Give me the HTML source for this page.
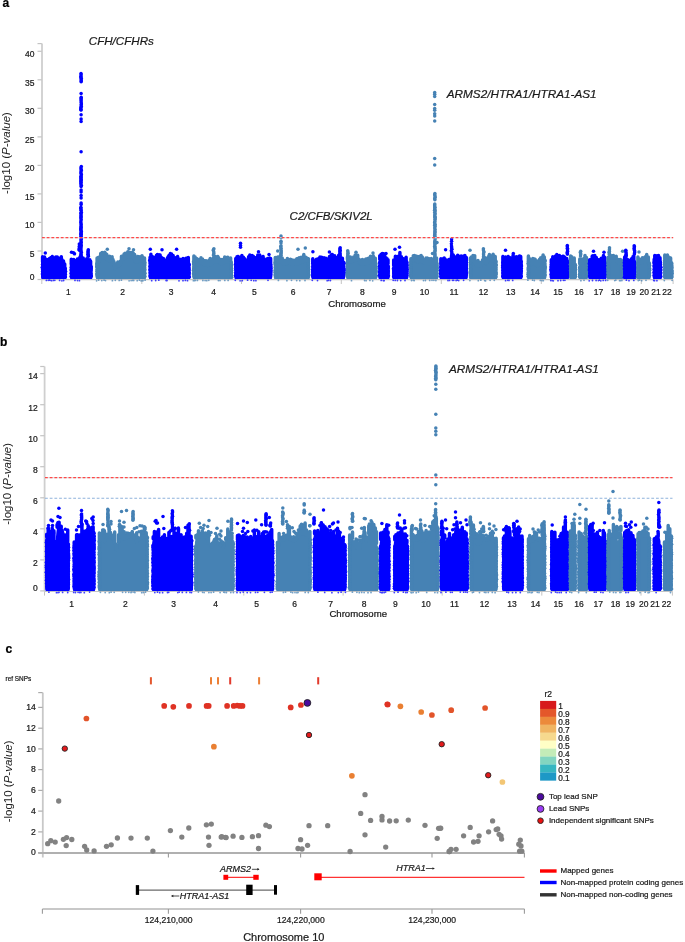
<!DOCTYPE html>
<html><head><meta charset="utf-8"><title>Figure</title>
<style>html,body{margin:0;padding:0;background:#fff;width:685px;height:942px;overflow:hidden}
svg{display:block;font-family:"Liberation Sans",sans-serif;will-change:transform}</style></head>
<body><svg width="685" height="942" viewBox="0 0 685 942" font-family="Liberation Sans, sans-serif"><text x="2.6" y="7.2" font-size="12.00" text-anchor="start" fill="#000" stroke="#000" stroke-width="0.22" font-weight="bold">a</text>
<line x1="42.0" y1="43.6" x2="42.0" y2="279.6" stroke="#cfcfcf" stroke-width="1.8"/>
<line x1="37.5" y1="43.6" x2="41.8" y2="43.6" stroke="#c4c4c4" stroke-width="1.2"/>
<line x1="37.5" y1="279.5" x2="41.8" y2="279.5" stroke="#c4c4c4" stroke-width="1.2"/>
<text x="34.4" y="279.5" font-size="8.50" text-anchor="end" fill="#1a1a1a" stroke="#1a1a1a" stroke-width="0.22">0</text>
<line x1="37.5" y1="251.0" x2="41.8" y2="251.0" stroke="#c4c4c4" stroke-width="1.2"/>
<text x="34.4" y="256.8" font-size="8.50" text-anchor="end" fill="#1a1a1a" stroke="#1a1a1a" stroke-width="0.22">5</text>
<line x1="37.5" y1="222.4" x2="41.8" y2="222.4" stroke="#c4c4c4" stroke-width="1.2"/>
<text x="34.4" y="228.2" font-size="8.50" text-anchor="end" fill="#1a1a1a" stroke="#1a1a1a" stroke-width="0.22">10</text>
<line x1="37.5" y1="193.9" x2="41.8" y2="193.9" stroke="#c4c4c4" stroke-width="1.2"/>
<text x="34.4" y="199.7" font-size="8.50" text-anchor="end" fill="#1a1a1a" stroke="#1a1a1a" stroke-width="0.22">15</text>
<line x1="37.5" y1="165.4" x2="41.8" y2="165.4" stroke="#c4c4c4" stroke-width="1.2"/>
<text x="34.4" y="171.2" font-size="8.50" text-anchor="end" fill="#1a1a1a" stroke="#1a1a1a" stroke-width="0.22">20</text>
<line x1="37.5" y1="136.9" x2="41.8" y2="136.9" stroke="#c4c4c4" stroke-width="1.2"/>
<text x="34.4" y="142.7" font-size="8.50" text-anchor="end" fill="#1a1a1a" stroke="#1a1a1a" stroke-width="0.22">25</text>
<line x1="37.5" y1="108.3" x2="41.8" y2="108.3" stroke="#c4c4c4" stroke-width="1.2"/>
<text x="34.4" y="114.1" font-size="8.50" text-anchor="end" fill="#1a1a1a" stroke="#1a1a1a" stroke-width="0.22">30</text>
<line x1="37.5" y1="79.8" x2="41.8" y2="79.8" stroke="#c4c4c4" stroke-width="1.2"/>
<text x="34.4" y="85.6" font-size="8.50" text-anchor="end" fill="#1a1a1a" stroke="#1a1a1a" stroke-width="0.22">35</text>
<line x1="37.5" y1="51.3" x2="41.8" y2="51.3" stroke="#c4c4c4" stroke-width="1.2"/>
<text x="34.4" y="57.1" font-size="8.50" text-anchor="end" fill="#1a1a1a" stroke="#1a1a1a" stroke-width="0.22">40</text>
<line x1="41.8" y1="279.7" x2="673.2" y2="279.7" stroke="#c4c4c4" stroke-width="1.2"/>
<line x1="41.8" y1="279.7" x2="41.8" y2="284" stroke="#c4c4c4" stroke-width="1"/>
<line x1="141.8" y1="279.7" x2="141.8" y2="284" stroke="#c4c4c4" stroke-width="1"/>
<line x1="241.5" y1="279.7" x2="241.5" y2="284" stroke="#c4c4c4" stroke-width="1"/>
<line x1="341.3" y1="279.7" x2="341.3" y2="284" stroke="#c4c4c4" stroke-width="1"/>
<line x1="441.3" y1="279.7" x2="441.3" y2="284" stroke="#c4c4c4" stroke-width="1"/>
<line x1="541.3" y1="279.7" x2="541.3" y2="284" stroke="#c4c4c4" stroke-width="1"/>
<line x1="641.3" y1="279.7" x2="641.3" y2="284" stroke="#c4c4c4" stroke-width="1"/>
<line x1="673.1" y1="279.7" x2="673.1" y2="284" stroke="#c4c4c4" stroke-width="1"/>
<text x="68.3" y="295.2" font-size="8.50" text-anchor="middle" fill="#1a1a1a" stroke="#1a1a1a" stroke-width="0.22">1</text>
<text x="122.6" y="295.2" font-size="8.50" text-anchor="middle" fill="#1a1a1a" stroke="#1a1a1a" stroke-width="0.22">2</text>
<text x="171.1" y="295.2" font-size="8.50" text-anchor="middle" fill="#1a1a1a" stroke="#1a1a1a" stroke-width="0.22">3</text>
<text x="213.6" y="295.2" font-size="8.50" text-anchor="middle" fill="#1a1a1a" stroke="#1a1a1a" stroke-width="0.22">4</text>
<text x="254.3" y="295.2" font-size="8.50" text-anchor="middle" fill="#1a1a1a" stroke="#1a1a1a" stroke-width="0.22">5</text>
<text x="293.0" y="295.2" font-size="8.50" text-anchor="middle" fill="#1a1a1a" stroke="#1a1a1a" stroke-width="0.22">6</text>
<text x="329.0" y="295.2" font-size="8.50" text-anchor="middle" fill="#1a1a1a" stroke="#1a1a1a" stroke-width="0.22">7</text>
<text x="362.4" y="295.2" font-size="8.50" text-anchor="middle" fill="#1a1a1a" stroke="#1a1a1a" stroke-width="0.22">8</text>
<text x="394.0" y="295.2" font-size="8.50" text-anchor="middle" fill="#1a1a1a" stroke="#1a1a1a" stroke-width="0.22">9</text>
<text x="424.5" y="295.2" font-size="8.50" text-anchor="middle" fill="#1a1a1a" stroke="#1a1a1a" stroke-width="0.22">10</text>
<text x="454.0" y="295.2" font-size="8.50" text-anchor="middle" fill="#1a1a1a" stroke="#1a1a1a" stroke-width="0.22">11</text>
<text x="483.5" y="295.2" font-size="8.50" text-anchor="middle" fill="#1a1a1a" stroke="#1a1a1a" stroke-width="0.22">12</text>
<text x="510.7" y="295.2" font-size="8.50" text-anchor="middle" fill="#1a1a1a" stroke="#1a1a1a" stroke-width="0.22">13</text>
<text x="535.0" y="295.2" font-size="8.50" text-anchor="middle" fill="#1a1a1a" stroke="#1a1a1a" stroke-width="0.22">14</text>
<text x="558.0" y="295.2" font-size="8.50" text-anchor="middle" fill="#1a1a1a" stroke="#1a1a1a" stroke-width="0.22">15</text>
<text x="578.9" y="295.2" font-size="8.50" text-anchor="middle" fill="#1a1a1a" stroke="#1a1a1a" stroke-width="0.22">16</text>
<text x="598.5" y="295.2" font-size="8.50" text-anchor="middle" fill="#1a1a1a" stroke="#1a1a1a" stroke-width="0.22">17</text>
<text x="615.6" y="295.2" font-size="8.50" text-anchor="middle" fill="#1a1a1a" stroke="#1a1a1a" stroke-width="0.22">18</text>
<text x="631.0" y="295.2" font-size="8.50" text-anchor="middle" fill="#1a1a1a" stroke="#1a1a1a" stroke-width="0.22">19</text>
<text x="644.2" y="295.2" font-size="8.50" text-anchor="middle" fill="#1a1a1a" stroke="#1a1a1a" stroke-width="0.22">20</text>
<text x="656.0" y="295.2" font-size="8.50" text-anchor="middle" fill="#1a1a1a" stroke="#1a1a1a" stroke-width="0.22">21</text>
<text x="667.0" y="295.2" font-size="8.50" text-anchor="middle" fill="#1a1a1a" stroke="#1a1a1a" stroke-width="0.22">22</text>
<text x="357.0" y="307.0" font-size="9.60" text-anchor="middle" fill="#1a1a1a" stroke="#1a1a1a" stroke-width="0.22">Chromosome</text>
<text transform="translate(9.5,153.0) rotate(-90)" font-size="11.5" text-anchor="middle" fill="#222">-log10 (<tspan font-style="italic">P-value</tspan>)</text>
<path d="M41.6 279.0 L41.6 260.4 L42.5 260.3 L43.4 260.9 L44.3 260.6 L45.2 261.9 L46.1 262.5 L47.0 262.2 L47.9 262.7 L48.8 261.5 L49.7 261.2 L50.6 260.6 L51.5 260.5 L52.4 260.7 L53.3 261.0 L54.2 260.2 L55.1 260.1 L56.0 260.4 L56.9 260.5 L57.8 260.3 L58.7 260.3 L59.6 261.1 L60.5 260.9 L61.4 262.9 L62.3 263.4 L63.2 264.3 L64.1 265.3 L65.0 266.1 L65.9 267.1 L66.2 279.0 Z" fill="#0000ff"/>
<path d="M42.6 256.8V261.7M43.8 257.4V261.7M44.5 257.1V262.2M45.8 259.2V263.4M47.0 259.5V263.6M48.4 259.9V263.4M49.5 258.5V262.4M50.9 257.4V262.0M51.6 257.7V261.9M52.3 256.5V261.8M53.7 257.8V261.6M54.6 258.0V261.5M55.8 257.1V261.3M57.3 257.1V261.1M58.0 257.8V261.3M59.6 258.5V261.7M60.6 258.2V262.5M61.3 256.7V263.4M62.1 259.7V264.3M63.5 261.0V266.1M64.7 264.1V267.1M42.8 261.1V277.2M65.0 267.8V277.2" stroke="#0000ff" stroke-width="3.50" stroke-linecap="round" fill="none"/>
<g fill="#0000ff"><circle cx="45.3" cy="253.1" r="1.75"/><circle cx="42.6" cy="262.1" r="1.75"/><circle cx="42.5" cy="264.4" r="1.75"/><circle cx="42.2" cy="267.6" r="1.75"/><circle cx="42.7" cy="269.5" r="1.75"/><circle cx="42.6" cy="271.4" r="1.75"/><circle cx="42.4" cy="273.9" r="1.75"/><circle cx="42.8" cy="275.9" r="1.75"/><circle cx="65.3" cy="268.8" r="1.75"/><circle cx="65.6" cy="271.4" r="1.75"/><circle cx="65.3" cy="274.3" r="1.75"/><circle cx="65.4" cy="277.0" r="1.75"/></g>
<g fill="#0000ff" opacity="0.75"><circle cx="46.4" cy="280.4" r="0.9"/><circle cx="48.3" cy="280.3" r="0.9"/><circle cx="49.3" cy="280.2" r="0.9"/><circle cx="50.1" cy="280.3" r="0.9"/><circle cx="51.6" cy="280.7" r="0.9"/><circle cx="53.4" cy="280.4" r="0.9"/><circle cx="54.8" cy="280.3" r="0.9"/><circle cx="59.6" cy="280.4" r="0.9"/><circle cx="61.9" cy="280.8" r="0.9"/><circle cx="63.6" cy="280.5" r="0.9"/></g>
<path d="M70.3 279.0 L70.3 262.9 L71.2 262.6 L72.1 262.1 L73.0 262.6 L73.9 262.9 L74.8 263.6 L75.7 263.5 L76.6 263.9 L77.5 262.9 L78.4 261.7 L79.3 261.4 L80.2 261.1 L81.1 260.7 L82.0 261.2 L82.9 261.8 L83.8 262.5 L84.7 262.7 L85.6 263.6 L86.5 263.0 L87.4 262.2 L88.3 261.8 L89.2 262.8 L90.1 263.5 L91.0 264.6 L91.9 265.6 L92.1 279.0 Z" fill="#0000ff"/>
<path d="M71.3 259.2V263.4M72.9 260.9V263.7M73.7 259.4V264.1M74.5 260.6V264.3M75.9 260.5V264.5M77.4 259.1V264.2M78.9 259.1V262.4M80.0 256.9V261.8M80.9 258.1V261.3M81.9 257.6V261.8M83.2 257.9V262.7M83.9 260.4V263.3M84.7 260.8V264.0M85.9 260.0V264.4M86.7 258.8V264.1M87.9 259.5V263.4M89.0 260.8V263.8M89.8 259.8V264.4M90.6 261.3V265.1M71.5 263.1V277.2M90.9 266.1V277.2" stroke="#0000ff" stroke-width="3.50" stroke-linecap="round" fill="none"/>
<g fill="#0000ff"><circle cx="81.1" cy="93.4" r="1.75"/><circle cx="81.1" cy="114.7" r="1.75"/><circle cx="81.1" cy="118.9" r="1.75"/><circle cx="81.1" cy="121.6" r="1.75"/><circle cx="81.1" cy="151.8" r="1.75"/><circle cx="81.1" cy="190.0" r="1.75"/><circle cx="81.1" cy="192.0" r="1.75"/><circle cx="81.1" cy="195.5" r="1.75"/><circle cx="81.1" cy="198.0" r="1.75"/><circle cx="81.1" cy="203.0" r="1.75"/><circle cx="81.1" cy="204.5" r="1.75"/><circle cx="71.5" cy="252.3" r="1.75"/><circle cx="73.5" cy="252.8" r="1.75"/><circle cx="74.5" cy="253.8" r="1.75"/><circle cx="71.4" cy="264.1" r="1.75"/><circle cx="71.3" cy="267.5" r="1.75"/><circle cx="71.1" cy="269.9" r="1.75"/><circle cx="71.2" cy="273.2" r="1.75"/><circle cx="71.2" cy="276.5" r="1.75"/><circle cx="91.3" cy="267.1" r="1.75"/><circle cx="91.2" cy="268.7" r="1.75"/><circle cx="90.9" cy="270.6" r="1.75"/><circle cx="91.0" cy="273.7" r="1.75"/><circle cx="91.4" cy="276.1" r="1.75"/><circle cx="81.0" cy="73.6" r="1.75"/><circle cx="81.1" cy="74.8" r="1.75"/><circle cx="80.9" cy="76.2" r="1.75"/><circle cx="80.9" cy="77.5" r="1.75"/><circle cx="81.3" cy="78.5" r="1.75"/><circle cx="81.1" cy="79.7" r="1.75"/><circle cx="81.3" cy="81.1" r="1.75"/><circle cx="81.1" cy="81.8" r="1.75"/><circle cx="81.2" cy="97.2" r="1.75"/><circle cx="81.1" cy="98.4" r="1.75"/><circle cx="81.1" cy="99.8" r="1.75"/><circle cx="81.1" cy="101.0" r="1.75"/><circle cx="81.2" cy="102.5" r="1.75"/><circle cx="81.4" cy="104.0" r="1.75"/><circle cx="81.1" cy="105.0" r="1.75"/><circle cx="81.3" cy="106.6" r="1.75"/><circle cx="80.9" cy="107.5" r="1.75"/><circle cx="80.8" cy="108.7" r="1.75"/><circle cx="80.8" cy="109.7" r="1.75"/><circle cx="81.1" cy="109.9" r="1.75"/><circle cx="81.3" cy="166.6" r="1.75"/><circle cx="80.9" cy="168.1" r="1.75"/><circle cx="81.2" cy="169.5" r="1.75"/><circle cx="81.3" cy="170.4" r="1.75"/><circle cx="80.9" cy="172.0" r="1.75"/><circle cx="81.0" cy="173.5" r="1.75"/><circle cx="81.4" cy="174.7" r="1.75"/><circle cx="80.9" cy="176.2" r="1.75"/><circle cx="81.1" cy="177.3" r="1.75"/><circle cx="80.9" cy="178.4" r="1.75"/><circle cx="81.2" cy="179.5" r="1.75"/><circle cx="81.1" cy="180.3" r="1.75"/><circle cx="80.8" cy="181.4" r="1.75"/><circle cx="81.2" cy="182.5" r="1.75"/><circle cx="80.8" cy="183.7" r="1.75"/><circle cx="81.3" cy="185.3" r="1.75"/><circle cx="81.1" cy="186.6" r="1.75"/><circle cx="80.9" cy="207.3" r="1.75"/><circle cx="80.8" cy="208.3" r="1.75"/><circle cx="81.0" cy="209.7" r="1.75"/><circle cx="81.1" cy="210.6" r="1.75"/><circle cx="81.3" cy="212.2" r="1.75"/><circle cx="80.9" cy="213.2" r="1.75"/><circle cx="81.1" cy="214.7" r="1.75"/><circle cx="80.9" cy="216.1" r="1.75"/><circle cx="81.2" cy="216.9" r="1.75"/><circle cx="80.8" cy="218.1" r="1.75"/><circle cx="81.2" cy="219.6" r="1.75"/><circle cx="80.9" cy="221.0" r="1.75"/><circle cx="80.8" cy="222.5" r="1.75"/><circle cx="81.1" cy="224.0" r="1.75"/><circle cx="81.1" cy="225.1" r="1.75"/><circle cx="81.0" cy="226.6" r="1.75"/><circle cx="81.1" cy="227.5" r="1.75"/><circle cx="80.9" cy="228.5" r="1.75"/><circle cx="80.8" cy="229.5" r="1.75"/><circle cx="81.0" cy="230.4" r="1.75"/><circle cx="81.3" cy="231.5" r="1.75"/><circle cx="81.1" cy="232.5" r="1.75"/><circle cx="81.0" cy="233.4" r="1.75"/><circle cx="81.0" cy="234.3" r="1.75"/><circle cx="81.2" cy="235.1" r="1.75"/><circle cx="80.9" cy="236.3" r="1.75"/><circle cx="81.4" cy="237.5" r="1.75"/><circle cx="81.3" cy="238.4" r="1.75"/><circle cx="81.1" cy="239.5" r="1.75"/><circle cx="81.0" cy="241.0" r="1.75"/><circle cx="81.2" cy="242.2" r="1.75"/><circle cx="81.0" cy="243.8" r="1.75"/><circle cx="81.2" cy="245.2" r="1.75"/><circle cx="81.0" cy="246.6" r="1.75"/><circle cx="80.8" cy="247.6" r="1.75"/><circle cx="80.8" cy="248.5" r="1.75"/><circle cx="81.0" cy="249.9" r="1.75"/><circle cx="80.9" cy="250.9" r="1.75"/><circle cx="81.3" cy="252.3" r="1.75"/><circle cx="81.0" cy="253.7" r="1.75"/><circle cx="81.0" cy="254.7" r="1.75"/><circle cx="80.9" cy="255.8" r="1.75"/><circle cx="81.1" cy="256.0" r="1.75"/><circle cx="79.3" cy="244.0" r="1.75"/><circle cx="79.7" cy="245.6" r="1.75"/><circle cx="79.2" cy="246.8" r="1.75"/><circle cx="79.3" cy="248.4" r="1.75"/><circle cx="79.1" cy="249.5" r="1.75"/><circle cx="79.4" cy="250.2" r="1.75"/><circle cx="88.3" cy="249.7" r="1.75"/><circle cx="88.1" cy="250.9" r="1.75"/><circle cx="88.0" cy="252.1" r="1.75"/><circle cx="88.1" cy="253.1" r="1.75"/><circle cx="88.0" cy="254.2" r="1.75"/><circle cx="88.2" cy="255.1" r="1.75"/><circle cx="88.4" cy="256.0" r="1.75"/><circle cx="88.3" cy="256.3" r="1.75"/></g>
<g fill="#0000ff" opacity="0.75"><circle cx="75.0" cy="280.4" r="0.9"/><circle cx="77.5" cy="280.6" r="0.9"/><circle cx="79.4" cy="280.7" r="0.9"/></g>
<path d="M96.1 279.0 L96.1 261.7 L97.0 260.9 L97.9 260.3 L98.8 260.0 L99.7 258.9 L100.6 257.1 L101.5 257.0 L102.4 256.6 L103.3 256.5 L104.2 256.5 L105.1 257.0 L106.0 257.2 L106.9 257.7 L107.8 259.3 L108.7 259.7 L109.6 259.8 L110.5 260.1 L111.4 260.6 L112.3 260.5 L113.2 262.2 L114.1 264.9 L115.0 267.8 L115.9 266.7 L116.8 265.8 L117.7 264.7 L118.6 265.0 L119.5 264.9 L120.4 263.0 L121.3 260.2 L122.2 258.2 L123.1 258.1 L124.0 257.9 L124.9 257.4 L125.8 256.8 L126.7 255.6 L127.6 255.4 L128.5 255.5 L129.4 256.0 L130.3 255.6 L131.2 255.9 L132.1 255.4 L133.0 255.6 L133.9 256.0 L134.8 258.8 L135.7 261.5 L136.6 261.8 L137.5 260.5 L138.4 260.2 L139.3 260.1 L140.2 259.9 L141.1 259.5 L142.0 260.1 L142.9 259.8 L143.8 260.9 L144.7 261.2 L145.6 260.6 L145.7 279.0 Z" fill="#4682b4"/>
<path d="M97.1 258.0V262.1M98.7 257.3V261.4M99.5 257.6V260.4M100.7 253.4V258.4M102.2 252.6V257.5M103.3 254.4V257.4M104.2 254.4V257.3M104.8 252.3V257.6M105.8 253.6V258.2M106.8 254.5V259.0M107.3 256.2V259.6M108.1 257.4V260.3M109.6 256.2V260.8M110.6 258.4V261.1M111.5 257.3V261.5M112.1 256.8V261.8M113.0 259.5V262.3M113.9 261.4V265.4M114.9 265.9V268.7M116.3 263.7V267.3M117.8 262.1V266.0M118.5 262.4V265.8M119.8 261.7V265.3M120.5 261.0V263.9M121.5 256.2V260.6M122.9 256.2V259.0M124.1 254.0V258.5M125.1 253.3V258.2M125.9 254.6V257.6M126.7 254.0V256.9M127.8 251.8V256.8M128.5 252.0V256.8M129.3 252.9V256.8M130.7 252.5V256.8M131.8 252.6V256.9M132.5 252.4V257.0M133.2 253.1V257.1M134.6 254.4V259.2M135.5 257.4V261.7M137.1 259.1V262.2M137.7 256.4V261.6M139.2 257.0V261.1M139.8 256.7V261.0M141.2 257.8V260.9M142.0 255.7V260.8M143.2 257.6V261.2M144.5 258.0V261.6M97.3 262.2V277.2M144.5 261.8V277.2" stroke="#4682b4" stroke-width="3.50" stroke-linecap="round" fill="none"/>
<g fill="#4682b4"><circle cx="107.3" cy="249.2" r="1.75"/><circle cx="129.0" cy="248.7" r="1.75"/><circle cx="133.5" cy="249.7" r="1.75"/><circle cx="96.9" cy="263.2" r="1.75"/><circle cx="96.8" cy="264.8" r="1.75"/><circle cx="96.7" cy="266.8" r="1.75"/><circle cx="97.1" cy="269.6" r="1.75"/><circle cx="97.1" cy="271.3" r="1.75"/><circle cx="96.8" cy="274.1" r="1.75"/><circle cx="97.2" cy="275.8" r="1.75"/><circle cx="144.9" cy="262.8" r="1.75"/><circle cx="144.7" cy="265.0" r="1.75"/><circle cx="144.5" cy="267.7" r="1.75"/><circle cx="144.8" cy="269.8" r="1.75"/><circle cx="144.9" cy="273.2" r="1.75"/><circle cx="144.8" cy="276.5" r="1.75"/></g>
<g fill="#4682b4" opacity="0.75"><circle cx="96.6" cy="280.8" r="0.9"/><circle cx="98.6" cy="280.2" r="0.9"/><circle cx="101.8" cy="280.6" r="0.9"/><circle cx="104.1" cy="280.2" r="0.9"/><circle cx="105.5" cy="280.6" r="0.9"/><circle cx="112.4" cy="280.7" r="0.9"/><circle cx="115.3" cy="280.3" r="0.9"/><circle cx="119.2" cy="280.4" r="0.9"/><circle cx="121.4" cy="280.2" r="0.9"/><circle cx="129.1" cy="280.8" r="0.9"/><circle cx="131.1" cy="280.6" r="0.9"/><circle cx="132.6" cy="280.4" r="0.9"/><circle cx="133.7" cy="280.4" r="0.9"/><circle cx="137.2" cy="280.7" r="0.9"/><circle cx="139.4" cy="280.2" r="0.9"/><circle cx="141.0" cy="280.8" r="0.9"/><circle cx="142.2" cy="280.7" r="0.9"/><circle cx="143.0" cy="280.7" r="0.9"/><circle cx="145.1" cy="280.2" r="0.9"/></g>
<path d="M149.1 279.0 L149.1 259.5 L150.0 258.9 L150.9 259.5 L151.8 259.9 L152.7 259.7 L153.6 259.9 L154.5 260.4 L155.4 259.4 L156.3 258.5 L157.2 258.3 L158.1 257.4 L159.0 257.9 L159.9 258.1 L160.8 259.4 L161.7 260.6 L162.6 261.5 L163.5 263.0 L164.4 262.8 L165.3 263.0 L166.2 262.9 L167.1 261.7 L168.0 260.5 L168.9 259.0 L169.8 258.0 L170.7 257.3 L171.6 257.7 L172.5 259.1 L173.4 259.7 L174.3 262.2 L175.2 261.6 L176.1 260.7 L177.0 259.5 L177.9 260.2 L178.8 260.7 L179.7 261.4 L180.6 262.1 L181.5 263.2 L182.4 262.8 L183.3 262.9 L184.2 263.3 L185.1 261.9 L186.0 260.8 L186.9 260.8 L187.8 261.3 L188.7 261.1 L189.6 262.5 L190.0 279.0 Z" fill="#0000ff"/>
<path d="M150.1 257.2V260.2M150.9 254.3V260.2M152.3 256.5V260.7M153.3 257.3V261.0M154.6 257.7V260.8M155.3 257.2V260.3M156.5 255.2V259.6M157.3 254.4V259.0M158.0 255.6V258.6M159.0 254.8V259.1M160.1 255.0V259.7M161.3 257.2V260.7M162.8 259.5V262.6M163.4 258.6V263.4M165.0 260.5V264.2M165.9 261.2V264.2M166.8 259.5V262.8M167.5 257.8V261.6M168.3 256.4V260.7M169.1 255.3V260.0M170.4 253.5V258.7M171.6 253.9V258.7M172.4 256.4V259.6M173.1 255.4V260.4M174.2 258.9V262.7M175.5 257.8V262.0M176.4 258.1V260.9M177.6 256.4V260.8M179.1 259.4V262.1M179.9 259.3V262.7M180.5 260.2V263.1M181.9 259.9V264.2M183.0 258.4V264.2M184.2 260.0V264.1M185.2 259.1V263.1M186.0 258.3V262.2M186.7 258.2V262.2M188.3 257.5V262.2M150.3 259.6V277.2M188.8 263.8V277.2" stroke="#0000ff" stroke-width="3.50" stroke-linecap="round" fill="none"/>
<g fill="#0000ff"><circle cx="150.3" cy="249.2" r="1.75"/><circle cx="162.0" cy="249.7" r="1.75"/><circle cx="176.6" cy="249.2" r="1.75"/><circle cx="149.7" cy="260.6" r="1.75"/><circle cx="150.2" cy="263.0" r="1.75"/><circle cx="150.0" cy="266.4" r="1.75"/><circle cx="149.9" cy="269.7" r="1.75"/><circle cx="150.2" cy="272.8" r="1.75"/><circle cx="150.1" cy="275.9" r="1.75"/><circle cx="189.3" cy="264.8" r="1.75"/><circle cx="188.9" cy="267.9" r="1.75"/><circle cx="189.1" cy="269.8" r="1.75"/><circle cx="189.1" cy="272.4" r="1.75"/><circle cx="189.0" cy="274.1" r="1.75"/><circle cx="189.4" cy="277.1" r="1.75"/></g>
<g fill="#0000ff" opacity="0.75"><circle cx="151.7" cy="280.7" r="0.9"/><circle cx="155.7" cy="280.5" r="0.9"/><circle cx="158.8" cy="280.2" r="0.9"/><circle cx="166.1" cy="280.5" r="0.9"/><circle cx="167.0" cy="280.5" r="0.9"/><circle cx="179.0" cy="280.8" r="0.9"/><circle cx="183.0" cy="280.7" r="0.9"/><circle cx="185.4" cy="280.4" r="0.9"/><circle cx="187.5" cy="280.7" r="0.9"/></g>
<path d="M192.9 279.0 L192.9 260.2 L193.8 260.6 L194.7 259.8 L195.6 260.7 L196.5 262.2 L197.4 263.2 L198.3 263.4 L199.2 262.5 L200.1 261.5 L201.0 261.2 L201.9 262.0 L202.8 263.2 L203.7 263.6 L204.6 264.2 L205.5 263.1 L206.4 263.6 L207.3 264.4 L208.2 264.5 L209.1 264.7 L210.0 264.1 L210.9 263.8 L211.8 263.3 L212.7 261.7 L213.6 261.7 L214.5 261.1 L215.4 260.6 L216.3 260.7 L217.2 260.0 L218.1 261.4 L219.0 261.5 L219.9 261.9 L220.8 262.9 L221.7 262.4 L222.6 261.8 L223.5 262.1 L224.4 261.0 L225.3 261.5 L226.2 260.9 L227.1 261.1 L228.0 261.4 L228.9 260.8 L229.8 261.0 L230.7 260.8 L231.6 260.6 L232.3 279.0 Z" fill="#4682b4"/>
<path d="M193.9 255.9V261.1M195.1 257.0V261.2M196.6 258.4V263.3M197.9 259.3V265.1M198.6 260.2V264.6M199.8 259.4V263.2M201.0 257.7V261.8M202.5 258.9V263.5M203.2 260.7V264.3M204.6 260.7V264.9M205.2 261.0V264.6M206.1 260.7V264.4M207.7 262.1V265.5M209.2 260.1V265.3M210.2 258.4V264.9M210.8 260.9V264.7M211.5 259.4V264.1M212.7 259.5V263.1M213.4 257.9V262.4M214.1 259.1V262.1M215.4 256.4V261.7M216.7 257.1V261.2M217.8 256.6V261.7M218.4 257.6V262.1M219.7 259.8V262.9M220.6 259.6V263.5M222.0 259.4V263.4M223.2 260.1V262.9M224.7 257.1V262.4M225.5 258.8V262.2M226.9 257.6V262.0M227.8 257.2V261.9M229.0 258.3V261.8M230.6 257.9V262.0M194.1 260.8V277.2M231.1 261.8V277.2" stroke="#4682b4" stroke-width="3.50" stroke-linecap="round" fill="none"/>
<g fill="#4682b4"><circle cx="193.5" cy="261.8" r="1.75"/><circle cx="193.6" cy="264.1" r="1.75"/><circle cx="193.9" cy="266.8" r="1.75"/><circle cx="193.7" cy="268.7" r="1.75"/><circle cx="193.5" cy="270.3" r="1.75"/><circle cx="194.0" cy="272.1" r="1.75"/><circle cx="193.5" cy="273.8" r="1.75"/><circle cx="194.0" cy="276.0" r="1.75"/><circle cx="231.2" cy="262.8" r="1.75"/><circle cx="231.5" cy="265.6" r="1.75"/><circle cx="231.6" cy="268.5" r="1.75"/><circle cx="231.5" cy="270.2" r="1.75"/><circle cx="231.6" cy="272.4" r="1.75"/><circle cx="231.7" cy="275.5" r="1.75"/><circle cx="231.7" cy="277.2" r="1.75"/><circle cx="213.9" cy="248.8" r="1.75"/><circle cx="213.4" cy="249.7" r="1.75"/><circle cx="213.3" cy="250.6" r="1.75"/><circle cx="213.8" cy="252.1" r="1.75"/><circle cx="213.8" cy="253.4" r="1.75"/><circle cx="213.5" cy="254.7" r="1.75"/><circle cx="213.6" cy="255.4" r="1.75"/></g>
<g fill="#4682b4" opacity="0.75"><circle cx="193.4" cy="280.7" r="0.9"/><circle cx="194.5" cy="280.5" r="0.9"/><circle cx="195.4" cy="280.4" r="0.9"/><circle cx="197.4" cy="280.4" r="0.9"/><circle cx="202.9" cy="280.5" r="0.9"/><circle cx="205.1" cy="280.6" r="0.9"/><circle cx="206.8" cy="280.7" r="0.9"/><circle cx="208.8" cy="280.3" r="0.9"/><circle cx="218.4" cy="280.6" r="0.9"/><circle cx="220.0" cy="280.6" r="0.9"/><circle cx="224.8" cy="280.4" r="0.9"/><circle cx="228.1" cy="280.4" r="0.9"/></g>
<path d="M234.8 279.0 L234.8 262.8 L235.7 261.4 L236.6 261.0 L237.5 260.8 L238.4 261.0 L239.3 261.0 L240.2 260.7 L241.1 259.5 L242.0 258.6 L242.9 259.5 L243.8 261.2 L244.7 262.1 L245.6 262.6 L246.5 262.3 L247.4 262.0 L248.3 260.7 L249.2 259.3 L250.1 258.7 L251.0 258.9 L251.9 259.2 L252.8 258.9 L253.7 259.3 L254.6 260.6 L255.5 262.6 L256.4 262.7 L257.3 260.0 L258.2 258.1 L259.1 258.1 L260.0 259.1 L260.9 260.2 L261.8 259.1 L262.7 258.4 L263.6 259.7 L264.5 263.2 L265.4 264.1 L266.3 262.6 L267.2 262.6 L268.1 261.3 L269.0 261.1 L269.9 262.3 L270.8 262.7 L271.7 263.2 L271.7 279.0 Z" fill="#0000ff"/>
<path d="M235.8 258.5V262.6M237.0 256.7V261.8M238.0 256.5V261.8M239.4 258.3V261.8M240.6 257.0V261.1M241.9 255.6V259.9M243.4 257.2V261.4M244.7 258.7V262.9M246.1 260.5V263.5M247.4 260.0V263.1M248.6 256.8V260.9M249.8 255.1V260.1M251.2 256.4V259.9M252.1 255.6V259.8M253.3 256.2V260.4M254.8 257.4V262.2M256.2 259.5V263.8M257.8 255.1V260.3M258.6 255.5V258.8M259.7 254.9V259.9M260.8 257.6V261.1M262.1 257.0V260.2M263.1 256.6V259.5M264.4 259.1V263.4M265.1 262.4V265.2M265.7 259.9V264.5M266.3 259.7V263.9M267.6 258.6V262.9M268.4 259.2V262.5M269.6 257.9V262.6M270.6 258.5V263.2M236.0 263.2V277.2M270.5 263.8V277.2" stroke="#0000ff" stroke-width="3.50" stroke-linecap="round" fill="none"/>
<g fill="#0000ff"><circle cx="240.5" cy="243.2" r="1.75"/><circle cx="240.5" cy="245.5" r="1.75"/><circle cx="240.5" cy="247.2" r="1.75"/><circle cx="269.0" cy="254.4" r="1.75"/><circle cx="258.5" cy="251.8" r="1.75"/><circle cx="235.5" cy="264.2" r="1.75"/><circle cx="235.7" cy="267.0" r="1.75"/><circle cx="235.8" cy="269.6" r="1.75"/><circle cx="235.8" cy="273.1" r="1.75"/><circle cx="235.5" cy="275.8" r="1.75"/><circle cx="270.8" cy="264.8" r="1.75"/><circle cx="270.9" cy="266.8" r="1.75"/><circle cx="271.0" cy="268.6" r="1.75"/><circle cx="271.0" cy="270.8" r="1.75"/><circle cx="270.8" cy="272.8" r="1.75"/><circle cx="270.8" cy="274.8" r="1.75"/><circle cx="270.5" cy="276.7" r="1.75"/></g>
<g fill="#0000ff" opacity="0.75"><circle cx="235.3" cy="280.3" r="0.9"/><circle cx="240.1" cy="280.8" r="0.9"/><circle cx="242.3" cy="280.7" r="0.9"/><circle cx="247.6" cy="280.2" r="0.9"/><circle cx="251.2" cy="280.3" r="0.9"/><circle cx="253.8" cy="280.7" r="0.9"/><circle cx="255.9" cy="280.7" r="0.9"/><circle cx="268.0" cy="280.3" r="0.9"/></g>
<path d="M274.3 279.0 L274.3 261.1 L275.2 261.0 L276.1 259.8 L277.0 260.8 L277.9 260.5 L278.8 260.8 L279.7 260.7 L280.6 260.7 L281.5 260.7 L282.4 261.9 L283.3 263.3 L284.2 262.5 L285.1 263.2 L286.0 263.4 L286.9 262.1 L287.8 262.0 L288.7 262.2 L289.6 262.8 L290.5 262.5 L291.4 263.5 L292.3 263.3 L293.2 263.2 L294.1 263.6 L295.0 262.8 L295.9 263.5 L296.8 263.1 L297.7 262.5 L298.6 262.7 L299.5 261.9 L300.4 261.6 L301.3 261.3 L302.2 261.1 L303.1 260.1 L304.0 260.1 L304.9 259.9 L305.8 259.9 L306.7 260.2 L307.6 260.3 L308.5 261.5 L309.4 261.7 L309.5 279.0 Z" fill="#4682b4"/>
<path d="M275.3 257.6V261.6M276.4 258.6V261.3M277.8 257.1V261.5M278.7 257.9V261.7M280.1 256.3V261.5M281.6 257.7V262.0M282.2 257.9V262.7M283.4 260.2V263.8M284.9 260.4V264.1M286.1 260.7V264.2M287.4 258.4V263.2M288.5 259.4V262.9M289.1 259.9V263.2M290.4 259.3V263.6M291.8 260.3V264.2M292.6 260.0V264.2M293.7 260.6V264.2M294.3 260.3V264.2M295.7 260.4V264.2M296.8 258.7V264.0M298.0 260.7V263.6M299.1 257.8V263.2M299.9 258.0V262.9M301.1 257.3V262.3M301.8 259.0V262.0M302.4 258.3V261.7M303.8 254.6V261.2M305.1 257.9V261.0M305.8 257.2V260.9M306.8 258.1V261.0M308.4 258.7V262.1M275.5 261.8V277.2M308.3 262.8V277.2" stroke="#4682b4" stroke-width="3.50" stroke-linecap="round" fill="none"/>
<g fill="#4682b4"><circle cx="281.0" cy="236.0" r="1.75"/><circle cx="281.0" cy="237.8" r="1.75"/><circle cx="281.0" cy="241.2" r="1.75"/><circle cx="281.0" cy="243.0" r="1.75"/><circle cx="277.7" cy="251.1" r="1.75"/><circle cx="298.0" cy="249.3" r="1.75"/><circle cx="305.3" cy="248.1" r="1.75"/><circle cx="275.0" cy="262.8" r="1.75"/><circle cx="275.3" cy="264.4" r="1.75"/><circle cx="275.4" cy="267.4" r="1.75"/><circle cx="275.2" cy="270.6" r="1.75"/><circle cx="275.2" cy="272.2" r="1.75"/><circle cx="275.2" cy="274.9" r="1.75"/><circle cx="308.4" cy="263.8" r="1.75"/><circle cx="308.6" cy="266.8" r="1.75"/><circle cx="308.7" cy="269.6" r="1.75"/><circle cx="308.6" cy="272.0" r="1.75"/><circle cx="308.9" cy="275.0" r="1.75"/><circle cx="281.0" cy="245.7" r="1.75"/><circle cx="280.7" cy="246.7" r="1.75"/><circle cx="281.1" cy="248.3" r="1.75"/><circle cx="280.9" cy="249.8" r="1.75"/><circle cx="281.3" cy="251.1" r="1.75"/><circle cx="281.1" cy="252.5" r="1.75"/><circle cx="281.0" cy="253.6" r="1.75"/><circle cx="280.9" cy="255.1" r="1.75"/><circle cx="281.0" cy="255.4" r="1.75"/></g>
<g fill="#4682b4" opacity="0.75"><circle cx="278.4" cy="280.4" r="0.9"/><circle cx="286.9" cy="280.7" r="0.9"/><circle cx="291.5" cy="280.3" r="0.9"/><circle cx="296.7" cy="280.6" r="0.9"/><circle cx="299.8" cy="280.7" r="0.9"/><circle cx="305.0" cy="280.5" r="0.9"/></g>
<path d="M311.8 279.0 L311.8 262.0 L312.7 262.6 L313.6 262.7 L314.5 263.1 L315.4 263.3 L316.3 263.7 L317.2 262.4 L318.1 261.7 L319.0 260.7 L319.9 261.0 L320.8 260.8 L321.7 261.0 L322.6 262.1 L323.5 261.7 L324.4 261.7 L325.3 262.4 L326.2 262.5 L327.1 261.9 L328.0 262.3 L328.9 261.0 L329.8 260.2 L330.7 258.6 L331.6 258.3 L332.5 259.2 L333.4 259.1 L334.3 259.2 L335.2 260.6 L336.1 261.3 L337.0 261.2 L337.9 260.2 L338.8 260.9 L339.7 260.9 L340.6 261.2 L341.5 261.6 L342.4 261.1 L343.3 261.0 L344.2 261.3 L344.7 279.0 Z" fill="#0000ff"/>
<path d="M312.8 258.7V263.6M313.9 261.2V264.2M315.5 260.6V264.6M316.5 259.3V264.2M317.4 259.6V263.4M318.9 258.3V261.8M320.0 257.1V262.0M321.6 257.3V262.4M322.5 259.7V262.6M324.0 257.8V263.0M325.3 259.6V263.2M325.9 258.3V263.2M327.5 259.7V263.2M328.7 258.7V262.5M329.5 256.5V261.5M330.3 255.9V260.6M331.6 254.5V259.8M332.3 254.5V259.8M333.2 256.9V259.8M334.7 255.8V260.7M335.3 258.8V261.7M336.6 258.1V262.2M338.0 257.2V261.3M338.7 255.2V261.4M339.9 256.8V261.7M340.8 257.7V261.9M341.6 259.0V262.2M342.4 258.3V262.3M313.0 262.2V277.2M343.5 262.2V277.2" stroke="#0000ff" stroke-width="3.50" stroke-linecap="round" fill="none"/>
<g fill="#0000ff"><circle cx="312.9" cy="251.8" r="1.75"/><circle cx="329.4" cy="252.1" r="1.75"/><circle cx="312.9" cy="263.2" r="1.75"/><circle cx="312.9" cy="266.7" r="1.75"/><circle cx="312.6" cy="270.0" r="1.75"/><circle cx="312.7" cy="271.9" r="1.75"/><circle cx="312.8" cy="274.0" r="1.75"/><circle cx="312.7" cy="275.9" r="1.75"/><circle cx="344.1" cy="263.2" r="1.75"/><circle cx="343.6" cy="266.6" r="1.75"/><circle cx="344.1" cy="268.7" r="1.75"/><circle cx="344.0" cy="270.3" r="1.75"/><circle cx="344.1" cy="272.4" r="1.75"/><circle cx="344.0" cy="273.9" r="1.75"/><circle cx="343.6" cy="276.1" r="1.75"/><circle cx="340.2" cy="247.8" r="1.75"/><circle cx="339.8" cy="249.0" r="1.75"/><circle cx="340.2" cy="250.2" r="1.75"/><circle cx="340.0" cy="251.1" r="1.75"/><circle cx="339.8" cy="252.1" r="1.75"/><circle cx="340.1" cy="253.5" r="1.75"/><circle cx="339.7" cy="254.4" r="1.75"/><circle cx="340.1" cy="255.3" r="1.75"/><circle cx="340.0" cy="256.4" r="1.75"/></g>
<g fill="#0000ff" opacity="0.75"><circle cx="312.3" cy="280.3" r="0.9"/><circle cx="317.5" cy="280.6" r="0.9"/><circle cx="327.2" cy="280.7" r="0.9"/><circle cx="328.6" cy="280.4" r="0.9"/><circle cx="330.4" cy="280.5" r="0.9"/></g>
<path d="M346.5 279.0 L346.5 259.2 L347.4 259.2 L348.3 258.4 L349.2 259.2 L350.1 260.0 L351.0 261.0 L351.9 261.1 L352.8 259.9 L353.7 259.4 L354.6 259.4 L355.5 258.3 L356.4 258.0 L357.3 259.0 L358.2 259.7 L359.1 261.2 L360.0 263.0 L360.9 262.5 L361.8 263.3 L362.7 263.3 L363.6 262.7 L364.5 262.7 L365.4 262.8 L366.3 262.5 L367.2 262.0 L368.1 261.6 L369.0 261.7 L369.9 260.8 L370.8 260.7 L371.7 260.4 L372.6 259.1 L373.5 259.9 L374.4 261.2 L375.3 261.5 L376.2 262.3 L376.8 279.0 Z" fill="#4682b4"/>
<path d="M347.5 256.7V259.6M348.5 256.8V259.9M349.5 258.0V260.8M350.4 257.0V261.7M351.5 259.3V262.0M353.0 258.1V261.3M353.6 256.9V260.8M355.2 255.1V259.8M356.4 255.1V259.5M357.1 255.6V259.8M357.7 255.2V260.1M359.1 259.2V262.1M360.5 260.8V263.8M361.1 260.3V263.9M362.4 259.5V264.0M363.9 260.6V264.2M365.0 259.7V263.9M365.9 259.1V263.6M366.6 259.6V263.4M367.7 258.5V263.1M368.9 257.9V262.8M369.6 257.8V262.4M370.5 256.2V261.8M371.9 257.2V260.9M373.2 255.7V260.5M374.3 257.9V261.8M375.3 258.3V262.8M347.7 260.8V277.2M375.6 262.8V277.2" stroke="#4682b4" stroke-width="3.50" stroke-linecap="round" fill="none"/>
<g fill="#4682b4"><circle cx="356.0" cy="252.3" r="1.75"/><circle cx="373.0" cy="252.9" r="1.75"/><circle cx="347.4" cy="261.8" r="1.75"/><circle cx="347.3" cy="264.0" r="1.75"/><circle cx="347.5" cy="265.5" r="1.75"/><circle cx="347.5" cy="268.8" r="1.75"/><circle cx="347.4" cy="271.4" r="1.75"/><circle cx="347.1" cy="273.4" r="1.75"/><circle cx="347.2" cy="275.5" r="1.75"/><circle cx="375.7" cy="263.8" r="1.75"/><circle cx="375.9" cy="267.0" r="1.75"/><circle cx="375.9" cy="268.6" r="1.75"/><circle cx="376.1" cy="271.0" r="1.75"/><circle cx="375.8" cy="272.7" r="1.75"/><circle cx="376.1" cy="276.1" r="1.75"/><circle cx="347.7" cy="250.8" r="1.75"/><circle cx="347.9" cy="251.9" r="1.75"/><circle cx="348.0" cy="253.2" r="1.75"/><circle cx="347.8" cy="254.6" r="1.75"/><circle cx="347.9" cy="256.0" r="1.75"/><circle cx="347.8" cy="256.4" r="1.75"/></g>
<g fill="#4682b4" opacity="0.75"><circle cx="351.5" cy="280.7" r="0.9"/><circle cx="364.6" cy="280.5" r="0.9"/><circle cx="366.1" cy="280.7" r="0.9"/><circle cx="369.9" cy="280.4" r="0.9"/><circle cx="372.7" cy="280.8" r="0.9"/></g>
<path d="M378.8 279.0 L378.8 260.8 L379.7 258.5 L380.6 257.8 L381.5 257.8 L382.4 256.3 L383.3 256.6 L384.2 257.5 L385.1 257.9 L386.0 259.9 L386.9 261.3 L387.8 262.5 L388.7 264.3 L389.2 279.0 Z" fill="#0000ff"/>
<path d="M379.8 255.7V259.6M381.1 254.3V258.6M382.3 253.5V257.9M383.6 253.7V258.2M384.6 254.7V258.6M386.0 257.8V260.6M387.1 258.7V262.4M388.0 259.8V263.8M380.0 261.8V277.2M388.0 265.8V277.2" stroke="#0000ff" stroke-width="3.50" stroke-linecap="round" fill="none"/>
<g fill="#0000ff"><circle cx="386.0" cy="253.4" r="1.75"/><circle cx="379.8" cy="262.8" r="1.75"/><circle cx="379.5" cy="266.2" r="1.75"/><circle cx="379.9" cy="268.7" r="1.75"/><circle cx="379.5" cy="272.0" r="1.75"/><circle cx="379.4" cy="275.2" r="1.75"/><circle cx="388.3" cy="266.8" r="1.75"/><circle cx="388.2" cy="268.6" r="1.75"/><circle cx="388.3" cy="271.1" r="1.75"/><circle cx="388.1" cy="273.0" r="1.75"/><circle cx="388.4" cy="275.7" r="1.75"/></g>
<g fill="#0000ff" opacity="0.75"><circle cx="381.2" cy="280.4" r="0.9"/><circle cx="383.3" cy="280.6" r="0.9"/><circle cx="384.1" cy="280.7" r="0.9"/></g>
<path d="M392.7 279.0 L392.7 266.0 L393.6 264.7 L394.5 263.4 L395.4 263.1 L396.3 261.9 L397.2 260.9 L398.1 259.5 L399.0 258.4 L399.9 259.5 L400.8 259.3 L401.7 260.2 L402.6 261.4 L403.5 262.3 L404.4 262.6 L405.3 261.9 L406.2 260.8 L407.1 259.0 L407.9 279.0 Z" fill="#0000ff"/>
<path d="M393.7 260.1V265.4M394.6 260.8V264.2M395.4 256.2V263.6M396.6 258.2V262.6M397.5 256.4V261.6M398.7 257.3V260.1M399.9 252.4V260.2M401.4 256.8V261.3M402.8 258.5V263.0M404.4 259.2V263.2M405.2 258.6V262.9M406.1 257.2V261.7M393.9 267.8V277.2M406.7 261.8V277.2" stroke="#0000ff" stroke-width="3.50" stroke-linecap="round" fill="none"/>
<g fill="#0000ff"><circle cx="395.0" cy="249.3" r="1.75"/><circle cx="399.5" cy="247.2" r="1.75"/><circle cx="393.4" cy="268.8" r="1.75"/><circle cx="393.8" cy="270.7" r="1.75"/><circle cx="393.8" cy="273.0" r="1.75"/><circle cx="393.7" cy="276.4" r="1.75"/><circle cx="406.8" cy="262.8" r="1.75"/><circle cx="407.0" cy="265.3" r="1.75"/><circle cx="406.8" cy="267.6" r="1.75"/><circle cx="407.2" cy="269.4" r="1.75"/><circle cx="406.9" cy="271.6" r="1.75"/><circle cx="406.9" cy="273.5" r="1.75"/><circle cx="406.8" cy="275.4" r="1.75"/></g>
<g fill="#0000ff" opacity="0.75"><circle cx="393.2" cy="280.3" r="0.9"/><circle cx="395.2" cy="280.4" r="0.9"/><circle cx="397.4" cy="280.5" r="0.9"/><circle cx="400.7" cy="280.6" r="0.9"/><circle cx="405.0" cy="280.5" r="0.9"/></g>
<path d="M409.9 279.0 L409.9 260.9 L410.8 260.5 L411.7 260.6 L412.6 260.0 L413.5 260.2 L414.4 258.8 L415.3 258.4 L416.2 259.0 L417.1 259.6 L418.0 261.0 L418.9 260.3 L419.8 260.3 L420.7 259.9 L421.6 260.1 L422.5 260.9 L423.4 261.3 L424.3 261.9 L425.2 262.6 L426.1 262.1 L427.0 262.4 L427.9 261.9 L428.8 262.4 L429.7 262.4 L430.6 262.7 L431.5 262.3 L432.4 261.6 L433.3 261.4 L434.2 261.0 L435.1 261.1 L436.0 261.9 L436.9 261.7 L437.8 262.0 L437.9 279.0 Z" fill="#4682b4"/>
<path d="M410.9 258.8V261.7M412.4 258.3V261.4M413.3 255.8V261.0M414.5 255.6V260.0M415.8 256.1V259.5M417.2 256.6V261.0M418.0 256.7V261.7M419.4 257.8V261.3M420.1 256.3V261.0M421.1 255.6V260.8M422.3 257.0V261.9M423.5 259.4V262.8M424.5 259.7V263.2M425.1 260.1V263.2M426.0 258.1V263.2M427.2 258.1V263.2M427.9 260.0V263.2M429.4 258.7V263.5M430.4 260.3V263.7M431.3 258.5V263.6M432.3 260.2V263.1M433.7 259.3V262.4M434.7 257.3V262.4M435.7 258.7V262.6M436.5 258.0V262.8M411.1 261.8V277.2M436.7 262.8V277.2" stroke="#4682b4" stroke-width="3.50" stroke-linecap="round" fill="none"/>
<g fill="#4682b4"><circle cx="434.7" cy="92.5" r="1.75"/><circle cx="434.7" cy="94.3" r="1.75"/><circle cx="434.7" cy="96.5" r="1.75"/><circle cx="434.7" cy="104.6" r="1.75"/><circle cx="434.7" cy="108.5" r="1.75"/><circle cx="434.7" cy="110.3" r="1.75"/><circle cx="434.7" cy="113.8" r="1.75"/><circle cx="434.7" cy="116.1" r="1.75"/><circle cx="434.7" cy="120.9" r="1.75"/><circle cx="434.7" cy="158.6" r="1.75"/><circle cx="434.7" cy="164.9" r="1.75"/><circle cx="437.0" cy="242.6" r="1.75"/><circle cx="432.5" cy="253.4" r="1.75"/><circle cx="410.9" cy="262.8" r="1.75"/><circle cx="410.5" cy="265.3" r="1.75"/><circle cx="410.7" cy="268.1" r="1.75"/><circle cx="411.0" cy="270.1" r="1.75"/><circle cx="410.8" cy="272.3" r="1.75"/><circle cx="410.9" cy="274.2" r="1.75"/><circle cx="410.6" cy="276.0" r="1.75"/><circle cx="436.9" cy="263.8" r="1.75"/><circle cx="437.0" cy="265.7" r="1.75"/><circle cx="437.3" cy="268.1" r="1.75"/><circle cx="436.9" cy="270.3" r="1.75"/><circle cx="436.8" cy="273.6" r="1.75"/><circle cx="436.9" cy="276.2" r="1.75"/><circle cx="434.9" cy="193.4" r="1.75"/><circle cx="434.7" cy="194.8" r="1.75"/><circle cx="435.0" cy="196.1" r="1.75"/><circle cx="435.1" cy="197.3" r="1.75"/><circle cx="434.7" cy="198.8" r="1.75"/><circle cx="434.9" cy="199.8" r="1.75"/><circle cx="434.8" cy="203.9" r="1.75"/><circle cx="434.6" cy="204.9" r="1.75"/><circle cx="434.7" cy="205.9" r="1.75"/><circle cx="434.9" cy="207.3" r="1.75"/><circle cx="434.8" cy="208.1" r="1.75"/><circle cx="434.8" cy="209.3" r="1.75"/><circle cx="434.6" cy="210.3" r="1.75"/><circle cx="435.2" cy="211.1" r="1.75"/><circle cx="434.7" cy="212.5" r="1.75"/><circle cx="435.2" cy="213.8" r="1.75"/><circle cx="434.7" cy="215.1" r="1.75"/><circle cx="434.9" cy="216.3" r="1.75"/><circle cx="434.9" cy="217.2" r="1.75"/><circle cx="435.2" cy="218.0" r="1.75"/><circle cx="435.0" cy="219.3" r="1.75"/><circle cx="435.0" cy="220.9" r="1.75"/><circle cx="434.7" cy="221.9" r="1.75"/><circle cx="434.6" cy="222.8" r="1.75"/><circle cx="435.1" cy="224.2" r="1.75"/><circle cx="434.7" cy="225.3" r="1.75"/><circle cx="435.1" cy="226.6" r="1.75"/><circle cx="434.7" cy="228.1" r="1.75"/><circle cx="435.1" cy="229.5" r="1.75"/><circle cx="434.8" cy="230.9" r="1.75"/><circle cx="435.1" cy="231.9" r="1.75"/><circle cx="434.8" cy="232.9" r="1.75"/><circle cx="434.8" cy="234.2" r="1.75"/><circle cx="434.7" cy="235.6" r="1.75"/><circle cx="434.9" cy="236.5" r="1.75"/><circle cx="435.1" cy="237.8" r="1.75"/><circle cx="435.1" cy="239.1" r="1.75"/><circle cx="434.9" cy="240.7" r="1.75"/><circle cx="434.7" cy="241.9" r="1.75"/><circle cx="434.9" cy="242.9" r="1.75"/><circle cx="435.0" cy="243.8" r="1.75"/><circle cx="434.9" cy="244.7" r="1.75"/><circle cx="434.7" cy="246.3" r="1.75"/><circle cx="434.9" cy="247.1" r="1.75"/><circle cx="435.0" cy="248.1" r="1.75"/><circle cx="435.1" cy="248.9" r="1.75"/><circle cx="435.1" cy="250.4" r="1.75"/><circle cx="434.8" cy="251.5" r="1.75"/><circle cx="434.9" cy="252.9" r="1.75"/><circle cx="434.8" cy="254.0" r="1.75"/><circle cx="435.0" cy="255.1" r="1.75"/><circle cx="434.9" cy="256.0" r="1.75"/></g>
<g fill="#4682b4" opacity="0.75"><circle cx="411.5" cy="280.5" r="0.9"/><circle cx="413.2" cy="280.3" r="0.9"/><circle cx="414.2" cy="280.5" r="0.9"/><circle cx="423.5" cy="280.6" r="0.9"/><circle cx="425.4" cy="280.5" r="0.9"/><circle cx="429.7" cy="280.4" r="0.9"/><circle cx="432.0" cy="280.3" r="0.9"/><circle cx="433.9" cy="280.3" r="0.9"/><circle cx="435.9" cy="280.5" r="0.9"/></g>
<path d="M439.9 279.0 L439.9 262.1 L440.8 261.6 L441.7 261.5 L442.6 262.3 L443.5 262.2 L444.4 262.0 L445.3 262.9 L446.2 262.6 L447.1 262.6 L448.0 263.3 L448.9 263.0 L449.8 263.2 L450.7 262.4 L451.6 261.0 L452.5 259.9 L453.4 258.0 L454.3 259.9 L455.2 261.7 L456.1 262.7 L457.0 262.2 L457.9 260.9 L458.8 260.5 L459.7 260.2 L460.6 259.1 L461.5 259.0 L462.4 259.2 L463.3 258.7 L464.2 259.8 L465.1 259.9 L466.0 259.6 L466.9 260.7 L467.3 279.0 Z" fill="#0000ff"/>
<path d="M440.9 258.7V263.0M442.5 259.0V262.9M443.2 259.4V263.0M444.2 258.0V263.3M445.0 259.0V263.5M446.0 260.8V263.7M447.5 260.3V264.1M448.9 259.4V264.2M449.9 260.9V264.2M451.3 257.6V262.6M452.7 257.7V260.6M453.3 254.9V259.6M454.7 256.7V261.7M456.0 259.6V264.2M457.0 260.1V263.2M457.7 255.3V262.5M458.5 258.0V261.8M459.8 256.4V260.7M461.3 255.9V259.8M462.7 256.7V260.0M463.4 256.2V260.2M464.9 255.4V260.6M466.3 257.6V261.2M441.1 262.8V277.2M466.1 261.2V277.2" stroke="#0000ff" stroke-width="3.50" stroke-linecap="round" fill="none"/>
<g fill="#0000ff"><circle cx="451.6" cy="239.0" r="1.75"/><circle cx="451.6" cy="241.2" r="1.75"/><circle cx="451.4" cy="243.8" r="1.75"/><circle cx="445.6" cy="249.8" r="1.75"/><circle cx="441.0" cy="263.8" r="1.75"/><circle cx="440.8" cy="266.9" r="1.75"/><circle cx="440.7" cy="270.2" r="1.75"/><circle cx="440.9" cy="271.8" r="1.75"/><circle cx="440.5" cy="273.8" r="1.75"/><circle cx="441.0" cy="276.4" r="1.75"/><circle cx="466.4" cy="262.2" r="1.75"/><circle cx="466.5" cy="264.7" r="1.75"/><circle cx="466.3" cy="267.0" r="1.75"/><circle cx="466.5" cy="268.5" r="1.75"/><circle cx="466.1" cy="270.6" r="1.75"/><circle cx="466.7" cy="273.1" r="1.75"/><circle cx="466.2" cy="274.7" r="1.75"/><circle cx="451.5" cy="246.0" r="1.75"/><circle cx="451.6" cy="247.0" r="1.75"/><circle cx="451.6" cy="248.0" r="1.75"/><circle cx="451.9" cy="249.3" r="1.75"/><circle cx="451.3" cy="250.8" r="1.75"/><circle cx="451.8" cy="252.1" r="1.75"/><circle cx="451.8" cy="253.6" r="1.75"/><circle cx="451.7" cy="254.9" r="1.75"/><circle cx="451.5" cy="256.0" r="1.75"/><circle cx="451.6" cy="256.0" r="1.75"/></g>
<g fill="#0000ff" opacity="0.75"><circle cx="448.0" cy="280.5" r="0.9"/><circle cx="449.5" cy="280.4" r="0.9"/><circle cx="452.5" cy="280.3" r="0.9"/><circle cx="453.7" cy="280.3" r="0.9"/><circle cx="456.1" cy="280.5" r="0.9"/><circle cx="457.4" cy="280.2" r="0.9"/><circle cx="458.7" cy="280.6" r="0.9"/><circle cx="463.6" cy="280.3" r="0.9"/></g>
<path d="M469.4 279.0 L469.4 261.0 L470.3 259.8 L471.2 259.7 L472.1 259.2 L473.0 259.9 L473.9 260.6 L474.8 261.8 L475.7 263.8 L476.6 264.3 L477.5 264.6 L478.4 264.8 L479.3 265.3 L480.2 264.9 L481.1 265.0 L482.0 263.0 L482.9 261.7 L483.8 260.8 L484.7 261.5 L485.6 262.0 L486.5 262.4 L487.4 261.6 L488.3 260.2 L489.2 258.7 L490.1 259.3 L491.0 259.7 L491.9 259.6 L492.8 259.5 L493.7 259.6 L494.6 260.0 L495.5 260.4 L496.4 260.3 L496.9 279.0 Z" fill="#4682b4"/>
<path d="M470.4 257.9V260.8M471.3 257.0V260.4M472.3 257.2V260.7M473.0 255.5V260.9M473.9 257.2V261.2M474.7 255.7V262.9M475.9 261.7V265.5M477.2 261.2V265.9M478.0 260.6V265.9M479.0 262.1V266.0M480.1 262.6V266.2M481.1 262.7V266.1M482.4 260.3V263.6M483.3 258.5V261.8M484.3 257.4V262.0M485.9 257.9V263.6M487.2 259.1V262.4M488.8 255.9V260.6M489.4 254.6V259.8M490.1 256.0V260.0M490.9 257.4V260.3M491.6 255.8V260.6M493.1 254.2V260.9M494.0 258.2V260.9M495.2 256.6V261.0M470.6 261.8V277.2M495.7 260.8V277.2" stroke="#4682b4" stroke-width="3.50" stroke-linecap="round" fill="none"/>
<g fill="#4682b4"><circle cx="470.0" cy="250.3" r="1.75"/><circle cx="470.4" cy="262.8" r="1.75"/><circle cx="470.5" cy="266.1" r="1.75"/><circle cx="470.5" cy="269.0" r="1.75"/><circle cx="470.3" cy="271.8" r="1.75"/><circle cx="470.5" cy="275.0" r="1.75"/><circle cx="496.0" cy="261.8" r="1.75"/><circle cx="496.3" cy="265.1" r="1.75"/><circle cx="495.9" cy="267.8" r="1.75"/><circle cx="495.9" cy="269.8" r="1.75"/><circle cx="495.9" cy="272.2" r="1.75"/><circle cx="496.2" cy="274.1" r="1.75"/><circle cx="495.9" cy="276.9" r="1.75"/><circle cx="483.4" cy="248.8" r="1.75"/><circle cx="483.4" cy="250.1" r="1.75"/><circle cx="483.8" cy="251.5" r="1.75"/><circle cx="483.8" cy="252.6" r="1.75"/><circle cx="483.5" cy="254.0" r="1.75"/><circle cx="483.6" cy="255.1" r="1.75"/><circle cx="483.6" cy="256.4" r="1.75"/></g>
<g fill="#4682b4" opacity="0.75"><circle cx="469.9" cy="280.6" r="0.9"/><circle cx="478.3" cy="280.7" r="0.9"/><circle cx="480.8" cy="280.2" r="0.9"/><circle cx="484.7" cy="280.6" r="0.9"/><circle cx="485.6" cy="280.8" r="0.9"/><circle cx="490.1" cy="280.3" r="0.9"/><circle cx="494.3" cy="280.3" r="0.9"/></g>
<path d="M501.9 279.0 L501.9 261.4 L502.8 260.3 L503.7 260.4 L504.6 259.8 L505.5 259.9 L506.4 259.5 L507.3 260.0 L508.2 259.7 L509.1 260.6 L510.0 261.3 L510.9 261.8 L511.8 262.3 L512.7 261.5 L513.6 261.5 L514.5 260.6 L515.4 260.2 L516.3 260.7 L517.2 260.5 L518.1 260.2 L519.0 259.6 L519.9 259.4 L520.8 259.7 L521.7 259.6 L522.1 279.0 Z" fill="#0000ff"/>
<path d="M502.9 256.5V261.7M503.9 257.4V261.3M504.5 257.7V261.2M505.6 257.1V261.0M507.2 257.8V260.8M508.2 256.6V261.1M509.8 257.8V262.1M510.8 258.1V263.1M511.4 259.9V263.7M512.3 259.3V263.0M513.1 255.2V262.2M514.5 257.4V261.8M515.4 257.8V261.4M516.3 256.8V261.2M517.8 257.1V261.0M519.4 256.1V260.8M520.7 256.6V260.9M503.1 261.8V277.2M520.9 260.8V277.2" stroke="#0000ff" stroke-width="3.50" stroke-linecap="round" fill="none"/>
<g fill="#0000ff"><circle cx="505.5" cy="250.3" r="1.75"/><circle cx="513.3" cy="253.4" r="1.75"/><circle cx="502.7" cy="262.8" r="1.75"/><circle cx="502.7" cy="265.5" r="1.75"/><circle cx="502.7" cy="267.6" r="1.75"/><circle cx="502.9" cy="270.2" r="1.75"/><circle cx="502.9" cy="272.9" r="1.75"/><circle cx="502.8" cy="276.2" r="1.75"/><circle cx="521.3" cy="261.8" r="1.75"/><circle cx="521.1" cy="264.2" r="1.75"/><circle cx="521.5" cy="266.0" r="1.75"/><circle cx="521.3" cy="268.5" r="1.75"/><circle cx="521.4" cy="271.1" r="1.75"/><circle cx="521.0" cy="273.1" r="1.75"/><circle cx="521.2" cy="276.2" r="1.75"/></g>
<g fill="#0000ff" opacity="0.75"><circle cx="505.6" cy="280.7" r="0.9"/><circle cx="507.8" cy="280.3" r="0.9"/><circle cx="509.0" cy="280.4" r="0.9"/><circle cx="512.7" cy="280.4" r="0.9"/></g>
<path d="M527.4 279.0 L527.4 260.1 L528.3 260.1 L529.2 260.5 L530.1 261.7 L531.0 263.5 L531.9 263.1 L532.8 261.8 L533.7 261.5 L534.6 263.0 L535.5 263.5 L536.4 264.5 L537.3 264.7 L538.2 264.4 L539.1 262.7 L540.0 261.9 L540.9 260.8 L541.8 259.6 L542.7 259.3 L543.6 259.5 L544.5 259.4 L545.4 259.1 L545.9 279.0 Z" fill="#4682b4"/>
<path d="M528.4 256.1V261.2M529.4 258.4V261.9M530.4 260.0V263.6M531.3 260.2V264.5M532.8 258.4V263.2M534.2 259.0V263.3M535.1 259.2V264.3M536.1 261.4V265.3M537.6 261.3V265.7M538.6 260.5V264.6M539.6 259.2V263.3M540.7 257.7V261.7M542.1 257.1V260.7M543.1 255.1V260.2M544.3 256.9V260.2M528.6 260.8V277.2M544.7 259.8V277.2" stroke="#4682b4" stroke-width="3.50" stroke-linecap="round" fill="none"/>
<g fill="#4682b4"><circle cx="528.4" cy="261.8" r="1.75"/><circle cx="528.1" cy="263.4" r="1.75"/><circle cx="528.5" cy="265.1" r="1.75"/><circle cx="528.2" cy="268.1" r="1.75"/><circle cx="528.2" cy="269.7" r="1.75"/><circle cx="528.3" cy="272.6" r="1.75"/><circle cx="528.1" cy="274.3" r="1.75"/><circle cx="528.2" cy="276.6" r="1.75"/><circle cx="545.2" cy="260.8" r="1.75"/><circle cx="544.8" cy="264.0" r="1.75"/><circle cx="545.0" cy="266.2" r="1.75"/><circle cx="545.3" cy="267.7" r="1.75"/><circle cx="544.9" cy="269.7" r="1.75"/><circle cx="544.9" cy="271.9" r="1.75"/><circle cx="545.1" cy="275.1" r="1.75"/></g>
<g fill="#4682b4" opacity="0.75"><circle cx="527.9" cy="280.2" r="0.9"/><circle cx="532.6" cy="280.2" r="0.9"/><circle cx="534.3" cy="280.5" r="0.9"/><circle cx="540.3" cy="280.4" r="0.9"/><circle cx="542.0" cy="280.5" r="0.9"/><circle cx="543.3" cy="280.7" r="0.9"/></g>
<path d="M550.3 279.0 L550.3 262.9 L551.2 261.9 L552.1 261.6 L553.0 260.4 L553.9 260.1 L554.8 259.2 L555.7 259.6 L556.6 259.9 L557.5 259.2 L558.4 259.9 L559.3 258.9 L560.2 259.4 L561.1 259.2 L562.0 260.2 L562.9 260.0 L563.8 260.4 L564.7 260.2 L565.6 260.4 L566.5 260.4 L567.4 260.0 L568.3 260.0 L568.6 279.0 Z" fill="#0000ff"/>
<path d="M551.3 259.8V262.9M552.8 256.7V261.6M554.2 257.8V260.7M555.5 256.1V260.7M556.8 254.4V260.7M557.4 257.6V260.7M558.2 256.8V260.5M559.4 255.5V260.4M560.3 257.2V260.3M561.7 257.9V260.7M562.3 256.5V260.8M563.1 256.3V260.9M564.5 257.0V261.2M565.2 258.1V261.2M566.7 258.5V261.2M551.5 263.8V277.2M567.4 260.8V277.2" stroke="#0000ff" stroke-width="3.50" stroke-linecap="round" fill="none"/>
<g fill="#0000ff"><circle cx="551.3" cy="264.8" r="1.75"/><circle cx="551.0" cy="266.9" r="1.75"/><circle cx="550.9" cy="269.4" r="1.75"/><circle cx="551.2" cy="271.1" r="1.75"/><circle cx="551.1" cy="274.4" r="1.75"/><circle cx="551.4" cy="276.9" r="1.75"/><circle cx="567.6" cy="261.8" r="1.75"/><circle cx="567.9" cy="265.0" r="1.75"/><circle cx="568.0" cy="267.0" r="1.75"/><circle cx="567.8" cy="268.6" r="1.75"/><circle cx="567.6" cy="272.0" r="1.75"/><circle cx="567.8" cy="275.4" r="1.75"/><circle cx="567.6" cy="277.0" r="1.75"/><circle cx="567.3" cy="245.4" r="1.75"/><circle cx="567.3" cy="246.8" r="1.75"/><circle cx="567.4" cy="248.2" r="1.75"/><circle cx="567.5" cy="249.1" r="1.75"/><circle cx="567.5" cy="250.0" r="1.75"/><circle cx="567.6" cy="251.4" r="1.75"/><circle cx="567.2" cy="252.6" r="1.75"/><circle cx="567.3" cy="253.8" r="1.75"/><circle cx="567.5" cy="254.0" r="1.75"/></g>
<g fill="#0000ff" opacity="0.75"><circle cx="550.8" cy="280.5" r="0.9"/><circle cx="552.2" cy="280.6" r="0.9"/><circle cx="553.3" cy="280.8" r="0.9"/><circle cx="558.0" cy="280.7" r="0.9"/><circle cx="560.7" cy="280.5" r="0.9"/><circle cx="563.4" cy="280.3" r="0.9"/><circle cx="564.9" cy="280.3" r="0.9"/></g>
<path d="M569.6 279.0 L569.6 260.7 L570.5 260.2 L571.4 260.5 L572.3 260.5 L573.2 261.2 L574.1 261.4 L575.0 262.5 L575.9 262.7 L576.3 279.0 Z" fill="#4682b4"/>
<path d="M570.6 256.0V261.2M571.7 256.7V261.2M572.4 257.7V261.5M573.6 259.0V262.3M574.2 258.1V262.7M570.8 260.8V277.2M575.1 264.2V277.2" stroke="#4682b4" stroke-width="3.50" stroke-linecap="round" fill="none"/>
<g fill="#4682b4"><circle cx="570.7" cy="261.8" r="1.75"/><circle cx="570.3" cy="264.5" r="1.75"/><circle cx="570.6" cy="267.6" r="1.75"/><circle cx="570.5" cy="270.7" r="1.75"/><circle cx="570.8" cy="274.1" r="1.75"/><circle cx="575.4" cy="265.2" r="1.75"/><circle cx="575.2" cy="267.6" r="1.75"/><circle cx="575.6" cy="269.6" r="1.75"/><circle cx="575.2" cy="272.4" r="1.75"/><circle cx="575.2" cy="274.6" r="1.75"/><circle cx="575.3" cy="276.5" r="1.75"/></g>
<g fill="#4682b4" opacity="0.75"></g>
<path d="M578.8 279.0 L578.8 265.5 L579.7 263.3 L580.6 261.4 L581.5 261.3 L582.4 262.1 L583.3 262.1 L584.2 260.4 L585.1 258.2 L586.0 259.2 L586.9 259.9 L587.5 279.0 Z" fill="#4682b4"/>
<path d="M579.8 259.0V263.9M581.1 259.1V262.5M582.5 260.2V263.1M583.9 258.6V261.8M585.0 255.5V259.7M586.4 257.5V260.5M580.0 266.8V277.2M586.3 261.8V277.2" stroke="#4682b4" stroke-width="3.50" stroke-linecap="round" fill="none"/>
<g fill="#4682b4"><circle cx="579.6" cy="267.8" r="1.75"/><circle cx="579.9" cy="271.1" r="1.75"/><circle cx="579.5" cy="274.6" r="1.75"/><circle cx="579.5" cy="276.6" r="1.75"/><circle cx="586.5" cy="262.8" r="1.75"/><circle cx="586.5" cy="265.2" r="1.75"/><circle cx="586.9" cy="267.7" r="1.75"/><circle cx="586.8" cy="270.5" r="1.75"/><circle cx="586.8" cy="272.8" r="1.75"/><circle cx="586.7" cy="275.9" r="1.75"/><circle cx="580.7" cy="251.3" r="1.75"/><circle cx="580.3" cy="252.4" r="1.75"/><circle cx="580.7" cy="253.7" r="1.75"/><circle cx="580.6" cy="254.8" r="1.75"/><circle cx="580.5" cy="256.0" r="1.75"/></g>
<g fill="#4682b4" opacity="0.75"><circle cx="580.9" cy="280.7" r="0.9"/><circle cx="584.0" cy="280.3" r="0.9"/></g>
<path d="M588.7 279.0 L588.7 262.2 L589.6 262.2 L590.5 261.9 L591.4 261.4 L592.3 260.1 L593.2 259.3 L594.1 259.4 L595.0 259.3 L595.9 260.4 L596.8 260.6 L597.7 262.3 L598.6 262.2 L599.5 262.8 L600.4 263.2 L601.3 261.4 L602.2 260.0 L603.1 259.7 L604.0 259.9 L604.9 260.7 L605.8 260.7 L606.2 279.0 Z" fill="#0000ff"/>
<path d="M589.7 259.7V263.7M590.8 260.1V262.8M592.2 256.3V261.2M592.8 255.7V260.5M593.9 256.8V260.0M594.8 255.5V260.5M596.3 257.6V261.5M597.8 260.1V263.1M598.5 259.8V263.5M600.1 259.8V264.2M601.3 258.2V262.5M602.6 257.9V260.8M603.5 255.6V260.5M604.8 257.4V261.2M589.9 262.8V277.2M605.0 261.8V277.2" stroke="#0000ff" stroke-width="3.50" stroke-linecap="round" fill="none"/>
<g fill="#0000ff"><circle cx="593.5" cy="251.3" r="1.75"/><circle cx="604.0" cy="252.3" r="1.75"/><circle cx="589.3" cy="263.8" r="1.75"/><circle cx="589.4" cy="266.7" r="1.75"/><circle cx="589.7" cy="268.3" r="1.75"/><circle cx="589.3" cy="270.1" r="1.75"/><circle cx="589.8" cy="273.3" r="1.75"/><circle cx="589.5" cy="276.0" r="1.75"/><circle cx="605.3" cy="262.8" r="1.75"/><circle cx="605.4" cy="265.7" r="1.75"/><circle cx="605.5" cy="267.8" r="1.75"/><circle cx="605.4" cy="269.9" r="1.75"/><circle cx="605.6" cy="272.2" r="1.75"/><circle cx="605.5" cy="275.0" r="1.75"/></g>
<g fill="#0000ff" opacity="0.75"><circle cx="589.2" cy="280.8" r="0.9"/><circle cx="592.5" cy="280.5" r="0.9"/><circle cx="596.1" cy="280.5" r="0.9"/><circle cx="598.4" cy="280.6" r="0.9"/><circle cx="599.5" cy="280.2" r="0.9"/><circle cx="600.8" cy="280.8" r="0.9"/><circle cx="603.2" cy="280.4" r="0.9"/><circle cx="605.6" cy="280.4" r="0.9"/></g>
<path d="M607.2 279.0 L607.2 259.7 L608.1 259.5 L609.0 259.3 L609.9 259.4 L610.8 260.3 L611.7 259.9 L612.6 259.9 L613.5 260.4 L614.4 259.8 L615.3 260.0 L616.2 260.4 L617.1 261.3 L618.0 261.6 L618.9 261.5 L619.8 262.2 L620.7 262.0 L621.6 262.2 L622.5 262.4 L622.7 279.0 Z" fill="#4682b4"/>
<path d="M608.2 257.3V260.7M609.1 257.4V260.3M610.0 256.9V260.5M611.4 255.8V261.0M612.6 256.8V261.2M613.4 255.4V261.0M614.8 257.2V260.8M616.2 256.2V261.2M617.5 259.5V262.3M618.8 259.5V262.8M620.3 259.6V263.0M621.3 259.9V263.1M608.4 260.8V277.2M621.5 262.8V277.2" stroke="#4682b4" stroke-width="3.50" stroke-linecap="round" fill="none"/>
<g fill="#4682b4"><circle cx="622.6" cy="251.2" r="1.75"/><circle cx="607.8" cy="261.8" r="1.75"/><circle cx="608.0" cy="264.3" r="1.75"/><circle cx="607.8" cy="267.2" r="1.75"/><circle cx="608.2" cy="268.9" r="1.75"/><circle cx="608.1" cy="270.6" r="1.75"/><circle cx="607.9" cy="273.1" r="1.75"/><circle cx="608.0" cy="275.9" r="1.75"/><circle cx="621.9" cy="263.8" r="1.75"/><circle cx="622.0" cy="265.8" r="1.75"/><circle cx="622.0" cy="268.9" r="1.75"/><circle cx="621.9" cy="270.7" r="1.75"/><circle cx="621.8" cy="273.7" r="1.75"/><circle cx="622.1" cy="277.0" r="1.75"/><circle cx="609.5" cy="247.8" r="1.75"/><circle cx="609.5" cy="249.1" r="1.75"/><circle cx="609.4" cy="250.0" r="1.75"/><circle cx="609.4" cy="251.4" r="1.75"/><circle cx="609.0" cy="252.4" r="1.75"/><circle cx="609.5" cy="253.7" r="1.75"/><circle cx="609.3" cy="254.4" r="1.75"/></g>
<g fill="#4682b4" opacity="0.75"><circle cx="607.7" cy="280.3" r="0.9"/><circle cx="614.8" cy="280.6" r="0.9"/><circle cx="615.8" cy="280.2" r="0.9"/><circle cx="619.6" cy="280.7" r="0.9"/><circle cx="620.6" cy="280.6" r="0.9"/><circle cx="621.9" cy="280.5" r="0.9"/></g>
<path d="M623.7 279.0 L623.7 261.2 L624.6 260.0 L625.5 259.9 L626.4 260.2 L627.3 261.3 L628.2 262.2 L629.1 264.4 L630.0 263.6 L630.9 262.8 L631.8 261.5 L632.7 260.2 L633.6 260.0 L634.5 259.6 L635.4 260.4 L635.8 279.0 Z" fill="#0000ff"/>
<path d="M624.7 256.9V261.2M625.9 255.6V260.3M627.5 259.4V262.6M628.4 260.5V264.0M629.1 261.1V265.2M630.5 260.3V264.4M631.2 259.1V263.3M632.0 258.8V262.2M633.1 256.6V261.4M633.8 256.1V260.7M624.9 261.8V277.2M634.6 261.8V277.2" stroke="#0000ff" stroke-width="3.50" stroke-linecap="round" fill="none"/>
<g fill="#0000ff"><circle cx="624.3" cy="262.8" r="1.75"/><circle cx="624.3" cy="265.7" r="1.75"/><circle cx="624.4" cy="269.1" r="1.75"/><circle cx="624.8" cy="272.0" r="1.75"/><circle cx="624.9" cy="273.9" r="1.75"/><circle cx="624.4" cy="277.2" r="1.75"/><circle cx="634.8" cy="262.8" r="1.75"/><circle cx="634.7" cy="265.0" r="1.75"/><circle cx="635.2" cy="267.7" r="1.75"/><circle cx="634.7" cy="269.8" r="1.75"/><circle cx="634.9" cy="271.7" r="1.75"/><circle cx="635.1" cy="275.0" r="1.75"/><circle cx="625.8" cy="250.2" r="1.75"/><circle cx="625.8" cy="251.1" r="1.75"/><circle cx="626.0" cy="252.5" r="1.75"/><circle cx="626.2" cy="254.1" r="1.75"/><circle cx="626.0" cy="255.5" r="1.75"/><circle cx="626.0" cy="255.6" r="1.75"/><circle cx="634.2" cy="245.8" r="1.75"/><circle cx="634.4" cy="246.7" r="1.75"/><circle cx="634.2" cy="247.9" r="1.75"/><circle cx="634.1" cy="248.9" r="1.75"/><circle cx="634.5" cy="250.4" r="1.75"/><circle cx="634.7" cy="252.0" r="1.75"/><circle cx="634.5" cy="253.1" r="1.75"/><circle cx="634.4" cy="254.0" r="1.75"/></g>
<g fill="#0000ff" opacity="0.75"><circle cx="626.4" cy="280.2" r="0.9"/><circle cx="629.0" cy="280.7" r="0.9"/><circle cx="633.8" cy="280.4" r="0.9"/></g>
<path d="M636.9 279.0 L636.9 262.4 L637.8 261.7 L638.7 261.5 L639.6 261.3 L640.5 261.7 L641.4 262.5 L642.3 261.5 L643.2 260.9 L644.1 261.3 L645.0 260.9 L645.9 259.9 L646.8 259.0 L647.7 260.0 L648.6 261.3 L649.5 262.1 L650.3 279.0 Z" fill="#4682b4"/>
<path d="M637.9 257.0V262.7M638.5 258.4V262.4M639.8 259.2V262.7M641.1 259.7V263.2M641.8 259.9V262.9M642.4 257.8V262.5M643.3 258.0V262.2M644.7 258.6V262.2M645.3 256.8V261.9M646.7 254.6V260.2M648.3 257.0V261.7M638.1 262.8V277.2M649.1 262.8V277.2" stroke="#4682b4" stroke-width="3.50" stroke-linecap="round" fill="none"/>
<g fill="#4682b4"><circle cx="639.0" cy="252.1" r="1.75"/><circle cx="637.7" cy="263.8" r="1.75"/><circle cx="637.9" cy="267.1" r="1.75"/><circle cx="638.1" cy="268.9" r="1.75"/><circle cx="638.0" cy="271.9" r="1.75"/><circle cx="637.6" cy="275.4" r="1.75"/><circle cx="637.6" cy="277.2" r="1.75"/><circle cx="649.4" cy="263.8" r="1.75"/><circle cx="649.6" cy="265.5" r="1.75"/><circle cx="649.7" cy="268.7" r="1.75"/><circle cx="649.6" cy="270.2" r="1.75"/><circle cx="649.6" cy="272.9" r="1.75"/><circle cx="649.5" cy="275.4" r="1.75"/></g>
<g fill="#4682b4" opacity="0.75"><circle cx="638.3" cy="280.5" r="0.9"/><circle cx="639.6" cy="280.2" r="0.9"/><circle cx="641.7" cy="280.7" r="0.9"/><circle cx="646.0" cy="280.3" r="0.9"/></g>
<path d="M653.2 279.0 L653.2 260.8 L654.1 261.2 L655.0 261.2 L655.9 260.1 L656.8 258.3 L657.7 257.5 L658.6 257.8 L659.5 259.5 L660.4 259.8 L661.3 260.9 L661.5 279.0 Z" fill="#0000ff"/>
<path d="M654.2 259.2V262.0M654.8 255.4V261.9M656.0 256.7V260.7M657.0 255.8V259.5M658.5 255.5V258.9M660.0 257.8V260.9M654.4 261.8V277.2M660.3 261.8V277.2" stroke="#0000ff" stroke-width="3.50" stroke-linecap="round" fill="none"/>
<g fill="#0000ff"><circle cx="654.0" cy="262.8" r="1.75"/><circle cx="654.1" cy="265.9" r="1.75"/><circle cx="654.3" cy="269.2" r="1.75"/><circle cx="654.1" cy="272.6" r="1.75"/><circle cx="654.2" cy="275.5" r="1.75"/><circle cx="660.5" cy="262.8" r="1.75"/><circle cx="660.4" cy="264.9" r="1.75"/><circle cx="660.9" cy="267.3" r="1.75"/><circle cx="660.9" cy="270.1" r="1.75"/><circle cx="660.8" cy="273.1" r="1.75"/><circle cx="660.8" cy="276.6" r="1.75"/></g>
<g fill="#0000ff" opacity="0.75"><circle cx="653.7" cy="280.4" r="0.9"/><circle cx="654.5" cy="280.7" r="0.9"/><circle cx="656.9" cy="280.7" r="0.9"/></g>
<path d="M663.8 279.0 L663.8 258.9 L664.7 257.7 L665.6 258.6 L666.5 258.7 L667.4 259.3 L668.3 258.9 L669.2 259.1 L670.1 260.4 L671.0 260.4 L671.9 261.7 L672.8 262.2 L672.8 279.0 Z" fill="#4682b4"/>
<path d="M664.8 255.1V259.0M665.8 256.5V259.4M667.4 255.1V260.2M668.3 256.7V260.0M669.6 257.7V260.4M670.6 257.9V261.4M665.0 259.8V277.2M671.6 262.8V277.2" stroke="#4682b4" stroke-width="3.50" stroke-linecap="round" fill="none"/>
<g fill="#4682b4"><circle cx="664.5" cy="260.8" r="1.75"/><circle cx="664.8" cy="262.7" r="1.75"/><circle cx="664.5" cy="264.3" r="1.75"/><circle cx="664.8" cy="266.2" r="1.75"/><circle cx="664.6" cy="269.6" r="1.75"/><circle cx="664.6" cy="272.3" r="1.75"/><circle cx="664.5" cy="275.0" r="1.75"/><circle cx="664.9" cy="277.1" r="1.75"/><circle cx="671.6" cy="263.8" r="1.75"/><circle cx="671.7" cy="266.0" r="1.75"/><circle cx="671.9" cy="267.7" r="1.75"/><circle cx="672.1" cy="271.1" r="1.75"/><circle cx="672.1" cy="273.2" r="1.75"/><circle cx="671.7" cy="275.0" r="1.75"/><circle cx="671.9" cy="277.1" r="1.75"/></g>
<g fill="#4682b4" opacity="0.75"><circle cx="664.3" cy="280.6" r="0.9"/><circle cx="672.1" cy="280.3" r="0.9"/></g>
<line x1="42" y1="237.7" x2="673.2" y2="237.7" stroke="#dfe3e3" stroke-width="1.1"/>
<line x1="42" y1="237.7" x2="673.2" y2="237.7" stroke="#ff4848" stroke-width="1.3" stroke-dasharray="2.8 1.9"/>
<text x="88.8" y="44.6" font-size="11.60" text-anchor="start" fill="#1a1a1a" stroke="#1a1a1a" stroke-width="0.22" font-style="italic">CFH/CFHRs</text>
<text x="446.8" y="97.8" font-size="11.72" text-anchor="start" fill="#1a1a1a" stroke="#1a1a1a" stroke-width="0.22" font-style="italic">ARMS2/HTRA1/HTRA1-AS1</text>
<text x="289.6" y="220.4" font-size="11.50" text-anchor="start" fill="#1a1a1a" stroke="#1a1a1a" stroke-width="0.22" font-style="italic">C2/CFB/SKIV2L</text>
<text x="0.0" y="345.7" font-size="12.00" text-anchor="start" fill="#000" stroke="#000" stroke-width="0.22" font-weight="bold">b</text>
<line x1="44.6" y1="366.5" x2="44.6" y2="591.3" stroke="#cfcfcf" stroke-width="1.8"/>
<line x1="40.2" y1="366.5" x2="44.5" y2="366.5" stroke="#c4c4c4" stroke-width="1.2"/>
<line x1="40.2" y1="590.9" x2="44.5" y2="590.9" stroke="#c4c4c4" stroke-width="1.2"/>
<text x="37.8" y="590.9" font-size="8.50" text-anchor="end" fill="#1a1a1a" stroke="#1a1a1a" stroke-width="0.22">0</text>
<line x1="40.2" y1="559.9" x2="44.5" y2="559.9" stroke="#c4c4c4" stroke-width="1.2"/>
<text x="37.8" y="565.7" font-size="8.50" text-anchor="end" fill="#1a1a1a" stroke="#1a1a1a" stroke-width="0.22">2</text>
<line x1="40.2" y1="528.8" x2="44.5" y2="528.8" stroke="#c4c4c4" stroke-width="1.2"/>
<text x="37.8" y="534.6" font-size="8.50" text-anchor="end" fill="#1a1a1a" stroke="#1a1a1a" stroke-width="0.22">4</text>
<line x1="40.2" y1="497.8" x2="44.5" y2="497.8" stroke="#c4c4c4" stroke-width="1.2"/>
<text x="37.8" y="503.6" font-size="8.50" text-anchor="end" fill="#1a1a1a" stroke="#1a1a1a" stroke-width="0.22">6</text>
<line x1="40.2" y1="466.7" x2="44.5" y2="466.7" stroke="#c4c4c4" stroke-width="1.2"/>
<text x="37.8" y="472.5" font-size="8.50" text-anchor="end" fill="#1a1a1a" stroke="#1a1a1a" stroke-width="0.22">8</text>
<line x1="40.2" y1="435.7" x2="44.5" y2="435.7" stroke="#c4c4c4" stroke-width="1.2"/>
<text x="37.8" y="441.5" font-size="8.50" text-anchor="end" fill="#1a1a1a" stroke="#1a1a1a" stroke-width="0.22">10</text>
<line x1="40.2" y1="404.7" x2="44.5" y2="404.7" stroke="#c4c4c4" stroke-width="1.2"/>
<text x="37.8" y="410.5" font-size="8.50" text-anchor="end" fill="#1a1a1a" stroke="#1a1a1a" stroke-width="0.22">12</text>
<line x1="40.2" y1="373.6" x2="44.5" y2="373.6" stroke="#c4c4c4" stroke-width="1.2"/>
<text x="37.8" y="379.4" font-size="8.50" text-anchor="end" fill="#1a1a1a" stroke="#1a1a1a" stroke-width="0.22">14</text>
<line x1="44.5" y1="591.5" x2="672.5" y2="591.5" stroke="#c4c4c4" stroke-width="1.2"/>
<line x1="44.5" y1="591.5" x2="44.5" y2="595.6" stroke="#c4c4c4" stroke-width="1"/>
<line x1="144.4" y1="591.5" x2="144.4" y2="595.6" stroke="#c4c4c4" stroke-width="1"/>
<line x1="243.8" y1="591.5" x2="243.8" y2="595.6" stroke="#c4c4c4" stroke-width="1"/>
<line x1="343.1" y1="591.5" x2="343.1" y2="595.6" stroke="#c4c4c4" stroke-width="1"/>
<line x1="442.2" y1="591.5" x2="442.2" y2="595.6" stroke="#c4c4c4" stroke-width="1"/>
<line x1="541.8" y1="591.5" x2="541.8" y2="595.6" stroke="#c4c4c4" stroke-width="1"/>
<line x1="641.0" y1="591.5" x2="641.0" y2="595.6" stroke="#c4c4c4" stroke-width="1"/>
<line x1="672.4" y1="591.5" x2="672.4" y2="595.6" stroke="#c4c4c4" stroke-width="1"/>
<text x="71.5" y="606.5" font-size="8.50" text-anchor="middle" fill="#1a1a1a" stroke="#1a1a1a" stroke-width="0.22">1</text>
<text x="125.3" y="606.5" font-size="8.50" text-anchor="middle" fill="#1a1a1a" stroke="#1a1a1a" stroke-width="0.22">2</text>
<text x="173.6" y="606.5" font-size="8.50" text-anchor="middle" fill="#1a1a1a" stroke="#1a1a1a" stroke-width="0.22">3</text>
<text x="215.7" y="606.5" font-size="8.50" text-anchor="middle" fill="#1a1a1a" stroke="#1a1a1a" stroke-width="0.22">4</text>
<text x="256.6" y="606.5" font-size="8.50" text-anchor="middle" fill="#1a1a1a" stroke="#1a1a1a" stroke-width="0.22">5</text>
<text x="294.6" y="606.5" font-size="8.50" text-anchor="middle" fill="#1a1a1a" stroke="#1a1a1a" stroke-width="0.22">6</text>
<text x="330.6" y="606.5" font-size="8.50" text-anchor="middle" fill="#1a1a1a" stroke="#1a1a1a" stroke-width="0.22">7</text>
<text x="364.0" y="606.5" font-size="8.50" text-anchor="middle" fill="#1a1a1a" stroke="#1a1a1a" stroke-width="0.22">8</text>
<text x="395.4" y="606.5" font-size="8.50" text-anchor="middle" fill="#1a1a1a" stroke="#1a1a1a" stroke-width="0.22">9</text>
<text x="426.0" y="606.5" font-size="8.50" text-anchor="middle" fill="#1a1a1a" stroke="#1a1a1a" stroke-width="0.22">10</text>
<text x="454.5" y="606.5" font-size="8.50" text-anchor="middle" fill="#1a1a1a" stroke="#1a1a1a" stroke-width="0.22">11</text>
<text x="484.4" y="606.5" font-size="8.50" text-anchor="middle" fill="#1a1a1a" stroke="#1a1a1a" stroke-width="0.22">12</text>
<text x="511.9" y="606.5" font-size="8.50" text-anchor="middle" fill="#1a1a1a" stroke="#1a1a1a" stroke-width="0.22">13</text>
<text x="535.5" y="606.5" font-size="8.50" text-anchor="middle" fill="#1a1a1a" stroke="#1a1a1a" stroke-width="0.22">14</text>
<text x="558.3" y="606.5" font-size="8.50" text-anchor="middle" fill="#1a1a1a" stroke="#1a1a1a" stroke-width="0.22">15</text>
<text x="579.1" y="606.5" font-size="8.50" text-anchor="middle" fill="#1a1a1a" stroke="#1a1a1a" stroke-width="0.22">16</text>
<text x="598.2" y="606.5" font-size="8.50" text-anchor="middle" fill="#1a1a1a" stroke="#1a1a1a" stroke-width="0.22">17</text>
<text x="615.5" y="606.5" font-size="8.50" text-anchor="middle" fill="#1a1a1a" stroke="#1a1a1a" stroke-width="0.22">18</text>
<text x="630.3" y="606.5" font-size="8.50" text-anchor="middle" fill="#1a1a1a" stroke="#1a1a1a" stroke-width="0.22">19</text>
<text x="643.7" y="606.5" font-size="8.50" text-anchor="middle" fill="#1a1a1a" stroke="#1a1a1a" stroke-width="0.22">20</text>
<text x="655.1" y="606.5" font-size="8.50" text-anchor="middle" fill="#1a1a1a" stroke="#1a1a1a" stroke-width="0.22">21</text>
<text x="666.5" y="606.5" font-size="8.50" text-anchor="middle" fill="#1a1a1a" stroke="#1a1a1a" stroke-width="0.22">22</text>
<text x="358.2" y="617.0" font-size="9.60" text-anchor="middle" fill="#1a1a1a" stroke="#1a1a1a" stroke-width="0.22">Chromosome</text>
<text transform="translate(11.3,483.8) rotate(-90)" font-size="11.5" text-anchor="middle" fill="#222">-log10 (<tspan font-style="italic">P-value</tspan>)</text>
<path d="M45.7 590.9 L45.7 537.8 L46.6 536.4 L47.5 534.3 L48.4 534.4 L49.3 533.9 L50.2 533.7 L51.1 533.0 L52.0 533.1 L52.9 534.3 L53.8 539.3 L54.7 545.1 L55.6 541.0 L56.5 531.3 L57.4 525.6 L58.3 526.0 L59.2 525.0 L60.1 526.3 L61.0 526.1 L61.9 531.9 L62.8 535.1 L63.7 536.6 L64.6 536.8 L65.5 537.7 L66.4 538.8 L67.3 539.5 L68.2 540.8 L69.1 542.5 L69.4 590.9 Z" fill="#0000ff"/>
<path d="M46.7 534.2V537.0M48.2 528.0V535.2M49.5 532.9V535.2M50.7 531.2V534.7M52.2 527.9V533.5M53.9 530.8V540.4M54.8 541.2V547.1M57.1 524.6V527.2M58.0 522.9V526.7M59.1 522.3V526.3M61.2 526.3V528.2M62.2 530.6V534.7M63.4 534.5V537.0M65.0 536.4V538.4M66.1 536.0V539.3M67.7 529.9V541.4M46.9 539.8V589.1M68.2 543.8V589.1" stroke="#0000ff" stroke-width="3.50" stroke-linecap="round" fill="none"/>
<g fill="#0000ff"><circle cx="51.0" cy="520.0" r="1.75"/><circle cx="48.5" cy="525.4" r="1.75"/><circle cx="52.5" cy="525.4" r="1.75"/><circle cx="58.0" cy="516.5" r="1.75"/><circle cx="60.0" cy="517.5" r="1.75"/><circle cx="48.2" cy="528.3" r="1.75"/><circle cx="58.9" cy="508.2" r="1.75"/><circle cx="65.3" cy="529.2" r="1.75"/><circle cx="58.1" cy="522.4" r="1.75"/><circle cx="65.5" cy="535.0" r="1.75"/><circle cx="52.5" cy="521.1" r="1.75"/><circle cx="62.6" cy="532.6" r="1.75"/><circle cx="53.6" cy="532.9" r="1.75"/><circle cx="46.6" cy="540.8" r="1.75"/><circle cx="46.3" cy="542.5" r="1.75"/><circle cx="46.8" cy="545.0" r="1.75"/><circle cx="46.5" cy="546.5" r="1.75"/><circle cx="46.8" cy="549.0" r="1.75"/><circle cx="46.4" cy="551.4" r="1.75"/><circle cx="46.7" cy="554.0" r="1.75"/><circle cx="46.5" cy="556.5" r="1.75"/><circle cx="46.8" cy="559.3" r="1.75"/><circle cx="46.3" cy="562.4" r="1.75"/><circle cx="46.3" cy="565.4" r="1.75"/><circle cx="46.3" cy="567.6" r="1.75"/><circle cx="46.7" cy="569.5" r="1.75"/><circle cx="46.3" cy="572.2" r="1.75"/><circle cx="46.7" cy="573.9" r="1.75"/><circle cx="46.6" cy="575.4" r="1.75"/><circle cx="46.7" cy="577.2" r="1.75"/><circle cx="46.5" cy="580.2" r="1.75"/><circle cx="46.6" cy="583.6" r="1.75"/><circle cx="46.9" cy="586.5" r="1.75"/><circle cx="68.4" cy="544.8" r="1.75"/><circle cx="68.5" cy="547.2" r="1.75"/><circle cx="68.5" cy="550.6" r="1.75"/><circle cx="68.6" cy="554.1" r="1.75"/><circle cx="68.7" cy="556.0" r="1.75"/><circle cx="68.8" cy="557.9" r="1.75"/><circle cx="68.4" cy="560.3" r="1.75"/><circle cx="68.4" cy="563.8" r="1.75"/><circle cx="68.4" cy="566.1" r="1.75"/><circle cx="68.3" cy="568.9" r="1.75"/><circle cx="68.3" cy="571.2" r="1.75"/><circle cx="68.2" cy="574.3" r="1.75"/><circle cx="68.4" cy="577.0" r="1.75"/><circle cx="68.6" cy="579.4" r="1.75"/><circle cx="68.3" cy="582.4" r="1.75"/><circle cx="68.3" cy="584.3" r="1.75"/><circle cx="68.3" cy="587.8" r="1.75"/></g>
<g fill="#0000ff" opacity="0.75"><circle cx="48.9" cy="592.2" r="0.9"/><circle cx="56.5" cy="592.7" r="0.9"/><circle cx="58.0" cy="592.6" r="0.9"/><circle cx="59.0" cy="592.3" r="0.9"/><circle cx="62.6" cy="592.4" r="0.9"/><circle cx="67.7" cy="592.5" r="0.9"/></g>
<path d="M73.2 590.9 L73.2 544.2 L74.1 543.8 L75.0 543.3 L75.9 542.0 L76.8 540.8 L77.7 540.4 L78.6 538.9 L79.5 537.2 L80.4 536.3 L81.3 534.8 L82.2 534.0 L83.1 533.4 L84.0 532.8 L84.9 533.1 L85.8 532.6 L86.7 533.4 L87.6 532.8 L88.5 531.7 L89.4 531.0 L90.3 530.2 L91.2 528.6 L92.1 528.3 L93.0 529.5 L93.9 530.4 L94.8 531.3 L94.9 590.9 Z" fill="#0000ff"/>
<path d="M74.2 542.1V544.3M76.6 534.8V542.4M77.9 537.0V540.7M80.3 534.8V537.3M81.9 524.0V535.5M84.2 531.2V533.8M86.3 530.8V534.1M88.2 525.7V533.0M89.3 529.4V531.9M90.6 527.9V530.7M91.6 527.6V529.7M93.1 526.7V530.4M74.4 544.8V589.1M93.7 532.2V589.1" stroke="#0000ff" stroke-width="3.50" stroke-linecap="round" fill="none"/>
<g fill="#0000ff"><circle cx="81.5" cy="510.5" r="1.75"/><circle cx="78.5" cy="526.5" r="1.75"/><circle cx="76.5" cy="530.0" r="1.75"/><circle cx="86.5" cy="521.5" r="1.75"/><circle cx="91.8" cy="518.5" r="1.75"/><circle cx="93.0" cy="520.5" r="1.75"/><circle cx="85.7" cy="521.0" r="1.75"/><circle cx="81.2" cy="526.2" r="1.75"/><circle cx="77.6" cy="534.7" r="1.75"/><circle cx="87.5" cy="529.5" r="1.75"/><circle cx="93.2" cy="517.0" r="1.75"/><circle cx="86.9" cy="523.5" r="1.75"/><circle cx="93.2" cy="523.6" r="1.75"/><circle cx="74.2" cy="545.8" r="1.75"/><circle cx="73.9" cy="547.8" r="1.75"/><circle cx="73.9" cy="550.5" r="1.75"/><circle cx="74.0" cy="553.7" r="1.75"/><circle cx="74.4" cy="555.6" r="1.75"/><circle cx="73.9" cy="558.2" r="1.75"/><circle cx="74.3" cy="560.2" r="1.75"/><circle cx="74.3" cy="561.7" r="1.75"/><circle cx="74.4" cy="564.6" r="1.75"/><circle cx="74.2" cy="566.6" r="1.75"/><circle cx="73.8" cy="569.5" r="1.75"/><circle cx="74.3" cy="571.0" r="1.75"/><circle cx="73.8" cy="574.4" r="1.75"/><circle cx="74.2" cy="576.2" r="1.75"/><circle cx="74.2" cy="578.8" r="1.75"/><circle cx="74.1" cy="581.1" r="1.75"/><circle cx="74.3" cy="583.1" r="1.75"/><circle cx="74.3" cy="584.8" r="1.75"/><circle cx="74.0" cy="586.5" r="1.75"/><circle cx="93.9" cy="533.2" r="1.75"/><circle cx="94.2" cy="536.3" r="1.75"/><circle cx="94.0" cy="538.5" r="1.75"/><circle cx="94.3" cy="540.4" r="1.75"/><circle cx="93.8" cy="543.0" r="1.75"/><circle cx="94.2" cy="544.8" r="1.75"/><circle cx="94.2" cy="547.1" r="1.75"/><circle cx="94.2" cy="549.1" r="1.75"/><circle cx="93.8" cy="552.2" r="1.75"/><circle cx="93.9" cy="554.8" r="1.75"/><circle cx="94.2" cy="557.7" r="1.75"/><circle cx="93.9" cy="560.8" r="1.75"/><circle cx="94.1" cy="562.5" r="1.75"/><circle cx="93.8" cy="565.1" r="1.75"/><circle cx="94.1" cy="567.0" r="1.75"/><circle cx="94.1" cy="568.7" r="1.75"/><circle cx="93.9" cy="570.7" r="1.75"/><circle cx="94.1" cy="573.1" r="1.75"/><circle cx="93.8" cy="576.0" r="1.75"/><circle cx="93.9" cy="579.0" r="1.75"/><circle cx="94.1" cy="581.1" r="1.75"/><circle cx="94.1" cy="583.9" r="1.75"/><circle cx="93.9" cy="587.2" r="1.75"/><circle cx="81.6" cy="514.0" r="1.75"/><circle cx="81.3" cy="515.0" r="1.75"/><circle cx="81.7" cy="516.0" r="1.75"/><circle cx="81.6" cy="517.5" r="1.75"/><circle cx="81.7" cy="519.0" r="1.75"/><circle cx="81.4" cy="520.1" r="1.75"/><circle cx="81.2" cy="521.4" r="1.75"/><circle cx="81.3" cy="522.7" r="1.75"/><circle cx="81.5" cy="523.6" r="1.75"/><circle cx="81.8" cy="524.5" r="1.75"/><circle cx="81.5" cy="526.0" r="1.75"/><circle cx="81.5" cy="526.0" r="1.75"/></g>
<g fill="#0000ff" opacity="0.75"><circle cx="73.7" cy="592.4" r="0.9"/><circle cx="75.4" cy="592.5" r="0.9"/><circle cx="78.1" cy="592.3" r="0.9"/><circle cx="79.7" cy="592.5" r="0.9"/><circle cx="80.9" cy="592.4" r="0.9"/><circle cx="84.3" cy="592.7" r="0.9"/><circle cx="89.6" cy="592.1" r="0.9"/></g>
<path d="M98.4 590.9 L98.4 540.0 L99.3 539.8 L100.2 540.3 L101.1 539.6 L102.0 538.6 L102.9 538.3 L103.8 539.7 L104.7 540.5 L105.6 540.1 L106.5 536.8 L107.4 534.6 L108.3 533.7 L109.2 533.5 L110.1 534.0 L111.0 535.3 L111.9 536.8 L112.8 538.1 L113.7 539.3 L114.6 541.3 L115.5 544.9 L116.4 549.1 L117.3 546.0 L118.2 542.3 L119.1 538.5 L120.0 535.0 L120.9 536.6 L121.8 536.7 L122.7 537.7 L123.6 538.3 L124.5 538.1 L125.4 537.9 L126.3 537.0 L127.2 536.9 L128.1 536.0 L129.0 535.0 L129.9 534.8 L130.8 534.6 L131.7 534.1 L132.6 533.1 L133.5 534.3 L134.4 537.4 L135.3 539.0 L136.2 541.4 L137.1 540.3 L138.0 539.5 L138.9 538.8 L139.8 538.4 L140.7 538.2 L141.6 536.7 L142.5 536.7 L143.4 535.5 L144.3 535.0 L145.2 535.8 L146.1 535.5 L147.0 535.6 L147.9 536.0 L148.1 590.9 Z" fill="#4682b4"/>
<path d="M99.4 532.9V541.2M101.7 535.0V539.9M102.6 532.1V539.4M104.5 530.9V541.6M106.9 534.2V537.3M109.1 526.5V534.8M110.5 532.6V535.9M112.0 534.9V538.2M113.5 537.7V539.7M114.7 532.1V543.2M116.3 543.9V549.4M118.6 534.7V541.8M119.9 525.2V536.7M122.1 526.8V538.3M124.1 531.7V538.9M126.3 535.4V538.0M128.3 533.3V536.7M130.5 533.4V535.5M132.3 531.5V534.6M134.5 535.0V538.2M136.7 532.7V541.7M139.0 537.9V540.0M141.4 531.2V538.2M143.4 531.0V536.7M144.4 526.7V536.3M146.2 532.8V536.7M99.6 540.8V589.1M146.9 536.8V589.1" stroke="#4682b4" stroke-width="3.50" stroke-linecap="round" fill="none"/>
<g fill="#4682b4"><circle cx="103.0" cy="524.5" r="1.75"/><circle cx="121.5" cy="511.4" r="1.75"/><circle cx="126.5" cy="510.5" r="1.75"/><circle cx="140.0" cy="525.8" r="1.75"/><circle cx="119.5" cy="521.0" r="1.75"/><circle cx="119.5" cy="524.5" r="1.75"/><circle cx="111.0" cy="521.5" r="1.75"/><circle cx="111.0" cy="524.0" r="1.75"/><circle cx="124.0" cy="522.3" r="1.75"/><circle cx="124.0" cy="527.0" r="1.75"/><circle cx="108.0" cy="517.5" r="1.75"/><circle cx="136.8" cy="527.5" r="1.75"/><circle cx="109.6" cy="529.5" r="1.75"/><circle cx="104.2" cy="536.4" r="1.75"/><circle cx="137.4" cy="537.3" r="1.75"/><circle cx="102.6" cy="529.9" r="1.75"/><circle cx="121.4" cy="528.3" r="1.75"/><circle cx="144.9" cy="529.5" r="1.75"/><circle cx="142.1" cy="526.0" r="1.75"/><circle cx="134.4" cy="528.4" r="1.75"/><circle cx="126.7" cy="533.1" r="1.75"/><circle cx="139.0" cy="531.8" r="1.75"/><circle cx="119.3" cy="526.3" r="1.75"/><circle cx="109.3" cy="528.7" r="1.75"/><circle cx="145.1" cy="527.7" r="1.75"/><circle cx="143.0" cy="533.0" r="1.75"/><circle cx="120.0" cy="526.3" r="1.75"/><circle cx="103.8" cy="529.9" r="1.75"/><circle cx="99.1" cy="541.8" r="1.75"/><circle cx="99.4" cy="544.0" r="1.75"/><circle cx="99.1" cy="547.0" r="1.75"/><circle cx="99.0" cy="548.9" r="1.75"/><circle cx="99.3" cy="552.4" r="1.75"/><circle cx="99.1" cy="554.6" r="1.75"/><circle cx="99.4" cy="558.0" r="1.75"/><circle cx="99.4" cy="560.1" r="1.75"/><circle cx="99.5" cy="563.1" r="1.75"/><circle cx="99.3" cy="565.7" r="1.75"/><circle cx="99.5" cy="568.5" r="1.75"/><circle cx="99.0" cy="571.9" r="1.75"/><circle cx="99.1" cy="574.5" r="1.75"/><circle cx="99.0" cy="576.4" r="1.75"/><circle cx="99.1" cy="579.0" r="1.75"/><circle cx="99.3" cy="582.2" r="1.75"/><circle cx="99.4" cy="585.6" r="1.75"/><circle cx="99.3" cy="587.1" r="1.75"/><circle cx="147.5" cy="537.8" r="1.75"/><circle cx="147.2" cy="541.2" r="1.75"/><circle cx="147.3" cy="544.5" r="1.75"/><circle cx="147.3" cy="546.3" r="1.75"/><circle cx="147.2" cy="549.4" r="1.75"/><circle cx="147.1" cy="552.1" r="1.75"/><circle cx="147.2" cy="554.2" r="1.75"/><circle cx="147.2" cy="556.7" r="1.75"/><circle cx="146.9" cy="558.4" r="1.75"/><circle cx="147.4" cy="560.6" r="1.75"/><circle cx="147.1" cy="563.6" r="1.75"/><circle cx="147.2" cy="565.6" r="1.75"/><circle cx="147.3" cy="567.4" r="1.75"/><circle cx="147.1" cy="570.7" r="1.75"/><circle cx="147.4" cy="573.4" r="1.75"/><circle cx="147.4" cy="576.4" r="1.75"/><circle cx="147.1" cy="579.3" r="1.75"/><circle cx="147.5" cy="582.5" r="1.75"/><circle cx="147.5" cy="584.1" r="1.75"/><circle cx="147.0" cy="586.5" r="1.75"/><circle cx="147.4" cy="588.1" r="1.75"/><circle cx="107.8" cy="509.2" r="1.75"/><circle cx="108.1" cy="510.4" r="1.75"/><circle cx="107.9" cy="512.0" r="1.75"/><circle cx="107.8" cy="513.4" r="1.75"/><circle cx="107.8" cy="514.3" r="1.75"/><circle cx="108.1" cy="515.5" r="1.75"/><circle cx="107.8" cy="516.5" r="1.75"/><circle cx="107.8" cy="517.5" r="1.75"/><circle cx="107.9" cy="518.4" r="1.75"/><circle cx="107.8" cy="519.6" r="1.75"/><circle cx="108.0" cy="520.8" r="1.75"/><circle cx="108.0" cy="522.4" r="1.75"/><circle cx="108.0" cy="524.0" r="1.75"/><circle cx="108.1" cy="524.9" r="1.75"/><circle cx="107.8" cy="525.8" r="1.75"/><circle cx="108.0" cy="526.0" r="1.75"/><circle cx="133.1" cy="511.4" r="1.75"/><circle cx="132.9" cy="513.0" r="1.75"/><circle cx="133.0" cy="514.1" r="1.75"/><circle cx="133.1" cy="515.1" r="1.75"/><circle cx="132.8" cy="516.3" r="1.75"/><circle cx="133.0" cy="517.7" r="1.75"/><circle cx="133.2" cy="518.5" r="1.75"/><circle cx="132.9" cy="519.9" r="1.75"/><circle cx="133.0" cy="520.0" r="1.75"/></g>
<g fill="#4682b4" opacity="0.75"><circle cx="100.4" cy="592.3" r="0.9"/><circle cx="105.2" cy="592.6" r="0.9"/><circle cx="109.3" cy="592.7" r="0.9"/><circle cx="111.1" cy="592.2" r="0.9"/><circle cx="114.2" cy="592.3" r="0.9"/><circle cx="122.6" cy="592.3" r="0.9"/><circle cx="125.7" cy="592.3" r="0.9"/><circle cx="128.8" cy="592.3" r="0.9"/><circle cx="131.0" cy="592.5" r="0.9"/><circle cx="131.9" cy="592.1" r="0.9"/><circle cx="134.0" cy="592.2" r="0.9"/><circle cx="134.9" cy="592.5" r="0.9"/><circle cx="141.7" cy="592.7" r="0.9"/><circle cx="143.3" cy="592.5" r="0.9"/><circle cx="145.5" cy="592.2" r="0.9"/></g>
<path d="M152.2 590.9 L152.2 542.3 L153.1 538.3 L154.0 534.7 L154.9 533.2 L155.8 532.6 L156.7 532.1 L157.6 533.3 L158.5 536.2 L159.4 538.0 L160.3 538.8 L161.2 539.8 L162.1 539.4 L163.0 539.4 L163.9 539.0 L164.8 538.8 L165.7 539.5 L166.6 541.9 L167.5 543.2 L168.4 543.5 L169.3 542.1 L170.2 540.9 L171.1 541.4 L172.0 541.2 L172.9 540.7 L173.8 540.0 L174.7 539.9 L175.6 539.9 L176.5 539.8 L177.4 539.6 L178.3 538.3 L179.2 538.5 L180.1 539.9 L181.0 540.5 L181.9 542.1 L182.8 541.2 L183.7 539.5 L184.6 537.9 L185.5 537.4 L186.4 536.7 L187.3 535.9 L188.2 535.5 L189.1 535.8 L190.0 536.6 L190.9 537.6 L191.8 538.1 L192.5 590.9 Z" fill="#0000ff"/>
<path d="M153.2 536.7V538.8M154.4 531.6V535.0M156.4 532.1V533.7M158.6 529.5V537.1M160.3 538.6V540.2M162.5 536.9V540.5M164.4 534.7V539.5M166.5 538.6V542.2M168.9 532.4V543.9M171.3 536.6V541.9M172.7 538.2V541.6M174.0 530.4V541.2M176.2 533.4V541.1M178.4 528.1V539.6M180.4 538.1V541.1M182.5 539.7V542.4M184.4 537.1V539.3M186.7 533.2V537.4M188.0 525.2V536.7M189.0 524.8V536.3M191.1 536.3V538.4M153.4 544.8V589.1M191.3 539.8V589.1" stroke="#0000ff" stroke-width="3.50" stroke-linecap="round" fill="none"/>
<g fill="#0000ff"><circle cx="163.0" cy="516.5" r="1.75"/><circle cx="156.0" cy="520.5" r="1.75"/><circle cx="156.5" cy="523.0" r="1.75"/><circle cx="178.5" cy="530.0" r="1.75"/><circle cx="185.5" cy="527.4" r="1.75"/><circle cx="175.2" cy="528.6" r="1.75"/><circle cx="169.6" cy="531.9" r="1.75"/><circle cx="183.0" cy="538.3" r="1.75"/><circle cx="157.5" cy="523.0" r="1.75"/><circle cx="181.0" cy="534.7" r="1.75"/><circle cx="178.1" cy="535.8" r="1.75"/><circle cx="180.9" cy="535.5" r="1.75"/><circle cx="163.8" cy="528.6" r="1.75"/><circle cx="189.3" cy="523.8" r="1.75"/><circle cx="175.1" cy="528.3" r="1.75"/><circle cx="170.7" cy="530.7" r="1.75"/><circle cx="189.6" cy="530.3" r="1.75"/><circle cx="181.9" cy="537.4" r="1.75"/><circle cx="155.2" cy="521.2" r="1.75"/><circle cx="152.9" cy="545.8" r="1.75"/><circle cx="153.0" cy="547.5" r="1.75"/><circle cx="153.2" cy="549.8" r="1.75"/><circle cx="153.3" cy="552.9" r="1.75"/><circle cx="153.3" cy="555.4" r="1.75"/><circle cx="152.8" cy="558.6" r="1.75"/><circle cx="153.1" cy="560.1" r="1.75"/><circle cx="152.9" cy="562.6" r="1.75"/><circle cx="153.2" cy="565.5" r="1.75"/><circle cx="153.3" cy="568.9" r="1.75"/><circle cx="152.9" cy="570.7" r="1.75"/><circle cx="153.3" cy="572.4" r="1.75"/><circle cx="153.2" cy="574.9" r="1.75"/><circle cx="152.8" cy="576.7" r="1.75"/><circle cx="152.9" cy="579.2" r="1.75"/><circle cx="152.8" cy="581.2" r="1.75"/><circle cx="152.8" cy="583.1" r="1.75"/><circle cx="152.8" cy="585.8" r="1.75"/><circle cx="153.0" cy="588.9" r="1.75"/><circle cx="191.9" cy="540.8" r="1.75"/><circle cx="191.4" cy="543.1" r="1.75"/><circle cx="191.8" cy="546.5" r="1.75"/><circle cx="191.8" cy="549.3" r="1.75"/><circle cx="191.6" cy="551.3" r="1.75"/><circle cx="191.9" cy="554.4" r="1.75"/><circle cx="191.4" cy="557.8" r="1.75"/><circle cx="191.7" cy="560.7" r="1.75"/><circle cx="191.4" cy="563.0" r="1.75"/><circle cx="191.6" cy="564.7" r="1.75"/><circle cx="191.5" cy="567.2" r="1.75"/><circle cx="191.7" cy="569.5" r="1.75"/><circle cx="191.7" cy="572.5" r="1.75"/><circle cx="191.9" cy="574.3" r="1.75"/><circle cx="191.9" cy="576.5" r="1.75"/><circle cx="191.4" cy="580.0" r="1.75"/><circle cx="191.9" cy="582.7" r="1.75"/><circle cx="191.7" cy="584.9" r="1.75"/><circle cx="191.4" cy="587.1" r="1.75"/><circle cx="191.4" cy="589.0" r="1.75"/><circle cx="172.4" cy="510.8" r="1.75"/><circle cx="172.6" cy="512.1" r="1.75"/><circle cx="172.2" cy="513.4" r="1.75"/><circle cx="172.4" cy="515.0" r="1.75"/><circle cx="172.5" cy="516.2" r="1.75"/><circle cx="172.2" cy="517.5" r="1.75"/><circle cx="172.2" cy="518.8" r="1.75"/><circle cx="172.1" cy="520.4" r="1.75"/><circle cx="172.0" cy="522.0" r="1.75"/><circle cx="172.3" cy="522.8" r="1.75"/><circle cx="172.3" cy="523.7" r="1.75"/><circle cx="172.5" cy="524.6" r="1.75"/><circle cx="172.4" cy="526.0" r="1.75"/><circle cx="172.6" cy="527.5" r="1.75"/><circle cx="172.4" cy="528.9" r="1.75"/><circle cx="172.0" cy="529.7" r="1.75"/><circle cx="172.3" cy="530.0" r="1.75"/></g>
<g fill="#0000ff" opacity="0.75"><circle cx="154.8" cy="592.6" r="0.9"/><circle cx="157.5" cy="592.2" r="0.9"/><circle cx="159.7" cy="592.7" r="0.9"/><circle cx="162.6" cy="592.7" r="0.9"/><circle cx="167.5" cy="592.5" r="0.9"/><circle cx="168.7" cy="592.3" r="0.9"/><circle cx="177.8" cy="592.6" r="0.9"/><circle cx="179.1" cy="592.2" r="0.9"/><circle cx="182.3" cy="592.4" r="0.9"/><circle cx="186.4" cy="592.4" r="0.9"/><circle cx="190.0" cy="592.4" r="0.9"/><circle cx="191.5" cy="592.6" r="0.9"/></g>
<path d="M194.9 590.9 L194.9 542.6 L195.8 537.7 L196.7 536.1 L197.6 536.1 L198.5 536.4 L199.4 535.9 L200.3 535.4 L201.2 535.3 L202.1 535.3 L203.0 535.6 L203.9 535.3 L204.8 535.9 L205.7 535.7 L206.6 537.1 L207.5 539.5 L208.4 542.2 L209.3 543.3 L210.2 544.1 L211.1 545.2 L212.0 546.1 L212.9 546.7 L213.8 546.5 L214.7 546.2 L215.6 545.9 L216.5 545.8 L217.4 545.9 L218.3 546.6 L219.2 546.4 L220.1 545.9 L221.0 546.4 L221.9 545.8 L222.8 546.3 L223.7 546.1 L224.6 543.2 L225.5 539.7 L226.4 537.2 L227.3 536.4 L228.2 535.5 L229.1 535.5 L230.0 536.0 L230.9 536.9 L231.8 537.3 L232.7 539.3 L233.6 539.7 L233.9 590.9 Z" fill="#4682b4"/>
<path d="M195.9 535.4V537.9M197.4 534.7V537.1M198.5 530.8V536.9M201.0 533.6V536.8M202.3 530.8V536.8M203.5 533.2V536.8M205.5 533.0V536.8M206.7 536.7V538.5M208.5 531.4V542.9M210.8 544.2V546.1M212.5 543.1V547.2M213.8 541.3V547.2M215.4 539.1V547.2M216.8 535.8V547.2M219.0 543.2V547.2M220.1 543.1V547.2M221.3 541.1V547.2M223.3 542.3V547.2M225.7 537.8V539.5M227.8 529.1V537.1M228.8 533.3V536.4M229.8 531.9V536.9M231.9 535.6V538.8M196.1 545.8V589.1M232.7 541.8V589.1" stroke="#4682b4" stroke-width="3.50" stroke-linecap="round" fill="none"/>
<g fill="#4682b4"><circle cx="200.6" cy="527.4" r="1.75"/><circle cx="204.0" cy="525.2" r="1.75"/><circle cx="211.0" cy="532.6" r="1.75"/><circle cx="215.5" cy="533.5" r="1.75"/><circle cx="217.0" cy="528.3" r="1.75"/><circle cx="221.0" cy="530.9" r="1.75"/><circle cx="221.0" cy="536.0" r="1.75"/><circle cx="209.5" cy="535.3" r="1.75"/><circle cx="232.1" cy="533.2" r="1.75"/><circle cx="199.3" cy="523.3" r="1.75"/><circle cx="219.5" cy="539.3" r="1.75"/><circle cx="222.4" cy="543.4" r="1.75"/><circle cx="220.7" cy="545.6" r="1.75"/><circle cx="209.0" cy="520.5" r="1.75"/><circle cx="207.7" cy="526.6" r="1.75"/><circle cx="227.9" cy="521.2" r="1.75"/><circle cx="219.7" cy="534.3" r="1.75"/><circle cx="203.2" cy="528.5" r="1.75"/><circle cx="208.4" cy="535.7" r="1.75"/><circle cx="217.7" cy="542.7" r="1.75"/><circle cx="214.5" cy="539.4" r="1.75"/><circle cx="195.7" cy="546.8" r="1.75"/><circle cx="195.7" cy="548.6" r="1.75"/><circle cx="195.6" cy="550.7" r="1.75"/><circle cx="195.6" cy="553.6" r="1.75"/><circle cx="195.9" cy="556.1" r="1.75"/><circle cx="195.8" cy="559.5" r="1.75"/><circle cx="195.9" cy="561.7" r="1.75"/><circle cx="195.6" cy="564.0" r="1.75"/><circle cx="195.8" cy="567.2" r="1.75"/><circle cx="195.9" cy="570.1" r="1.75"/><circle cx="195.8" cy="572.5" r="1.75"/><circle cx="195.8" cy="574.6" r="1.75"/><circle cx="195.6" cy="577.6" r="1.75"/><circle cx="195.9" cy="579.6" r="1.75"/><circle cx="195.7" cy="582.6" r="1.75"/><circle cx="195.7" cy="585.5" r="1.75"/><circle cx="195.9" cy="588.4" r="1.75"/><circle cx="233.0" cy="542.8" r="1.75"/><circle cx="233.3" cy="544.3" r="1.75"/><circle cx="233.1" cy="546.9" r="1.75"/><circle cx="233.2" cy="550.3" r="1.75"/><circle cx="232.9" cy="552.3" r="1.75"/><circle cx="233.2" cy="554.0" r="1.75"/><circle cx="233.0" cy="556.9" r="1.75"/><circle cx="232.9" cy="559.2" r="1.75"/><circle cx="233.2" cy="561.7" r="1.75"/><circle cx="233.2" cy="565.0" r="1.75"/><circle cx="233.0" cy="568.2" r="1.75"/><circle cx="232.9" cy="570.5" r="1.75"/><circle cx="232.8" cy="574.0" r="1.75"/><circle cx="232.9" cy="575.8" r="1.75"/><circle cx="233.2" cy="579.1" r="1.75"/><circle cx="233.2" cy="581.3" r="1.75"/><circle cx="233.0" cy="584.6" r="1.75"/><circle cx="233.2" cy="586.5" r="1.75"/><circle cx="232.8" cy="588.7" r="1.75"/><circle cx="231.5" cy="519.0" r="1.75"/><circle cx="231.6" cy="520.1" r="1.75"/><circle cx="231.2" cy="521.1" r="1.75"/><circle cx="231.4" cy="522.2" r="1.75"/><circle cx="231.4" cy="523.0" r="1.75"/><circle cx="231.4" cy="524.5" r="1.75"/><circle cx="231.6" cy="525.8" r="1.75"/><circle cx="231.2" cy="526.7" r="1.75"/><circle cx="231.6" cy="528.1" r="1.75"/><circle cx="231.3" cy="529.1" r="1.75"/><circle cx="231.5" cy="530.0" r="1.75"/></g>
<g fill="#4682b4" opacity="0.75"><circle cx="198.4" cy="592.1" r="0.9"/><circle cx="202.6" cy="592.3" r="0.9"/><circle cx="204.1" cy="592.6" r="0.9"/><circle cx="208.9" cy="592.6" r="0.9"/><circle cx="211.1" cy="592.6" r="0.9"/><circle cx="213.6" cy="592.2" r="0.9"/><circle cx="220.1" cy="592.6" r="0.9"/><circle cx="223.8" cy="592.2" r="0.9"/><circle cx="224.8" cy="592.4" r="0.9"/><circle cx="226.4" cy="592.5" r="0.9"/><circle cx="230.8" cy="592.6" r="0.9"/><circle cx="233.4" cy="592.5" r="0.9"/></g>
<path d="M236.5 590.9 L236.5 539.5 L237.4 538.4 L238.3 538.9 L239.2 538.7 L240.1 538.9 L241.0 539.9 L241.9 540.2 L242.8 540.3 L243.7 540.5 L244.6 541.2 L245.5 541.0 L246.4 541.1 L247.3 541.4 L248.2 540.6 L249.1 540.4 L250.0 539.9 L250.9 540.4 L251.8 540.4 L252.7 540.2 L253.6 540.2 L254.5 540.2 L255.4 541.2 L256.3 541.4 L257.2 542.2 L258.1 542.1 L259.0 542.5 L259.9 541.8 L260.8 542.0 L261.7 542.7 L262.6 541.4 L263.5 539.9 L264.4 538.2 L265.3 537.3 L266.2 537.3 L267.1 537.6 L268.0 538.4 L268.9 538.1 L269.8 537.4 L270.7 537.5 L271.6 537.5 L272.5 538.8 L273.4 539.2 L273.6 590.9 Z" fill="#0000ff"/>
<path d="M237.5 535.4V539.8M238.9 535.0V539.7M240.0 536.1V540.3M241.9 539.1V541.2M243.3 535.5V541.6M245.1 536.7V542.0M247.2 537.1V541.9M248.5 537.8V541.6M250.7 536.4V541.2M252.8 537.9V541.2M254.4 530.0V541.5M256.6 536.8V542.6M257.7 537.8V543.1M258.7 531.8V543.2M261.1 536.5V543.2M262.4 533.5V542.5M263.6 532.0V540.5M265.4 536.8V538.4M267.7 535.3V539.1M269.9 532.5V538.6M271.7 529.4V538.9M237.7 540.8V589.1M272.4 540.8V589.1" stroke="#0000ff" stroke-width="3.50" stroke-linecap="round" fill="none"/>
<g fill="#0000ff"><circle cx="237.5" cy="523.5" r="1.75"/><circle cx="243.5" cy="521.0" r="1.75"/><circle cx="243.5" cy="528.3" r="1.75"/><circle cx="247.3" cy="522.6" r="1.75"/><circle cx="255.8" cy="520.0" r="1.75"/><circle cx="261.6" cy="524.8" r="1.75"/><circle cx="269.0" cy="533.9" r="1.75"/><circle cx="249.3" cy="539.1" r="1.75"/><circle cx="259.4" cy="540.1" r="1.75"/><circle cx="247.8" cy="531.5" r="1.75"/><circle cx="269.3" cy="517.6" r="1.75"/><circle cx="252.9" cy="531.0" r="1.75"/><circle cx="270.0" cy="525.8" r="1.75"/><circle cx="245.5" cy="533.5" r="1.75"/><circle cx="256.9" cy="530.3" r="1.75"/><circle cx="242.5" cy="531.4" r="1.75"/><circle cx="265.1" cy="531.7" r="1.75"/><circle cx="271.1" cy="530.7" r="1.75"/><circle cx="266.7" cy="532.0" r="1.75"/><circle cx="237.4" cy="541.8" r="1.75"/><circle cx="237.5" cy="543.7" r="1.75"/><circle cx="237.4" cy="547.1" r="1.75"/><circle cx="237.4" cy="549.6" r="1.75"/><circle cx="237.2" cy="551.2" r="1.75"/><circle cx="237.1" cy="554.2" r="1.75"/><circle cx="237.5" cy="556.4" r="1.75"/><circle cx="237.2" cy="558.6" r="1.75"/><circle cx="237.4" cy="561.4" r="1.75"/><circle cx="237.6" cy="563.9" r="1.75"/><circle cx="237.4" cy="567.3" r="1.75"/><circle cx="237.2" cy="569.8" r="1.75"/><circle cx="237.2" cy="571.7" r="1.75"/><circle cx="237.2" cy="573.9" r="1.75"/><circle cx="237.5" cy="575.6" r="1.75"/><circle cx="237.4" cy="578.4" r="1.75"/><circle cx="237.3" cy="580.6" r="1.75"/><circle cx="237.4" cy="582.5" r="1.75"/><circle cx="237.2" cy="584.0" r="1.75"/><circle cx="237.2" cy="586.1" r="1.75"/><circle cx="237.3" cy="588.7" r="1.75"/><circle cx="272.5" cy="541.8" r="1.75"/><circle cx="272.6" cy="544.8" r="1.75"/><circle cx="272.9" cy="548.0" r="1.75"/><circle cx="272.9" cy="550.9" r="1.75"/><circle cx="272.8" cy="553.3" r="1.75"/><circle cx="272.6" cy="556.7" r="1.75"/><circle cx="272.7" cy="558.4" r="1.75"/><circle cx="272.5" cy="560.9" r="1.75"/><circle cx="273.0" cy="562.8" r="1.75"/><circle cx="272.5" cy="565.1" r="1.75"/><circle cx="272.8" cy="567.0" r="1.75"/><circle cx="272.7" cy="568.9" r="1.75"/><circle cx="272.7" cy="571.4" r="1.75"/><circle cx="272.9" cy="573.9" r="1.75"/><circle cx="273.0" cy="575.5" r="1.75"/><circle cx="272.5" cy="577.4" r="1.75"/><circle cx="272.8" cy="580.4" r="1.75"/><circle cx="272.6" cy="583.0" r="1.75"/><circle cx="272.6" cy="586.0" r="1.75"/><circle cx="272.6" cy="589.0" r="1.75"/><circle cx="266.1" cy="513.7" r="1.75"/><circle cx="266.0" cy="514.8" r="1.75"/><circle cx="266.1" cy="515.6" r="1.75"/><circle cx="265.8" cy="517.0" r="1.75"/><circle cx="266.1" cy="518.2" r="1.75"/><circle cx="266.2" cy="519.1" r="1.75"/><circle cx="265.7" cy="520.6" r="1.75"/><circle cx="265.8" cy="521.6" r="1.75"/><circle cx="265.8" cy="522.6" r="1.75"/><circle cx="265.9" cy="523.8" r="1.75"/><circle cx="266.0" cy="524.9" r="1.75"/><circle cx="266.0" cy="525.0" r="1.75"/><circle cx="270.7" cy="523.0" r="1.75"/><circle cx="270.3" cy="524.4" r="1.75"/><circle cx="270.2" cy="525.4" r="1.75"/><circle cx="270.5" cy="526.0" r="1.75"/></g>
<g fill="#0000ff" opacity="0.75"><circle cx="237.0" cy="592.5" r="0.9"/><circle cx="240.3" cy="592.6" r="0.9"/><circle cx="243.2" cy="592.1" r="0.9"/><circle cx="247.2" cy="592.6" r="0.9"/><circle cx="250.5" cy="592.6" r="0.9"/><circle cx="255.5" cy="592.4" r="0.9"/><circle cx="257.8" cy="592.3" r="0.9"/><circle cx="264.4" cy="592.3" r="0.9"/><circle cx="270.3" cy="592.3" r="0.9"/><circle cx="272.1" cy="592.2" r="0.9"/></g>
<path d="M276.5 590.9 L276.5 546.5 L277.4 546.1 L278.3 544.8 L279.2 543.8 L280.1 541.8 L281.0 538.9 L281.9 539.4 L282.8 538.7 L283.7 539.6 L284.6 538.6 L285.5 538.6 L286.4 537.1 L287.3 535.8 L288.2 535.4 L289.1 536.7 L290.0 537.8 L290.9 538.7 L291.8 539.5 L292.7 539.5 L293.6 540.4 L294.5 540.0 L295.4 539.6 L296.3 537.9 L297.2 537.3 L298.1 535.3 L299.0 534.8 L299.9 534.1 L300.8 532.8 L301.7 532.6 L302.6 532.4 L303.5 532.5 L304.4 532.8 L305.3 533.5 L306.2 534.3 L307.1 534.2 L308.0 535.0 L308.9 535.9 L309.8 536.3 L310.7 537.1 L311.0 590.9 Z" fill="#4682b4"/>
<path d="M277.5 542.3V546.8M279.1 533.6V545.1M281.4 537.6V540.2M283.2 536.5V540.1M284.2 536.2V540.1M286.5 535.2V538.1M288.4 530.3V536.7M289.4 526.6V538.1M290.4 536.6V539.5M292.5 539.0V540.6M294.0 539.0V541.0M295.6 538.7V540.2M296.8 535.9V538.4M297.8 534.9V536.8M299.0 531.2V535.6M300.2 526.1V534.5M301.7 530.7V533.3M303.0 524.9V533.8M304.0 527.2V534.1M305.1 522.9V534.4M306.6 530.0V535.2M308.9 534.8V536.7M309.9 531.4V537.7M277.7 547.8V589.1M309.8 538.8V589.1" stroke="#4682b4" stroke-width="3.50" stroke-linecap="round" fill="none"/>
<g fill="#4682b4"><circle cx="282.8" cy="508.1" r="1.75"/><circle cx="304.2" cy="503.8" r="1.75"/><circle cx="304.2" cy="505.0" r="1.75"/><circle cx="310.0" cy="514.3" r="1.75"/><circle cx="292.3" cy="527.8" r="1.75"/><circle cx="301.5" cy="524.3" r="1.75"/><circle cx="300.9" cy="527.9" r="1.75"/><circle cx="283.6" cy="533.5" r="1.75"/><circle cx="296.5" cy="533.6" r="1.75"/><circle cx="298.4" cy="530.0" r="1.75"/><circle cx="293.6" cy="536.8" r="1.75"/><circle cx="294.0" cy="531.4" r="1.75"/><circle cx="289.6" cy="527.5" r="1.75"/><circle cx="286.4" cy="521.6" r="1.75"/><circle cx="309.7" cy="525.8" r="1.75"/><circle cx="304.0" cy="525.9" r="1.75"/><circle cx="309.9" cy="525.7" r="1.75"/><circle cx="295.6" cy="533.2" r="1.75"/><circle cx="277.6" cy="548.8" r="1.75"/><circle cx="277.3" cy="550.8" r="1.75"/><circle cx="277.4" cy="552.7" r="1.75"/><circle cx="277.6" cy="555.6" r="1.75"/><circle cx="277.6" cy="558.4" r="1.75"/><circle cx="277.3" cy="560.9" r="1.75"/><circle cx="277.6" cy="563.7" r="1.75"/><circle cx="277.1" cy="565.6" r="1.75"/><circle cx="277.4" cy="567.9" r="1.75"/><circle cx="277.2" cy="570.1" r="1.75"/><circle cx="277.3" cy="573.1" r="1.75"/><circle cx="277.3" cy="575.4" r="1.75"/><circle cx="277.5" cy="578.0" r="1.75"/><circle cx="277.1" cy="581.4" r="1.75"/><circle cx="277.1" cy="584.4" r="1.75"/><circle cx="277.2" cy="586.8" r="1.75"/><circle cx="277.2" cy="588.8" r="1.75"/><circle cx="310.4" cy="539.8" r="1.75"/><circle cx="310.4" cy="542.9" r="1.75"/><circle cx="310.3" cy="545.0" r="1.75"/><circle cx="310.0" cy="547.4" r="1.75"/><circle cx="310.3" cy="549.6" r="1.75"/><circle cx="310.3" cy="552.8" r="1.75"/><circle cx="309.9" cy="555.7" r="1.75"/><circle cx="310.2" cy="557.5" r="1.75"/><circle cx="310.0" cy="559.4" r="1.75"/><circle cx="309.9" cy="561.1" r="1.75"/><circle cx="310.0" cy="564.0" r="1.75"/><circle cx="310.0" cy="567.2" r="1.75"/><circle cx="310.0" cy="570.4" r="1.75"/><circle cx="310.1" cy="572.5" r="1.75"/><circle cx="310.1" cy="574.0" r="1.75"/><circle cx="309.8" cy="576.3" r="1.75"/><circle cx="310.1" cy="579.5" r="1.75"/><circle cx="310.4" cy="581.0" r="1.75"/><circle cx="310.0" cy="582.9" r="1.75"/><circle cx="309.9" cy="584.5" r="1.75"/><circle cx="310.2" cy="587.4" r="1.75"/><circle cx="282.6" cy="512.0" r="1.75"/><circle cx="283.1" cy="513.0" r="1.75"/><circle cx="283.1" cy="514.1" r="1.75"/><circle cx="282.6" cy="515.6" r="1.75"/><circle cx="282.5" cy="517.1" r="1.75"/><circle cx="283.0" cy="518.5" r="1.75"/><circle cx="282.8" cy="519.8" r="1.75"/><circle cx="282.6" cy="521.3" r="1.75"/><circle cx="282.7" cy="522.5" r="1.75"/><circle cx="282.6" cy="523.6" r="1.75"/><circle cx="282.8" cy="524.0" r="1.75"/><circle cx="287.5" cy="524.8" r="1.75"/><circle cx="287.6" cy="526.2" r="1.75"/><circle cx="287.8" cy="527.5" r="1.75"/><circle cx="287.5" cy="528.3" r="1.75"/><circle cx="304.2" cy="510.3" r="1.75"/><circle cx="304.5" cy="511.4" r="1.75"/><circle cx="304.0" cy="512.5" r="1.75"/><circle cx="304.2" cy="513.0" r="1.75"/></g>
<g fill="#4682b4" opacity="0.75"><circle cx="283.4" cy="592.4" r="0.9"/><circle cx="285.5" cy="592.2" r="0.9"/><circle cx="290.9" cy="592.2" r="0.9"/><circle cx="292.6" cy="592.7" r="0.9"/><circle cx="295.0" cy="592.6" r="0.9"/><circle cx="296.9" cy="592.7" r="0.9"/><circle cx="298.0" cy="592.4" r="0.9"/><circle cx="305.2" cy="592.4" r="0.9"/><circle cx="308.3" cy="592.5" r="0.9"/></g>
<path d="M313.6 590.9 L313.6 536.1 L314.5 532.9 L315.4 531.6 L316.3 533.4 L317.2 535.2 L318.1 537.1 L319.0 536.4 L319.9 535.3 L320.8 534.5 L321.7 533.8 L322.6 534.6 L323.5 535.6 L324.4 536.1 L325.3 536.9 L326.2 536.2 L327.1 536.0 L328.0 534.8 L328.9 536.2 L329.8 536.9 L330.7 537.9 L331.6 537.9 L332.5 537.1 L333.4 537.3 L334.3 536.9 L335.2 536.4 L336.1 536.2 L337.0 537.0 L337.9 537.6 L338.8 538.3 L339.7 538.8 L340.6 538.7 L341.5 540.3 L342.4 540.8 L343.3 541.2 L344.2 542.6 L345.1 543.3 L346.0 544.2 L346.0 590.9 Z" fill="#0000ff"/>
<path d="M314.6 531.1V533.8M316.4 531.7V535.1M317.8 530.6V537.8M319.7 533.2V536.3M321.4 522.8V534.3M323.2 525.0V536.2M325.0 526.7V538.2M326.0 533.6V537.6M327.8 529.7V536.4M330.2 533.1V538.5M331.9 533.3V538.8M333.6 531.5V537.9M336.1 536.0V537.6M337.5 528.2V538.1M338.5 530.9V538.6M339.4 533.6V539.3M341.6 538.4V541.0M343.1 539.7V542.2M314.8 538.8V589.1M344.8 544.8V589.1" stroke="#0000ff" stroke-width="3.50" stroke-linecap="round" fill="none"/>
<g fill="#0000ff"><circle cx="323.5" cy="509.9" r="1.75"/><circle cx="333.5" cy="523.0" r="1.75"/><circle cx="338.0" cy="522.1" r="1.75"/><circle cx="330.7" cy="530.4" r="1.75"/><circle cx="332.4" cy="523.9" r="1.75"/><circle cx="343.5" cy="536.9" r="1.75"/><circle cx="326.3" cy="528.5" r="1.75"/><circle cx="319.9" cy="525.4" r="1.75"/><circle cx="343.1" cy="539.7" r="1.75"/><circle cx="329.6" cy="526.5" r="1.75"/><circle cx="340.2" cy="532.5" r="1.75"/><circle cx="342.8" cy="538.9" r="1.75"/><circle cx="319.3" cy="533.0" r="1.75"/><circle cx="335.9" cy="529.9" r="1.75"/><circle cx="314.3" cy="539.8" r="1.75"/><circle cx="314.7" cy="542.3" r="1.75"/><circle cx="314.3" cy="545.4" r="1.75"/><circle cx="314.2" cy="547.3" r="1.75"/><circle cx="314.6" cy="550.5" r="1.75"/><circle cx="314.2" cy="552.0" r="1.75"/><circle cx="314.7" cy="555.1" r="1.75"/><circle cx="314.3" cy="558.1" r="1.75"/><circle cx="314.3" cy="560.9" r="1.75"/><circle cx="314.6" cy="564.4" r="1.75"/><circle cx="314.2" cy="567.6" r="1.75"/><circle cx="314.4" cy="569.7" r="1.75"/><circle cx="314.3" cy="572.5" r="1.75"/><circle cx="314.6" cy="575.2" r="1.75"/><circle cx="314.4" cy="577.2" r="1.75"/><circle cx="314.2" cy="579.0" r="1.75"/><circle cx="314.6" cy="582.2" r="1.75"/><circle cx="314.4" cy="585.1" r="1.75"/><circle cx="314.3" cy="586.9" r="1.75"/><circle cx="345.0" cy="545.8" r="1.75"/><circle cx="345.0" cy="547.4" r="1.75"/><circle cx="345.1" cy="550.5" r="1.75"/><circle cx="344.9" cy="553.6" r="1.75"/><circle cx="345.0" cy="555.3" r="1.75"/><circle cx="344.9" cy="558.6" r="1.75"/><circle cx="345.3" cy="560.2" r="1.75"/><circle cx="345.2" cy="561.9" r="1.75"/><circle cx="345.0" cy="563.6" r="1.75"/><circle cx="345.4" cy="566.4" r="1.75"/><circle cx="345.1" cy="568.7" r="1.75"/><circle cx="345.0" cy="570.3" r="1.75"/><circle cx="345.3" cy="572.3" r="1.75"/><circle cx="345.3" cy="575.2" r="1.75"/><circle cx="345.3" cy="577.8" r="1.75"/><circle cx="345.1" cy="579.5" r="1.75"/><circle cx="345.0" cy="581.6" r="1.75"/><circle cx="345.0" cy="584.6" r="1.75"/><circle cx="345.0" cy="586.7" r="1.75"/><circle cx="314.1" cy="517.8" r="1.75"/><circle cx="313.9" cy="519.0" r="1.75"/><circle cx="314.3" cy="520.5" r="1.75"/><circle cx="314.0" cy="521.7" r="1.75"/><circle cx="313.9" cy="523.2" r="1.75"/><circle cx="314.0" cy="524.0" r="1.75"/><circle cx="321.3" cy="523.0" r="1.75"/><circle cx="321.7" cy="524.2" r="1.75"/><circle cx="321.5" cy="525.1" r="1.75"/><circle cx="321.5" cy="526.5" r="1.75"/></g>
<g fill="#0000ff" opacity="0.75"><circle cx="317.9" cy="592.2" r="0.9"/><circle cx="324.7" cy="592.4" r="0.9"/><circle cx="331.9" cy="592.7" r="0.9"/><circle cx="338.3" cy="592.6" r="0.9"/><circle cx="341.1" cy="592.2" r="0.9"/><circle cx="345.4" cy="592.3" r="0.9"/></g>
<path d="M348.7 590.9 L348.7 539.5 L349.6 539.2 L350.5 538.6 L351.4 537.7 L352.3 536.6 L353.2 536.9 L354.1 542.3 L355.0 547.3 L355.9 547.2 L356.8 547.7 L357.7 547.2 L358.6 547.1 L359.5 547.2 L360.4 544.9 L361.3 541.2 L362.2 537.2 L363.1 536.3 L364.0 535.4 L364.9 536.3 L365.8 538.4 L366.7 540.6 L367.6 538.5 L368.5 535.0 L369.4 531.7 L370.3 530.0 L371.2 528.8 L372.1 528.9 L373.0 529.1 L373.9 529.5 L374.8 529.6 L375.7 535.1 L376.6 542.8 L377.5 544.7 L378.0 590.9 Z" fill="#4682b4"/>
<path d="M349.7 535.1V539.7M351.4 537.1V538.8M352.5 531.9V537.8M354.5 541.8V545.2M356.8 539.9V548.2M358.2 546.5V548.2M360.0 542.5V548.2M361.2 540.3V542.0M362.9 535.8V537.4M365.0 532.4V537.8M366.4 537.0V540.8M367.6 537.1V539.4M368.8 525.8V534.0M370.5 524.5V531.1M371.9 522.2V530.2M373.8 524.5V530.2M375.3 528.0V532.8M376.5 531.8V543.3M349.9 539.8V589.1M376.8 547.8V589.1" stroke="#4682b4" stroke-width="3.50" stroke-linecap="round" fill="none"/>
<g fill="#4682b4"><circle cx="364.3" cy="518.6" r="1.75"/><circle cx="350.0" cy="527.4" r="1.75"/><circle cx="352.0" cy="527.4" r="1.75"/><circle cx="361.7" cy="528.3" r="1.75"/><circle cx="364.2" cy="528.2" r="1.75"/><circle cx="358.8" cy="540.0" r="1.75"/><circle cx="350.0" cy="528.8" r="1.75"/><circle cx="371.1" cy="520.7" r="1.75"/><circle cx="356.0" cy="538.9" r="1.75"/><circle cx="369.4" cy="524.1" r="1.75"/><circle cx="365.3" cy="518.7" r="1.75"/><circle cx="360.0" cy="536.7" r="1.75"/><circle cx="373.7" cy="526.6" r="1.75"/><circle cx="360.3" cy="536.7" r="1.75"/><circle cx="349.7" cy="540.8" r="1.75"/><circle cx="349.5" cy="543.8" r="1.75"/><circle cx="349.6" cy="546.8" r="1.75"/><circle cx="349.4" cy="548.4" r="1.75"/><circle cx="349.6" cy="550.3" r="1.75"/><circle cx="349.7" cy="551.8" r="1.75"/><circle cx="349.4" cy="554.7" r="1.75"/><circle cx="349.6" cy="557.4" r="1.75"/><circle cx="349.5" cy="560.4" r="1.75"/><circle cx="349.5" cy="562.3" r="1.75"/><circle cx="349.4" cy="565.0" r="1.75"/><circle cx="349.7" cy="566.9" r="1.75"/><circle cx="349.8" cy="569.1" r="1.75"/><circle cx="349.4" cy="571.3" r="1.75"/><circle cx="349.8" cy="574.0" r="1.75"/><circle cx="349.8" cy="576.9" r="1.75"/><circle cx="349.8" cy="579.9" r="1.75"/><circle cx="349.7" cy="581.6" r="1.75"/><circle cx="349.7" cy="584.1" r="1.75"/><circle cx="349.3" cy="587.4" r="1.75"/><circle cx="377.3" cy="548.8" r="1.75"/><circle cx="377.2" cy="551.6" r="1.75"/><circle cx="377.4" cy="553.7" r="1.75"/><circle cx="376.8" cy="557.1" r="1.75"/><circle cx="377.0" cy="559.2" r="1.75"/><circle cx="377.1" cy="561.1" r="1.75"/><circle cx="376.9" cy="564.4" r="1.75"/><circle cx="377.0" cy="567.6" r="1.75"/><circle cx="377.4" cy="569.1" r="1.75"/><circle cx="377.0" cy="571.2" r="1.75"/><circle cx="377.1" cy="572.9" r="1.75"/><circle cx="376.9" cy="574.6" r="1.75"/><circle cx="377.2" cy="576.6" r="1.75"/><circle cx="377.0" cy="579.0" r="1.75"/><circle cx="377.3" cy="581.6" r="1.75"/><circle cx="377.0" cy="584.5" r="1.75"/><circle cx="377.3" cy="587.9" r="1.75"/><circle cx="352.5" cy="513.4" r="1.75"/><circle cx="352.3" cy="514.5" r="1.75"/><circle cx="352.6" cy="516.0" r="1.75"/><circle cx="352.8" cy="516.9" r="1.75"/><circle cx="352.2" cy="518.4" r="1.75"/><circle cx="352.3" cy="519.7" r="1.75"/><circle cx="352.7" cy="520.9" r="1.75"/><circle cx="352.5" cy="521.3" r="1.75"/><circle cx="364.3" cy="527.4" r="1.75"/><circle cx="364.1" cy="528.7" r="1.75"/><circle cx="364.3" cy="530.0" r="1.75"/><circle cx="364.1" cy="531.6" r="1.75"/><circle cx="364.0" cy="533.0" r="1.75"/><circle cx="364.1" cy="534.0" r="1.75"/><circle cx="364.3" cy="534.9" r="1.75"/><circle cx="364.3" cy="535.0" r="1.75"/></g>
<g fill="#4682b4" opacity="0.75"><circle cx="352.4" cy="592.2" r="0.9"/><circle cx="356.9" cy="592.3" r="0.9"/><circle cx="359.3" cy="592.7" r="0.9"/><circle cx="361.7" cy="592.4" r="0.9"/><circle cx="364.1" cy="592.6" r="0.9"/><circle cx="368.0" cy="592.7" r="0.9"/><circle cx="371.0" cy="592.5" r="0.9"/></g>
<path d="M379.7 590.9 L379.7 543.1 L380.6 538.6 L381.5 536.2 L382.4 534.0 L383.3 533.5 L384.2 532.8 L385.1 532.1 L386.0 532.2 L386.9 532.4 L387.8 532.7 L388.7 533.4 L389.6 536.1 L389.7 590.9 Z" fill="#0000ff"/>
<path d="M380.7 532.9V539.6M382.6 533.6V535.1M384.9 529.5V533.3M386.8 524.7V532.9M388.1 531.9V533.5M380.9 545.8V589.1M388.5 537.8V589.1" stroke="#0000ff" stroke-width="3.50" stroke-linecap="round" fill="none"/>
<g fill="#0000ff"><circle cx="382.9" cy="532.3" r="1.75"/><circle cx="388.7" cy="525.3" r="1.75"/><circle cx="381.9" cy="523.4" r="1.75"/><circle cx="380.5" cy="546.8" r="1.75"/><circle cx="380.6" cy="548.5" r="1.75"/><circle cx="380.9" cy="551.9" r="1.75"/><circle cx="380.8" cy="554.2" r="1.75"/><circle cx="380.8" cy="557.7" r="1.75"/><circle cx="380.4" cy="561.1" r="1.75"/><circle cx="380.8" cy="564.1" r="1.75"/><circle cx="380.6" cy="567.0" r="1.75"/><circle cx="380.8" cy="569.5" r="1.75"/><circle cx="380.4" cy="572.0" r="1.75"/><circle cx="380.3" cy="573.8" r="1.75"/><circle cx="380.7" cy="576.1" r="1.75"/><circle cx="380.6" cy="578.1" r="1.75"/><circle cx="380.5" cy="580.9" r="1.75"/><circle cx="380.6" cy="584.2" r="1.75"/><circle cx="380.3" cy="586.7" r="1.75"/><circle cx="380.9" cy="588.6" r="1.75"/><circle cx="388.7" cy="538.8" r="1.75"/><circle cx="388.8" cy="540.5" r="1.75"/><circle cx="389.1" cy="542.1" r="1.75"/><circle cx="389.1" cy="544.5" r="1.75"/><circle cx="389.0" cy="547.4" r="1.75"/><circle cx="388.7" cy="550.4" r="1.75"/><circle cx="388.7" cy="553.4" r="1.75"/><circle cx="388.9" cy="556.0" r="1.75"/><circle cx="388.6" cy="559.1" r="1.75"/><circle cx="389.0" cy="561.3" r="1.75"/><circle cx="389.1" cy="564.4" r="1.75"/><circle cx="388.7" cy="566.1" r="1.75"/><circle cx="389.0" cy="567.8" r="1.75"/><circle cx="388.9" cy="570.8" r="1.75"/><circle cx="388.8" cy="573.9" r="1.75"/><circle cx="389.1" cy="576.5" r="1.75"/><circle cx="388.9" cy="579.3" r="1.75"/><circle cx="388.8" cy="582.0" r="1.75"/><circle cx="388.9" cy="585.0" r="1.75"/><circle cx="388.8" cy="586.7" r="1.75"/><circle cx="388.8" cy="589.1" r="1.75"/></g>
<g fill="#0000ff" opacity="0.75"><circle cx="380.2" cy="592.3" r="0.9"/><circle cx="381.7" cy="592.7" r="0.9"/><circle cx="382.7" cy="592.5" r="0.9"/><circle cx="384.2" cy="592.5" r="0.9"/><circle cx="385.6" cy="592.1" r="0.9"/></g>
<path d="M393.8 590.9 L393.8 542.7 L394.7 539.9 L395.6 536.8 L396.5 533.5 L397.4 532.6 L398.3 534.4 L399.2 535.8 L400.1 536.9 L401.0 538.1 L401.9 538.9 L402.8 540.3 L403.7 539.6 L404.6 538.2 L405.5 538.1 L406.4 540.8 L407.3 543.2 L408.2 544.4 L408.4 590.9 Z" fill="#0000ff"/>
<path d="M394.8 536.2V540.1M395.9 534.7V536.5M398.0 533.0V534.7M400.2 532.1V538.0M401.8 529.7V540.1M404.2 534.1V539.4M405.3 533.9V539.0M406.9 540.3V542.9M395.0 545.8V589.1M407.2 545.8V589.1" stroke="#0000ff" stroke-width="3.50" stroke-linecap="round" fill="none"/>
<g fill="#0000ff"><circle cx="399.5" cy="515.1" r="1.75"/><circle cx="404.5" cy="520.8" r="1.75"/><circle cx="404.5" cy="523.0" r="1.75"/><circle cx="405.5" cy="527.8" r="1.75"/><circle cx="404.0" cy="536.4" r="1.75"/><circle cx="399.1" cy="528.2" r="1.75"/><circle cx="400.3" cy="528.1" r="1.75"/><circle cx="403.9" cy="528.2" r="1.75"/><circle cx="406.8" cy="535.7" r="1.75"/><circle cx="394.9" cy="546.8" r="1.75"/><circle cx="394.6" cy="549.1" r="1.75"/><circle cx="394.8" cy="551.8" r="1.75"/><circle cx="394.9" cy="553.4" r="1.75"/><circle cx="394.9" cy="556.0" r="1.75"/><circle cx="394.6" cy="558.1" r="1.75"/><circle cx="394.7" cy="561.4" r="1.75"/><circle cx="394.6" cy="563.5" r="1.75"/><circle cx="394.5" cy="565.5" r="1.75"/><circle cx="394.8" cy="567.3" r="1.75"/><circle cx="394.4" cy="569.7" r="1.75"/><circle cx="394.8" cy="571.5" r="1.75"/><circle cx="394.8" cy="573.3" r="1.75"/><circle cx="394.7" cy="575.5" r="1.75"/><circle cx="394.7" cy="578.5" r="1.75"/><circle cx="394.7" cy="580.9" r="1.75"/><circle cx="394.4" cy="584.0" r="1.75"/><circle cx="394.4" cy="586.3" r="1.75"/><circle cx="394.4" cy="588.3" r="1.75"/><circle cx="407.6" cy="546.8" r="1.75"/><circle cx="407.4" cy="549.0" r="1.75"/><circle cx="407.8" cy="550.8" r="1.75"/><circle cx="407.7" cy="553.0" r="1.75"/><circle cx="407.6" cy="555.4" r="1.75"/><circle cx="407.3" cy="557.3" r="1.75"/><circle cx="407.6" cy="559.5" r="1.75"/><circle cx="407.2" cy="562.1" r="1.75"/><circle cx="407.5" cy="565.0" r="1.75"/><circle cx="407.4" cy="566.7" r="1.75"/><circle cx="407.7" cy="568.6" r="1.75"/><circle cx="407.4" cy="571.2" r="1.75"/><circle cx="407.4" cy="573.2" r="1.75"/><circle cx="407.4" cy="575.2" r="1.75"/><circle cx="407.7" cy="578.3" r="1.75"/><circle cx="407.8" cy="581.2" r="1.75"/><circle cx="407.3" cy="584.0" r="1.75"/><circle cx="407.3" cy="585.6" r="1.75"/><circle cx="407.6" cy="587.6" r="1.75"/><circle cx="397.6" cy="523.0" r="1.75"/><circle cx="397.3" cy="524.1" r="1.75"/><circle cx="397.7" cy="525.7" r="1.75"/><circle cx="397.2" cy="526.8" r="1.75"/><circle cx="397.5" cy="528.0" r="1.75"/></g>
<g fill="#0000ff" opacity="0.75"><circle cx="394.3" cy="592.6" r="0.9"/><circle cx="398.0" cy="592.2" r="0.9"/><circle cx="403.4" cy="592.2" r="0.9"/><circle cx="405.8" cy="592.5" r="0.9"/><circle cx="407.2" cy="592.4" r="0.9"/></g>
<path d="M410.5 590.9 L410.5 533.7 L411.4 533.2 L412.3 534.1 L413.2 536.4 L414.1 538.3 L415.0 538.3 L415.9 539.3 L416.8 538.8 L417.7 538.5 L418.6 537.9 L419.5 537.6 L420.4 537.8 L421.3 539.0 L422.2 540.4 L423.1 541.5 L424.0 539.9 L424.9 538.3 L425.8 537.8 L426.7 535.8 L427.6 534.9 L428.5 533.6 L429.4 532.6 L430.3 530.9 L431.2 528.5 L432.1 527.0 L433.0 526.9 L433.9 526.2 L434.8 525.0 L435.7 525.2 L436.6 524.9 L437.5 524.2 L438.4 525.4 L438.8 590.9 Z" fill="#4682b4"/>
<path d="M411.5 528.7V534.5M412.9 534.4V536.5M414.1 535.7V539.3M415.2 536.2V539.6M417.0 535.5V540.2M418.5 531.3V539.2M419.6 535.4V538.5M421.9 531.3V540.8M424.3 533.2V540.5M426.1 530.5V538.2M427.9 533.7V535.7M429.2 532.0V533.9M431.5 526.2V529.3M433.0 523.0V527.6M434.1 520.5V526.8M436.3 517.9V525.7M411.7 534.8V589.1M437.6 527.8V589.1" stroke="#4682b4" stroke-width="3.50" stroke-linecap="round" fill="none"/>
<g fill="#4682b4"><circle cx="435.8" cy="384.3" r="1.75"/><circle cx="435.8" cy="389.3" r="1.75"/><circle cx="435.8" cy="414.2" r="1.75"/><circle cx="435.8" cy="428.1" r="1.75"/><circle cx="435.8" cy="431.2" r="1.75"/><circle cx="435.8" cy="434.8" r="1.75"/><circle cx="435.8" cy="474.9" r="1.75"/><circle cx="435.8" cy="484.8" r="1.75"/><circle cx="435.7" cy="503.8" r="1.75"/><circle cx="420.5" cy="520.0" r="1.75"/><circle cx="419.8" cy="532.0" r="1.75"/><circle cx="429.7" cy="526.6" r="1.75"/><circle cx="415.5" cy="528.5" r="1.75"/><circle cx="432.9" cy="521.8" r="1.75"/><circle cx="425.0" cy="525.5" r="1.75"/><circle cx="420.8" cy="529.6" r="1.75"/><circle cx="434.2" cy="515.8" r="1.75"/><circle cx="421.0" cy="530.2" r="1.75"/><circle cx="432.6" cy="523.1" r="1.75"/><circle cx="416.6" cy="528.9" r="1.75"/><circle cx="411.2" cy="535.8" r="1.75"/><circle cx="411.3" cy="538.3" r="1.75"/><circle cx="411.4" cy="540.9" r="1.75"/><circle cx="411.6" cy="543.5" r="1.75"/><circle cx="411.6" cy="546.8" r="1.75"/><circle cx="411.3" cy="548.6" r="1.75"/><circle cx="411.2" cy="551.4" r="1.75"/><circle cx="411.1" cy="554.3" r="1.75"/><circle cx="411.7" cy="555.9" r="1.75"/><circle cx="411.2" cy="557.9" r="1.75"/><circle cx="411.3" cy="559.7" r="1.75"/><circle cx="411.6" cy="562.7" r="1.75"/><circle cx="411.1" cy="565.3" r="1.75"/><circle cx="411.4" cy="568.3" r="1.75"/><circle cx="411.5" cy="570.7" r="1.75"/><circle cx="411.2" cy="574.1" r="1.75"/><circle cx="411.5" cy="577.0" r="1.75"/><circle cx="411.4" cy="580.0" r="1.75"/><circle cx="411.4" cy="583.1" r="1.75"/><circle cx="411.3" cy="586.3" r="1.75"/><circle cx="411.3" cy="588.7" r="1.75"/><circle cx="438.0" cy="528.8" r="1.75"/><circle cx="437.6" cy="532.2" r="1.75"/><circle cx="438.1" cy="535.5" r="1.75"/><circle cx="438.1" cy="537.9" r="1.75"/><circle cx="437.8" cy="539.7" r="1.75"/><circle cx="438.1" cy="542.7" r="1.75"/><circle cx="438.2" cy="544.9" r="1.75"/><circle cx="437.7" cy="547.7" r="1.75"/><circle cx="437.7" cy="549.5" r="1.75"/><circle cx="437.8" cy="552.1" r="1.75"/><circle cx="437.9" cy="554.1" r="1.75"/><circle cx="438.2" cy="555.8" r="1.75"/><circle cx="438.0" cy="559.0" r="1.75"/><circle cx="437.8" cy="561.3" r="1.75"/><circle cx="437.8" cy="564.0" r="1.75"/><circle cx="438.2" cy="567.5" r="1.75"/><circle cx="438.1" cy="570.5" r="1.75"/><circle cx="437.7" cy="572.1" r="1.75"/><circle cx="437.7" cy="574.3" r="1.75"/><circle cx="438.2" cy="576.6" r="1.75"/><circle cx="438.2" cy="579.8" r="1.75"/><circle cx="437.8" cy="581.8" r="1.75"/><circle cx="437.8" cy="583.3" r="1.75"/><circle cx="438.0" cy="584.9" r="1.75"/><circle cx="438.0" cy="587.0" r="1.75"/><circle cx="435.9" cy="365.9" r="1.75"/><circle cx="435.9" cy="366.9" r="1.75"/><circle cx="435.9" cy="368.3" r="1.75"/><circle cx="435.8" cy="369.5" r="1.75"/><circle cx="435.5" cy="370.5" r="1.75"/><circle cx="435.9" cy="371.7" r="1.75"/><circle cx="436.0" cy="372.6" r="1.75"/><circle cx="436.0" cy="374.1" r="1.75"/><circle cx="435.8" cy="375.6" r="1.75"/><circle cx="435.7" cy="376.5" r="1.75"/><circle cx="436.1" cy="377.9" r="1.75"/><circle cx="435.5" cy="378.8" r="1.75"/><circle cx="435.8" cy="379.8" r="1.75"/><circle cx="435.6" cy="509.4" r="1.75"/><circle cx="435.5" cy="510.7" r="1.75"/><circle cx="435.6" cy="512.2" r="1.75"/><circle cx="435.6" cy="513.7" r="1.75"/><circle cx="435.5" cy="514.7" r="1.75"/><circle cx="435.8" cy="516.3" r="1.75"/><circle cx="435.4" cy="517.8" r="1.75"/><circle cx="435.8" cy="519.0" r="1.75"/><circle cx="435.7" cy="520.0" r="1.75"/><circle cx="412.3" cy="525.6" r="1.75"/><circle cx="411.9" cy="526.5" r="1.75"/><circle cx="412.0" cy="528.1" r="1.75"/><circle cx="411.9" cy="529.6" r="1.75"/><circle cx="412.0" cy="530.0" r="1.75"/><circle cx="420.8" cy="523.9" r="1.75"/><circle cx="420.5" cy="524.9" r="1.75"/><circle cx="420.5" cy="526.0" r="1.75"/><circle cx="420.8" cy="527.5" r="1.75"/><circle cx="420.5" cy="528.3" r="1.75"/></g>
<g fill="#4682b4" opacity="0.75"><circle cx="411.0" cy="592.6" r="0.9"/><circle cx="411.8" cy="592.7" r="0.9"/><circle cx="413.1" cy="592.4" r="0.9"/><circle cx="416.2" cy="592.7" r="0.9"/><circle cx="418.5" cy="592.1" r="0.9"/><circle cx="426.7" cy="592.4" r="0.9"/><circle cx="434.9" cy="592.6" r="0.9"/><circle cx="437.5" cy="592.7" r="0.9"/></g>
<path d="M440.5 590.9 L440.5 537.2 L441.4 534.3 L442.3 532.6 L443.2 533.4 L444.1 534.2 L445.0 537.8 L445.9 542.1 L446.8 542.4 L447.7 543.1 L448.6 544.3 L449.5 544.4 L450.4 544.2 L451.3 543.2 L452.2 542.3 L453.1 540.8 L454.0 538.3 L454.9 536.3 L455.8 534.2 L456.7 534.2 L457.6 534.0 L458.5 534.7 L459.4 535.7 L460.3 535.5 L461.2 535.9 L462.1 537.0 L463.0 536.9 L463.9 536.1 L464.8 535.4 L465.7 535.0 L466.6 535.0 L467.5 536.5 L468.0 590.9 Z" fill="#0000ff"/>
<path d="M441.5 531.0V535.0M442.7 530.3V533.9M444.7 534.9V537.9M446.8 541.5V543.8M447.9 539.1V544.5M449.5 533.6V545.1M450.6 537.7V544.7M452.6 539.5V542.8M453.7 534.7V540.0M455.8 531.6V535.7M457.5 529.1V535.2M459.3 532.4V536.1M460.5 532.9V536.9M462.3 527.3V537.9M464.8 531.7V536.5M466.2 533.1V535.6M441.7 539.8V589.1M466.8 538.8V589.1" stroke="#0000ff" stroke-width="3.50" stroke-linecap="round" fill="none"/>
<g fill="#0000ff"><circle cx="445.5" cy="520.0" r="1.75"/><circle cx="455.5" cy="512.1" r="1.75"/><circle cx="455.5" cy="517.8" r="1.75"/><circle cx="454.0" cy="524.8" r="1.75"/><circle cx="466.0" cy="520.0" r="1.75"/><circle cx="460.3" cy="530.0" r="1.75"/><circle cx="467.0" cy="524.7" r="1.75"/><circle cx="452.6" cy="529.8" r="1.75"/><circle cx="446.7" cy="528.8" r="1.75"/><circle cx="443.2" cy="528.3" r="1.75"/><circle cx="460.5" cy="522.7" r="1.75"/><circle cx="458.6" cy="533.9" r="1.75"/><circle cx="442.4" cy="527.8" r="1.75"/><circle cx="454.9" cy="529.1" r="1.75"/><circle cx="441.1" cy="540.8" r="1.75"/><circle cx="441.1" cy="543.1" r="1.75"/><circle cx="441.3" cy="545.3" r="1.75"/><circle cx="441.5" cy="547.9" r="1.75"/><circle cx="441.7" cy="550.9" r="1.75"/><circle cx="441.5" cy="552.9" r="1.75"/><circle cx="441.4" cy="556.2" r="1.75"/><circle cx="441.5" cy="557.8" r="1.75"/><circle cx="441.2" cy="560.5" r="1.75"/><circle cx="441.2" cy="562.2" r="1.75"/><circle cx="441.3" cy="564.5" r="1.75"/><circle cx="441.4" cy="566.8" r="1.75"/><circle cx="441.1" cy="570.3" r="1.75"/><circle cx="441.2" cy="573.7" r="1.75"/><circle cx="441.6" cy="576.6" r="1.75"/><circle cx="441.2" cy="578.1" r="1.75"/><circle cx="441.3" cy="581.0" r="1.75"/><circle cx="441.5" cy="583.1" r="1.75"/><circle cx="441.3" cy="586.4" r="1.75"/><circle cx="441.5" cy="588.0" r="1.75"/><circle cx="466.9" cy="539.8" r="1.75"/><circle cx="467.4" cy="543.2" r="1.75"/><circle cx="466.8" cy="546.3" r="1.75"/><circle cx="466.9" cy="548.7" r="1.75"/><circle cx="467.3" cy="551.6" r="1.75"/><circle cx="467.3" cy="554.7" r="1.75"/><circle cx="466.8" cy="556.4" r="1.75"/><circle cx="467.3" cy="558.1" r="1.75"/><circle cx="467.1" cy="561.3" r="1.75"/><circle cx="467.4" cy="563.3" r="1.75"/><circle cx="467.0" cy="565.0" r="1.75"/><circle cx="467.4" cy="566.5" r="1.75"/><circle cx="467.3" cy="568.8" r="1.75"/><circle cx="467.2" cy="571.9" r="1.75"/><circle cx="467.3" cy="575.4" r="1.75"/><circle cx="467.4" cy="578.8" r="1.75"/><circle cx="467.3" cy="580.4" r="1.75"/><circle cx="467.0" cy="582.4" r="1.75"/><circle cx="467.4" cy="584.6" r="1.75"/><circle cx="467.1" cy="586.2" r="1.75"/><circle cx="467.4" cy="587.9" r="1.75"/><circle cx="441.9" cy="521.3" r="1.75"/><circle cx="442.0" cy="522.5" r="1.75"/><circle cx="441.7" cy="523.6" r="1.75"/><circle cx="441.9" cy="525.0" r="1.75"/><circle cx="441.7" cy="526.5" r="1.75"/><circle cx="441.9" cy="528.0" r="1.75"/><circle cx="441.8" cy="528.3" r="1.75"/><circle cx="456.9" cy="522.1" r="1.75"/><circle cx="456.7" cy="523.4" r="1.75"/><circle cx="456.9" cy="524.2" r="1.75"/><circle cx="456.7" cy="525.1" r="1.75"/><circle cx="457.1" cy="526.5" r="1.75"/><circle cx="457.0" cy="527.4" r="1.75"/></g>
<g fill="#0000ff" opacity="0.75"><circle cx="441.0" cy="592.5" r="0.9"/><circle cx="445.9" cy="592.2" r="0.9"/><circle cx="450.5" cy="592.3" r="0.9"/><circle cx="452.2" cy="592.3" r="0.9"/><circle cx="460.3" cy="592.1" r="0.9"/><circle cx="463.7" cy="592.2" r="0.9"/><circle cx="465.7" cy="592.1" r="0.9"/><circle cx="467.3" cy="592.3" r="0.9"/></g>
<path d="M470.1 590.9 L470.1 529.2 L471.0 529.3 L471.9 530.0 L472.8 532.8 L473.7 536.0 L474.6 538.7 L475.5 540.9 L476.4 542.2 L477.3 542.1 L478.2 543.1 L479.1 543.3 L480.0 543.2 L480.9 540.7 L481.8 538.8 L482.7 537.4 L483.6 537.0 L484.5 538.0 L485.4 539.8 L486.3 540.4 L487.2 539.0 L488.1 538.7 L489.0 538.1 L489.9 536.9 L490.8 537.9 L491.7 539.1 L492.6 540.0 L493.5 540.3 L494.4 540.1 L495.3 539.6 L496.2 539.1 L497.1 538.9 L497.2 590.9 Z" fill="#4682b4"/>
<path d="M471.1 522.1V530.9M473.4 525.1V536.0M474.4 531.9V539.2M475.6 539.0V542.2M476.8 534.1V543.4M479.0 535.4V544.0M480.5 531.5V543.0M481.8 535.1V540.0M483.8 535.8V538.3M485.3 538.4V540.3M487.5 537.8V540.1M488.6 536.5V539.3M490.5 533.2V538.8M492.3 531.3V540.5M494.4 538.5V541.0M496.1 538.3V540.6M471.3 529.8V589.1M496.0 539.8V589.1" stroke="#4682b4" stroke-width="3.50" stroke-linecap="round" fill="none"/>
<g fill="#4682b4"><circle cx="474.0" cy="529.2" r="1.75"/><circle cx="480.5" cy="522.8" r="1.75"/><circle cx="489.5" cy="523.9" r="1.75"/><circle cx="489.5" cy="528.7" r="1.75"/><circle cx="494.0" cy="526.1" r="1.75"/><circle cx="474.8" cy="536.9" r="1.75"/><circle cx="493.4" cy="532.9" r="1.75"/><circle cx="476.6" cy="534.2" r="1.75"/><circle cx="471.8" cy="526.7" r="1.75"/><circle cx="486.2" cy="535.2" r="1.75"/><circle cx="477.1" cy="534.3" r="1.75"/><circle cx="479.6" cy="532.0" r="1.75"/><circle cx="481.7" cy="528.9" r="1.75"/><circle cx="495.9" cy="529.6" r="1.75"/><circle cx="470.8" cy="530.8" r="1.75"/><circle cx="470.7" cy="533.5" r="1.75"/><circle cx="470.8" cy="537.0" r="1.75"/><circle cx="470.9" cy="538.9" r="1.75"/><circle cx="471.1" cy="541.3" r="1.75"/><circle cx="471.1" cy="544.3" r="1.75"/><circle cx="471.0" cy="547.3" r="1.75"/><circle cx="470.8" cy="549.6" r="1.75"/><circle cx="470.7" cy="552.6" r="1.75"/><circle cx="470.8" cy="556.1" r="1.75"/><circle cx="470.9" cy="558.1" r="1.75"/><circle cx="470.7" cy="560.6" r="1.75"/><circle cx="471.0" cy="563.0" r="1.75"/><circle cx="471.0" cy="564.5" r="1.75"/><circle cx="471.1" cy="567.1" r="1.75"/><circle cx="471.0" cy="568.8" r="1.75"/><circle cx="471.2" cy="570.4" r="1.75"/><circle cx="471.1" cy="572.8" r="1.75"/><circle cx="470.9" cy="575.3" r="1.75"/><circle cx="471.2" cy="577.6" r="1.75"/><circle cx="470.9" cy="579.1" r="1.75"/><circle cx="471.1" cy="582.6" r="1.75"/><circle cx="471.1" cy="584.8" r="1.75"/><circle cx="471.0" cy="587.8" r="1.75"/><circle cx="496.0" cy="540.8" r="1.75"/><circle cx="496.2" cy="542.5" r="1.75"/><circle cx="496.3" cy="544.8" r="1.75"/><circle cx="496.6" cy="547.0" r="1.75"/><circle cx="496.4" cy="549.4" r="1.75"/><circle cx="496.4" cy="552.8" r="1.75"/><circle cx="496.5" cy="555.5" r="1.75"/><circle cx="496.1" cy="557.7" r="1.75"/><circle cx="496.4" cy="561.1" r="1.75"/><circle cx="496.1" cy="563.8" r="1.75"/><circle cx="496.3" cy="566.8" r="1.75"/><circle cx="496.2" cy="569.5" r="1.75"/><circle cx="496.3" cy="572.9" r="1.75"/><circle cx="496.6" cy="574.9" r="1.75"/><circle cx="496.2" cy="576.9" r="1.75"/><circle cx="496.6" cy="579.3" r="1.75"/><circle cx="496.2" cy="581.1" r="1.75"/><circle cx="496.1" cy="584.2" r="1.75"/><circle cx="496.5" cy="586.5" r="1.75"/><circle cx="470.4" cy="516.9" r="1.75"/><circle cx="470.4" cy="517.8" r="1.75"/><circle cx="470.4" cy="518.9" r="1.75"/><circle cx="470.4" cy="520.1" r="1.75"/><circle cx="470.1" cy="521.2" r="1.75"/><circle cx="470.2" cy="522.2" r="1.75"/><circle cx="470.0" cy="523.0" r="1.75"/><circle cx="470.2" cy="524.5" r="1.75"/><circle cx="470.2" cy="524.8" r="1.75"/><circle cx="483.3" cy="526.5" r="1.75"/><circle cx="483.5" cy="527.7" r="1.75"/><circle cx="483.4" cy="528.6" r="1.75"/><circle cx="483.6" cy="530.1" r="1.75"/><circle cx="483.6" cy="531.3" r="1.75"/><circle cx="483.5" cy="531.8" r="1.75"/></g>
<g fill="#4682b4" opacity="0.75"><circle cx="472.4" cy="592.6" r="0.9"/><circle cx="473.5" cy="592.2" r="0.9"/><circle cx="479.5" cy="592.6" r="0.9"/><circle cx="484.4" cy="592.3" r="0.9"/><circle cx="485.9" cy="592.5" r="0.9"/><circle cx="488.3" cy="592.4" r="0.9"/><circle cx="492.3" cy="592.4" r="0.9"/><circle cx="495.1" cy="592.7" r="0.9"/></g>
<path d="M502.5 590.9 L502.5 540.0 L503.4 538.8 L504.3 538.4 L505.2 536.9 L506.1 537.4 L507.0 536.5 L507.9 536.1 L508.8 535.9 L509.7 537.0 L510.6 538.8 L511.5 540.9 L512.4 539.7 L513.3 536.9 L514.2 533.7 L515.1 533.9 L516.0 533.6 L516.9 532.9 L517.8 534.4 L518.7 535.5 L519.6 536.5 L520.5 537.7 L521.4 537.8 L522.3 537.5 L523.1 590.9 Z" fill="#0000ff"/>
<path d="M503.5 537.8V539.8M504.5 536.0V538.8M506.4 526.4V537.9M508.8 527.8V537.3M509.9 531.0V538.8M512.1 538.0V542.0M514.5 529.9V535.1M515.6 532.2V534.7M516.8 529.1V534.3M518.6 527.1V536.4M519.6 536.1V537.7M522.0 536.1V538.8M503.7 540.8V589.1M521.9 538.8V589.1" stroke="#0000ff" stroke-width="3.50" stroke-linecap="round" fill="none"/>
<g fill="#0000ff"><circle cx="505.5" cy="528.3" r="1.75"/><circle cx="517.0" cy="521.3" r="1.75"/><circle cx="519.6" cy="531.4" r="1.75"/><circle cx="520.2" cy="528.9" r="1.75"/><circle cx="503.6" cy="529.8" r="1.75"/><circle cx="517.8" cy="528.4" r="1.75"/><circle cx="507.6" cy="529.4" r="1.75"/><circle cx="505.5" cy="530.3" r="1.75"/><circle cx="513.7" cy="523.4" r="1.75"/><circle cx="503.3" cy="541.8" r="1.75"/><circle cx="503.3" cy="543.7" r="1.75"/><circle cx="503.4" cy="546.9" r="1.75"/><circle cx="503.3" cy="549.3" r="1.75"/><circle cx="503.3" cy="552.8" r="1.75"/><circle cx="503.3" cy="554.6" r="1.75"/><circle cx="503.4" cy="556.8" r="1.75"/><circle cx="503.7" cy="559.7" r="1.75"/><circle cx="503.5" cy="562.2" r="1.75"/><circle cx="503.2" cy="564.9" r="1.75"/><circle cx="503.3" cy="567.4" r="1.75"/><circle cx="503.5" cy="569.4" r="1.75"/><circle cx="503.3" cy="572.0" r="1.75"/><circle cx="503.2" cy="573.9" r="1.75"/><circle cx="503.4" cy="576.4" r="1.75"/><circle cx="503.2" cy="578.4" r="1.75"/><circle cx="503.1" cy="581.7" r="1.75"/><circle cx="503.6" cy="583.7" r="1.75"/><circle cx="503.6" cy="586.5" r="1.75"/><circle cx="522.3" cy="539.8" r="1.75"/><circle cx="522.2" cy="541.9" r="1.75"/><circle cx="522.0" cy="544.8" r="1.75"/><circle cx="522.4" cy="547.0" r="1.75"/><circle cx="522.3" cy="549.9" r="1.75"/><circle cx="522.1" cy="551.6" r="1.75"/><circle cx="522.0" cy="553.6" r="1.75"/><circle cx="522.3" cy="556.4" r="1.75"/><circle cx="522.3" cy="559.7" r="1.75"/><circle cx="522.2" cy="563.1" r="1.75"/><circle cx="522.1" cy="565.6" r="1.75"/><circle cx="522.5" cy="568.0" r="1.75"/><circle cx="521.9" cy="570.5" r="1.75"/><circle cx="522.1" cy="572.7" r="1.75"/><circle cx="522.2" cy="575.5" r="1.75"/><circle cx="522.5" cy="577.9" r="1.75"/><circle cx="522.0" cy="580.9" r="1.75"/><circle cx="522.4" cy="582.5" r="1.75"/><circle cx="522.3" cy="585.2" r="1.75"/><circle cx="522.0" cy="587.7" r="1.75"/><circle cx="514.2" cy="523.9" r="1.75"/><circle cx="513.7" cy="525.2" r="1.75"/><circle cx="514.2" cy="526.1" r="1.75"/><circle cx="513.8" cy="527.3" r="1.75"/><circle cx="514.3" cy="528.7" r="1.75"/><circle cx="514.1" cy="530.2" r="1.75"/><circle cx="513.8" cy="531.6" r="1.75"/><circle cx="514.0" cy="531.8" r="1.75"/><circle cx="509.2" cy="528.3" r="1.75"/><circle cx="508.8" cy="529.4" r="1.75"/><circle cx="509.1" cy="530.9" r="1.75"/><circle cx="508.7" cy="531.7" r="1.75"/><circle cx="509.0" cy="531.8" r="1.75"/></g>
<g fill="#0000ff" opacity="0.75"><circle cx="506.9" cy="592.2" r="0.9"/><circle cx="508.5" cy="592.5" r="0.9"/><circle cx="512.5" cy="592.6" r="0.9"/><circle cx="515.9" cy="592.5" r="0.9"/><circle cx="520.3" cy="592.5" r="0.9"/></g>
<path d="M527.5 590.9 L527.5 543.5 L528.4 542.6 L529.3 540.9 L530.2 539.9 L531.1 540.2 L532.0 540.4 L532.9 539.8 L533.8 538.9 L534.7 538.3 L535.6 536.3 L536.5 535.5 L537.4 536.9 L538.3 538.4 L539.2 539.8 L540.1 538.4 L541.0 536.5 L541.9 534.0 L542.8 532.9 L543.7 531.0 L544.6 531.1 L545.5 532.7 L545.5 590.9 Z" fill="#4682b4"/>
<path d="M528.5 538.8V543.3M529.7 535.4V541.7M530.8 538.3V541.2M533.1 536.3V541.2M534.8 532.3V538.7M536.5 532.9V536.3M538.2 538.1V539.7M539.7 538.2V539.8M542.2 523.8V534.9M544.1 529.3V531.5M528.7 544.8V589.1M544.3 533.8V589.1" stroke="#4682b4" stroke-width="3.50" stroke-linecap="round" fill="none"/>
<g fill="#4682b4"><circle cx="533.0" cy="529.1" r="1.75"/><circle cx="538.2" cy="530.0" r="1.75"/><circle cx="541.9" cy="525.2" r="1.75"/><circle cx="541.9" cy="530.0" r="1.75"/><circle cx="534.3" cy="532.1" r="1.75"/><circle cx="539.5" cy="532.0" r="1.75"/><circle cx="528.1" cy="545.8" r="1.75"/><circle cx="528.4" cy="547.4" r="1.75"/><circle cx="528.3" cy="550.3" r="1.75"/><circle cx="528.5" cy="552.8" r="1.75"/><circle cx="528.3" cy="554.7" r="1.75"/><circle cx="528.1" cy="556.9" r="1.75"/><circle cx="528.1" cy="560.2" r="1.75"/><circle cx="528.4" cy="562.2" r="1.75"/><circle cx="528.4" cy="564.0" r="1.75"/><circle cx="528.4" cy="565.6" r="1.75"/><circle cx="528.2" cy="569.0" r="1.75"/><circle cx="528.5" cy="571.2" r="1.75"/><circle cx="528.6" cy="574.6" r="1.75"/><circle cx="528.1" cy="577.8" r="1.75"/><circle cx="528.1" cy="579.4" r="1.75"/><circle cx="528.4" cy="582.2" r="1.75"/><circle cx="528.3" cy="584.6" r="1.75"/><circle cx="528.1" cy="587.1" r="1.75"/><circle cx="544.5" cy="534.8" r="1.75"/><circle cx="544.8" cy="536.3" r="1.75"/><circle cx="544.7" cy="539.1" r="1.75"/><circle cx="544.4" cy="540.7" r="1.75"/><circle cx="544.6" cy="544.0" r="1.75"/><circle cx="544.9" cy="546.5" r="1.75"/><circle cx="544.7" cy="548.3" r="1.75"/><circle cx="544.7" cy="550.0" r="1.75"/><circle cx="544.4" cy="552.9" r="1.75"/><circle cx="544.9" cy="556.0" r="1.75"/><circle cx="544.8" cy="559.1" r="1.75"/><circle cx="544.8" cy="562.5" r="1.75"/><circle cx="544.8" cy="565.1" r="1.75"/><circle cx="544.7" cy="568.2" r="1.75"/><circle cx="544.4" cy="571.1" r="1.75"/><circle cx="544.5" cy="573.2" r="1.75"/><circle cx="544.8" cy="576.5" r="1.75"/><circle cx="544.9" cy="578.5" r="1.75"/><circle cx="544.4" cy="580.2" r="1.75"/><circle cx="544.4" cy="582.3" r="1.75"/><circle cx="544.6" cy="585.7" r="1.75"/><circle cx="544.9" cy="588.0" r="1.75"/><circle cx="544.1" cy="521.7" r="1.75"/><circle cx="544.0" cy="522.9" r="1.75"/><circle cx="543.9" cy="524.4" r="1.75"/><circle cx="544.0" cy="525.6" r="1.75"/><circle cx="543.8" cy="526.6" r="1.75"/><circle cx="544.2" cy="527.8" r="1.75"/><circle cx="543.7" cy="528.9" r="1.75"/><circle cx="543.8" cy="530.4" r="1.75"/><circle cx="543.7" cy="532.0" r="1.75"/><circle cx="543.8" cy="533.3" r="1.75"/><circle cx="544.0" cy="533.5" r="1.75"/></g>
<g fill="#4682b4" opacity="0.75"><circle cx="528.0" cy="592.6" r="0.9"/><circle cx="529.5" cy="592.3" r="0.9"/><circle cx="531.2" cy="592.7" r="0.9"/><circle cx="532.3" cy="592.4" r="0.9"/><circle cx="537.3" cy="592.3" r="0.9"/><circle cx="539.0" cy="592.5" r="0.9"/></g>
<path d="M550.8 590.9 L550.8 536.8 L551.7 535.8 L552.6 535.2 L553.5 536.9 L554.4 540.5 L555.3 543.3 L556.2 545.0 L557.1 545.9 L558.0 547.7 L558.9 544.0 L559.8 541.0 L560.7 537.9 L561.6 535.7 L562.5 534.4 L563.4 532.5 L564.3 531.0 L565.2 531.7 L566.1 531.6 L567.0 531.5 L567.9 531.8 L568.4 590.9 Z" fill="#0000ff"/>
<path d="M551.8 531.4V537.1M553.4 535.9V537.8M554.9 532.3V543.8M556.4 540.5V546.1M557.4 540.0V547.5M559.7 539.2V542.6M561.2 533.5V537.9M562.5 532.8V535.2M563.6 526.9V533.0M565.3 520.9V532.4M552.0 537.8V589.1M567.2 532.2V589.1" stroke="#0000ff" stroke-width="3.50" stroke-linecap="round" fill="none"/>
<g fill="#0000ff"><circle cx="560.0" cy="536.2" r="1.75"/><circle cx="565.4" cy="517.1" r="1.75"/><circle cx="552.2" cy="525.1" r="1.75"/><circle cx="565.4" cy="522.4" r="1.75"/><circle cx="558.6" cy="540.1" r="1.75"/><circle cx="560.4" cy="535.9" r="1.75"/><circle cx="565.4" cy="520.1" r="1.75"/><circle cx="551.8" cy="538.8" r="1.75"/><circle cx="551.8" cy="541.4" r="1.75"/><circle cx="551.8" cy="544.6" r="1.75"/><circle cx="551.6" cy="547.4" r="1.75"/><circle cx="551.9" cy="549.5" r="1.75"/><circle cx="551.6" cy="552.0" r="1.75"/><circle cx="551.8" cy="555.1" r="1.75"/><circle cx="551.8" cy="557.0" r="1.75"/><circle cx="551.8" cy="560.1" r="1.75"/><circle cx="551.9" cy="562.9" r="1.75"/><circle cx="551.5" cy="564.5" r="1.75"/><circle cx="551.9" cy="567.0" r="1.75"/><circle cx="551.4" cy="569.5" r="1.75"/><circle cx="551.6" cy="571.8" r="1.75"/><circle cx="551.7" cy="574.1" r="1.75"/><circle cx="551.4" cy="575.7" r="1.75"/><circle cx="551.8" cy="578.3" r="1.75"/><circle cx="551.9" cy="580.4" r="1.75"/><circle cx="551.5" cy="583.8" r="1.75"/><circle cx="551.6" cy="586.0" r="1.75"/><circle cx="551.8" cy="588.6" r="1.75"/><circle cx="567.7" cy="533.2" r="1.75"/><circle cx="567.6" cy="535.1" r="1.75"/><circle cx="567.3" cy="536.6" r="1.75"/><circle cx="567.6" cy="538.4" r="1.75"/><circle cx="567.8" cy="541.2" r="1.75"/><circle cx="567.6" cy="544.0" r="1.75"/><circle cx="567.8" cy="545.5" r="1.75"/><circle cx="567.8" cy="548.0" r="1.75"/><circle cx="567.7" cy="549.6" r="1.75"/><circle cx="567.4" cy="552.0" r="1.75"/><circle cx="567.3" cy="554.3" r="1.75"/><circle cx="567.4" cy="557.0" r="1.75"/><circle cx="567.3" cy="559.9" r="1.75"/><circle cx="567.6" cy="562.8" r="1.75"/><circle cx="567.8" cy="565.7" r="1.75"/><circle cx="567.6" cy="567.8" r="1.75"/><circle cx="567.8" cy="570.1" r="1.75"/><circle cx="567.7" cy="573.2" r="1.75"/><circle cx="567.4" cy="575.9" r="1.75"/><circle cx="567.8" cy="579.3" r="1.75"/><circle cx="567.4" cy="582.7" r="1.75"/><circle cx="567.6" cy="585.8" r="1.75"/><circle cx="567.7" cy="589.0" r="1.75"/></g>
<g fill="#0000ff" opacity="0.75"><circle cx="551.3" cy="592.6" r="0.9"/><circle cx="555.5" cy="592.1" r="0.9"/><circle cx="557.1" cy="592.6" r="0.9"/><circle cx="559.2" cy="592.6" r="0.9"/><circle cx="561.2" cy="592.5" r="0.9"/><circle cx="566.2" cy="592.5" r="0.9"/></g>
<path d="M569.4 590.9 L569.4 532.5 L570.3 532.3 L571.2 532.1 L572.1 531.9 L573.0 532.3 L573.9 533.1 L574.8 533.8 L575.7 534.2 L576.1 590.9 Z" fill="#4682b4"/>
<path d="M570.4 530.9V533.2M572.5 525.4V533.5M574.2 524.9V534.2M570.6 532.8V589.1M574.9 534.8V589.1" stroke="#4682b4" stroke-width="3.50" stroke-linecap="round" fill="none"/>
<g fill="#4682b4"><circle cx="574.0" cy="519.2" r="1.75"/><circle cx="574.0" cy="522.7" r="1.75"/><circle cx="574.8" cy="514.3" r="1.75"/><circle cx="572.0" cy="523.5" r="1.75"/><circle cx="572.5" cy="524.1" r="1.75"/><circle cx="570.3" cy="533.8" r="1.75"/><circle cx="570.4" cy="536.1" r="1.75"/><circle cx="570.1" cy="538.6" r="1.75"/><circle cx="570.2" cy="540.8" r="1.75"/><circle cx="570.6" cy="543.3" r="1.75"/><circle cx="570.4" cy="546.7" r="1.75"/><circle cx="570.0" cy="549.3" r="1.75"/><circle cx="570.5" cy="551.2" r="1.75"/><circle cx="570.5" cy="553.1" r="1.75"/><circle cx="570.3" cy="556.3" r="1.75"/><circle cx="570.4" cy="557.9" r="1.75"/><circle cx="570.5" cy="560.4" r="1.75"/><circle cx="570.0" cy="562.5" r="1.75"/><circle cx="570.4" cy="564.9" r="1.75"/><circle cx="570.5" cy="567.6" r="1.75"/><circle cx="570.2" cy="570.2" r="1.75"/><circle cx="570.2" cy="571.8" r="1.75"/><circle cx="570.1" cy="573.9" r="1.75"/><circle cx="570.0" cy="576.7" r="1.75"/><circle cx="570.5" cy="579.4" r="1.75"/><circle cx="570.1" cy="581.3" r="1.75"/><circle cx="570.5" cy="584.4" r="1.75"/><circle cx="570.4" cy="586.7" r="1.75"/><circle cx="575.5" cy="535.8" r="1.75"/><circle cx="575.4" cy="538.4" r="1.75"/><circle cx="575.1" cy="541.4" r="1.75"/><circle cx="575.2" cy="544.1" r="1.75"/><circle cx="575.3" cy="546.6" r="1.75"/><circle cx="575.0" cy="549.4" r="1.75"/><circle cx="575.0" cy="552.6" r="1.75"/><circle cx="575.4" cy="554.7" r="1.75"/><circle cx="575.2" cy="558.2" r="1.75"/><circle cx="575.0" cy="561.6" r="1.75"/><circle cx="575.1" cy="565.0" r="1.75"/><circle cx="575.4" cy="566.6" r="1.75"/><circle cx="575.4" cy="568.4" r="1.75"/><circle cx="575.0" cy="569.9" r="1.75"/><circle cx="575.0" cy="572.1" r="1.75"/><circle cx="575.1" cy="574.6" r="1.75"/><circle cx="575.2" cy="577.5" r="1.75"/><circle cx="575.4" cy="581.0" r="1.75"/><circle cx="575.5" cy="582.8" r="1.75"/><circle cx="575.3" cy="586.1" r="1.75"/><circle cx="575.0" cy="588.7" r="1.75"/></g>
<g fill="#4682b4" opacity="0.75"><circle cx="569.9" cy="592.2" r="0.9"/><circle cx="571.7" cy="592.6" r="0.9"/></g>
<path d="M578.1 590.9 L578.1 536.2 L579.0 535.4 L579.9 535.5 L580.8 536.2 L581.7 537.7 L582.6 538.8 L583.5 538.6 L584.4 538.1 L585.3 538.0 L586.2 537.0 L587.1 538.9 L587.7 590.9 Z" fill="#4682b4"/>
<path d="M579.1 532.0V536.6M581.1 534.7V537.8M582.8 535.9V540.0M584.9 537.2V539.0M586.6 536.4V539.1M579.3 536.8V589.1M586.5 540.8V589.1" stroke="#4682b4" stroke-width="3.50" stroke-linecap="round" fill="none"/>
<g fill="#4682b4"><circle cx="579.8" cy="504.4" r="1.75"/><circle cx="579.8" cy="518.3" r="1.75"/><circle cx="579.8" cy="523.5" r="1.75"/><circle cx="586.0" cy="509.3" r="1.75"/><circle cx="581.1" cy="533.5" r="1.75"/><circle cx="585.9" cy="528.1" r="1.75"/><circle cx="584.7" cy="533.0" r="1.75"/><circle cx="579.3" cy="537.8" r="1.75"/><circle cx="578.9" cy="541.1" r="1.75"/><circle cx="579.0" cy="542.8" r="1.75"/><circle cx="578.9" cy="545.3" r="1.75"/><circle cx="578.7" cy="547.4" r="1.75"/><circle cx="579.2" cy="550.2" r="1.75"/><circle cx="578.7" cy="553.3" r="1.75"/><circle cx="578.8" cy="555.4" r="1.75"/><circle cx="578.7" cy="558.6" r="1.75"/><circle cx="578.8" cy="560.3" r="1.75"/><circle cx="578.8" cy="562.3" r="1.75"/><circle cx="579.0" cy="565.1" r="1.75"/><circle cx="578.8" cy="568.4" r="1.75"/><circle cx="578.7" cy="571.9" r="1.75"/><circle cx="578.8" cy="574.6" r="1.75"/><circle cx="579.0" cy="577.4" r="1.75"/><circle cx="579.0" cy="579.9" r="1.75"/><circle cx="579.1" cy="581.8" r="1.75"/><circle cx="578.8" cy="585.0" r="1.75"/><circle cx="578.8" cy="587.9" r="1.75"/><circle cx="586.9" cy="541.8" r="1.75"/><circle cx="586.5" cy="544.6" r="1.75"/><circle cx="587.1" cy="547.0" r="1.75"/><circle cx="586.8" cy="548.9" r="1.75"/><circle cx="586.7" cy="550.5" r="1.75"/><circle cx="586.6" cy="553.7" r="1.75"/><circle cx="587.0" cy="556.8" r="1.75"/><circle cx="586.7" cy="560.0" r="1.75"/><circle cx="586.8" cy="563.4" r="1.75"/><circle cx="587.1" cy="565.8" r="1.75"/><circle cx="586.9" cy="568.4" r="1.75"/><circle cx="586.5" cy="570.1" r="1.75"/><circle cx="586.6" cy="572.1" r="1.75"/><circle cx="586.7" cy="575.3" r="1.75"/><circle cx="586.9" cy="578.7" r="1.75"/><circle cx="587.0" cy="580.6" r="1.75"/><circle cx="586.9" cy="582.7" r="1.75"/><circle cx="587.0" cy="584.4" r="1.75"/><circle cx="586.9" cy="587.4" r="1.75"/><circle cx="585.9" cy="519.2" r="1.75"/><circle cx="585.9" cy="520.1" r="1.75"/><circle cx="586.0" cy="521.5" r="1.75"/><circle cx="585.8" cy="522.4" r="1.75"/><circle cx="585.7" cy="523.6" r="1.75"/><circle cx="586.0" cy="524.4" r="1.75"/><circle cx="586.2" cy="525.3" r="1.75"/><circle cx="586.1" cy="526.2" r="1.75"/><circle cx="585.9" cy="527.7" r="1.75"/><circle cx="586.3" cy="528.9" r="1.75"/><circle cx="585.9" cy="530.2" r="1.75"/><circle cx="585.9" cy="531.8" r="1.75"/><circle cx="585.9" cy="533.3" r="1.75"/><circle cx="586.0" cy="534.0" r="1.75"/></g>
<g fill="#4682b4" opacity="0.75"><circle cx="578.6" cy="592.5" r="0.9"/><circle cx="586.3" cy="592.5" r="0.9"/></g>
<path d="M588.7 590.9 L588.7 536.7 L589.6 535.0 L590.5 532.8 L591.4 534.3 L592.3 535.1 L593.2 536.4 L594.1 537.1 L595.0 537.2 L595.9 537.3 L596.8 537.3 L597.7 537.6 L598.6 537.3 L599.5 537.8 L600.4 538.1 L601.3 538.5 L602.2 539.6 L603.1 539.9 L604.0 539.3 L604.9 539.7 L605.8 540.5 L606.2 590.9 Z" fill="#0000ff"/>
<path d="M589.7 526.2V535.7M592.1 524.6V536.1M593.5 535.9V537.7M594.8 534.0V538.2M595.8 535.6V538.2M597.4 532.2V538.2M598.6 536.5V538.5M600.0 537.4V539.3M601.1 537.9V539.8M603.3 530.6V540.5M604.3 532.7V540.7M589.9 537.8V589.1M605.0 540.8V589.1" stroke="#0000ff" stroke-width="3.50" stroke-linecap="round" fill="none"/>
<g fill="#0000ff"><circle cx="604.5" cy="522.7" r="1.75"/><circle cx="599.8" cy="530.5" r="1.75"/><circle cx="591.0" cy="525.4" r="1.75"/><circle cx="593.1" cy="523.2" r="1.75"/><circle cx="590.4" cy="529.5" r="1.75"/><circle cx="592.0" cy="525.1" r="1.75"/><circle cx="593.3" cy="530.6" r="1.75"/><circle cx="589.3" cy="538.8" r="1.75"/><circle cx="589.4" cy="541.5" r="1.75"/><circle cx="589.8" cy="544.3" r="1.75"/><circle cx="589.4" cy="547.5" r="1.75"/><circle cx="589.5" cy="550.1" r="1.75"/><circle cx="589.4" cy="552.5" r="1.75"/><circle cx="589.7" cy="555.1" r="1.75"/><circle cx="589.7" cy="557.6" r="1.75"/><circle cx="589.6" cy="559.1" r="1.75"/><circle cx="589.4" cy="562.4" r="1.75"/><circle cx="589.6" cy="564.3" r="1.75"/><circle cx="589.5" cy="567.0" r="1.75"/><circle cx="589.6" cy="569.4" r="1.75"/><circle cx="589.3" cy="572.3" r="1.75"/><circle cx="589.4" cy="574.8" r="1.75"/><circle cx="589.8" cy="577.7" r="1.75"/><circle cx="589.7" cy="579.7" r="1.75"/><circle cx="589.6" cy="581.9" r="1.75"/><circle cx="589.3" cy="584.0" r="1.75"/><circle cx="589.6" cy="586.9" r="1.75"/><circle cx="605.6" cy="541.8" r="1.75"/><circle cx="605.4" cy="543.6" r="1.75"/><circle cx="605.3" cy="547.0" r="1.75"/><circle cx="605.5" cy="550.2" r="1.75"/><circle cx="605.1" cy="552.4" r="1.75"/><circle cx="605.3" cy="555.5" r="1.75"/><circle cx="605.3" cy="557.7" r="1.75"/><circle cx="605.6" cy="560.7" r="1.75"/><circle cx="605.5" cy="564.0" r="1.75"/><circle cx="605.3" cy="565.8" r="1.75"/><circle cx="605.2" cy="567.3" r="1.75"/><circle cx="605.1" cy="569.5" r="1.75"/><circle cx="605.1" cy="572.0" r="1.75"/><circle cx="605.3" cy="574.8" r="1.75"/><circle cx="605.4" cy="576.8" r="1.75"/><circle cx="605.1" cy="578.9" r="1.75"/><circle cx="605.5" cy="582.1" r="1.75"/><circle cx="605.2" cy="585.4" r="1.75"/><circle cx="605.5" cy="587.4" r="1.75"/><circle cx="590.8" cy="524.4" r="1.75"/><circle cx="590.5" cy="525.7" r="1.75"/><circle cx="590.4" cy="526.6" r="1.75"/><circle cx="590.8" cy="527.7" r="1.75"/><circle cx="590.5" cy="528.0" r="1.75"/></g>
<g fill="#0000ff" opacity="0.75"><circle cx="594.3" cy="592.2" r="0.9"/><circle cx="596.1" cy="592.2" r="0.9"/><circle cx="600.8" cy="592.3" r="0.9"/><circle cx="603.0" cy="592.6" r="0.9"/></g>
<path d="M607.2 590.9 L607.2 536.4 L608.1 535.6 L609.0 535.5 L609.9 535.0 L610.8 535.1 L611.7 534.3 L612.6 534.1 L613.5 534.0 L614.4 534.6 L615.3 534.5 L616.2 534.6 L617.1 538.3 L618.0 540.8 L618.9 535.5 L619.8 529.6 L620.7 529.2 L621.6 532.1 L622.5 535.1 L622.7 590.9 Z" fill="#4682b4"/>
<path d="M608.2 534.6V537.0M609.2 530.6V536.2M611.2 534.2V535.7M613.4 524.6V535.2M614.9 530.8V535.2M616.8 526.6V538.1M618.8 533.0V537.4M620.9 526.4V530.6M608.4 537.8V589.1M621.5 537.8V589.1" stroke="#4682b4" stroke-width="3.50" stroke-linecap="round" fill="none"/>
<g fill="#4682b4"><circle cx="608.8" cy="501.1" r="1.75"/><circle cx="613.0" cy="491.4" r="1.75"/><circle cx="613.0" cy="518.0" r="1.75"/><circle cx="615.6" cy="528.6" r="1.75"/><circle cx="613.5" cy="530.6" r="1.75"/><circle cx="618.3" cy="528.6" r="1.75"/><circle cx="619.6" cy="527.4" r="1.75"/><circle cx="618.3" cy="530.1" r="1.75"/><circle cx="608.3" cy="538.8" r="1.75"/><circle cx="608.0" cy="542.2" r="1.75"/><circle cx="608.2" cy="545.0" r="1.75"/><circle cx="608.0" cy="546.7" r="1.75"/><circle cx="607.8" cy="549.0" r="1.75"/><circle cx="607.9" cy="551.8" r="1.75"/><circle cx="607.9" cy="554.5" r="1.75"/><circle cx="607.8" cy="556.2" r="1.75"/><circle cx="608.0" cy="558.9" r="1.75"/><circle cx="608.3" cy="560.8" r="1.75"/><circle cx="607.9" cy="563.7" r="1.75"/><circle cx="608.2" cy="566.5" r="1.75"/><circle cx="607.9" cy="569.0" r="1.75"/><circle cx="607.8" cy="571.8" r="1.75"/><circle cx="607.9" cy="573.5" r="1.75"/><circle cx="608.0" cy="575.0" r="1.75"/><circle cx="608.3" cy="577.6" r="1.75"/><circle cx="608.0" cy="579.9" r="1.75"/><circle cx="608.3" cy="583.1" r="1.75"/><circle cx="607.9" cy="585.7" r="1.75"/><circle cx="607.8" cy="587.4" r="1.75"/><circle cx="621.7" cy="538.8" r="1.75"/><circle cx="621.6" cy="540.7" r="1.75"/><circle cx="621.8" cy="542.6" r="1.75"/><circle cx="622.1" cy="545.5" r="1.75"/><circle cx="622.1" cy="548.1" r="1.75"/><circle cx="621.9" cy="550.5" r="1.75"/><circle cx="621.8" cy="552.0" r="1.75"/><circle cx="621.6" cy="553.5" r="1.75"/><circle cx="621.6" cy="556.7" r="1.75"/><circle cx="621.9" cy="558.8" r="1.75"/><circle cx="621.6" cy="561.3" r="1.75"/><circle cx="621.9" cy="563.0" r="1.75"/><circle cx="621.6" cy="565.3" r="1.75"/><circle cx="621.8" cy="567.8" r="1.75"/><circle cx="621.6" cy="571.3" r="1.75"/><circle cx="621.6" cy="573.2" r="1.75"/><circle cx="622.1" cy="575.8" r="1.75"/><circle cx="621.6" cy="578.8" r="1.75"/><circle cx="621.8" cy="581.4" r="1.75"/><circle cx="622.0" cy="584.8" r="1.75"/><circle cx="621.7" cy="587.6" r="1.75"/><circle cx="608.8" cy="504.7" r="1.75"/><circle cx="608.8" cy="505.8" r="1.75"/><circle cx="608.8" cy="506.7" r="1.75"/><circle cx="608.7" cy="508.3" r="1.75"/><circle cx="609.0" cy="509.5" r="1.75"/><circle cx="608.9" cy="510.9" r="1.75"/><circle cx="608.9" cy="512.0" r="1.75"/><circle cx="608.9" cy="513.0" r="1.75"/><circle cx="608.8" cy="513.0" r="1.75"/><circle cx="620.0" cy="509.9" r="1.75"/><circle cx="620.1" cy="510.8" r="1.75"/><circle cx="619.9" cy="512.2" r="1.75"/><circle cx="620.0" cy="513.7" r="1.75"/><circle cx="620.5" cy="515.3" r="1.75"/><circle cx="620.4" cy="516.6" r="1.75"/><circle cx="620.2" cy="518.1" r="1.75"/><circle cx="619.9" cy="519.6" r="1.75"/><circle cx="620.2" cy="520.0" r="1.75"/></g>
<g fill="#4682b4" opacity="0.75"><circle cx="609.8" cy="592.1" r="0.9"/><circle cx="613.5" cy="592.4" r="0.9"/><circle cx="615.9" cy="592.6" r="0.9"/><circle cx="619.9" cy="592.4" r="0.9"/><circle cx="620.9" cy="592.3" r="0.9"/></g>
<path d="M623.7 590.9 L623.7 538.5 L624.6 536.3 L625.5 534.6 L626.4 538.2 L627.3 541.7 L628.2 541.0 L629.1 539.3 L630.0 538.0 L630.9 536.2 L631.8 536.8 L632.7 536.4 L633.6 537.3 L634.5 537.6 L635.4 538.6 L635.5 590.9 Z" fill="#0000ff"/>
<path d="M624.7 532.4V537.0M627.2 530.4V541.9M628.6 529.8V541.3M631.0 532.8V537.3M632.9 535.5V537.9M624.9 539.8V589.1M634.3 539.8V589.1" stroke="#0000ff" stroke-width="3.50" stroke-linecap="round" fill="none"/>
<g fill="#0000ff"><circle cx="625.5" cy="523.3" r="1.75"/><circle cx="625.5" cy="526.0" r="1.75"/><circle cx="631.3" cy="522.0" r="1.75"/><circle cx="635.6" cy="524.9" r="1.75"/><circle cx="629.5" cy="524.7" r="1.75"/><circle cx="630.8" cy="527.2" r="1.75"/><circle cx="626.0" cy="530.9" r="1.75"/><circle cx="626.5" cy="526.6" r="1.75"/><circle cx="624.8" cy="540.8" r="1.75"/><circle cx="624.8" cy="543.1" r="1.75"/><circle cx="624.7" cy="545.8" r="1.75"/><circle cx="624.5" cy="547.8" r="1.75"/><circle cx="624.9" cy="551.1" r="1.75"/><circle cx="624.5" cy="554.0" r="1.75"/><circle cx="624.6" cy="556.5" r="1.75"/><circle cx="624.7" cy="558.0" r="1.75"/><circle cx="624.7" cy="560.6" r="1.75"/><circle cx="624.7" cy="564.1" r="1.75"/><circle cx="624.4" cy="567.3" r="1.75"/><circle cx="624.6" cy="570.4" r="1.75"/><circle cx="624.4" cy="572.9" r="1.75"/><circle cx="624.7" cy="574.6" r="1.75"/><circle cx="624.6" cy="576.1" r="1.75"/><circle cx="624.3" cy="578.5" r="1.75"/><circle cx="624.6" cy="581.9" r="1.75"/><circle cx="624.8" cy="584.4" r="1.75"/><circle cx="624.6" cy="587.4" r="1.75"/><circle cx="634.9" cy="540.8" r="1.75"/><circle cx="634.5" cy="542.3" r="1.75"/><circle cx="634.9" cy="544.8" r="1.75"/><circle cx="634.5" cy="546.6" r="1.75"/><circle cx="634.5" cy="549.6" r="1.75"/><circle cx="634.3" cy="553.0" r="1.75"/><circle cx="634.5" cy="555.0" r="1.75"/><circle cx="634.4" cy="558.2" r="1.75"/><circle cx="634.9" cy="561.0" r="1.75"/><circle cx="634.8" cy="564.5" r="1.75"/><circle cx="634.6" cy="566.1" r="1.75"/><circle cx="634.4" cy="568.0" r="1.75"/><circle cx="634.8" cy="570.0" r="1.75"/><circle cx="634.4" cy="572.6" r="1.75"/><circle cx="634.4" cy="574.7" r="1.75"/><circle cx="634.8" cy="578.1" r="1.75"/><circle cx="634.9" cy="580.5" r="1.75"/><circle cx="634.5" cy="584.0" r="1.75"/><circle cx="634.5" cy="586.0" r="1.75"/><circle cx="634.7" cy="588.7" r="1.75"/></g>
<g fill="#0000ff" opacity="0.75"><circle cx="625.9" cy="592.5" r="0.9"/><circle cx="628.3" cy="592.4" r="0.9"/></g>
<path d="M637.1 590.9 L637.1 537.3 L638.0 536.5 L638.9 535.9 L639.8 536.5 L640.7 535.4 L641.6 536.0 L642.5 535.8 L643.4 535.3 L644.3 535.3 L645.2 534.6 L646.1 534.6 L647.0 535.0 L647.9 535.2 L648.8 535.6 L649.7 536.8 L650.3 590.9 Z" fill="#4682b4"/>
<path d="M638.1 533.7V537.6M639.2 532.4V537.2M640.5 534.2V536.9M642.8 530.9V536.3M644.9 527.3V535.6M646.5 531.7V535.6M648.1 533.3V536.6M638.3 537.8V589.1M649.1 537.8V589.1" stroke="#4682b4" stroke-width="3.50" stroke-linecap="round" fill="none"/>
<g fill="#4682b4"><circle cx="643.5" cy="523.9" r="1.75"/><circle cx="648.0" cy="529.0" r="1.75"/><circle cx="640.5" cy="532.5" r="1.75"/><circle cx="646.8" cy="518.2" r="1.75"/><circle cx="646.2" cy="527.2" r="1.75"/><circle cx="637.8" cy="538.8" r="1.75"/><circle cx="637.7" cy="540.5" r="1.75"/><circle cx="638.1" cy="542.9" r="1.75"/><circle cx="637.9" cy="545.2" r="1.75"/><circle cx="638.1" cy="547.7" r="1.75"/><circle cx="637.9" cy="549.3" r="1.75"/><circle cx="637.8" cy="552.3" r="1.75"/><circle cx="637.7" cy="554.6" r="1.75"/><circle cx="638.2" cy="556.1" r="1.75"/><circle cx="637.9" cy="557.6" r="1.75"/><circle cx="638.1" cy="560.2" r="1.75"/><circle cx="638.3" cy="562.7" r="1.75"/><circle cx="637.7" cy="564.3" r="1.75"/><circle cx="638.2" cy="567.6" r="1.75"/><circle cx="638.0" cy="570.4" r="1.75"/><circle cx="637.8" cy="573.0" r="1.75"/><circle cx="637.7" cy="575.7" r="1.75"/><circle cx="637.7" cy="578.6" r="1.75"/><circle cx="637.8" cy="580.3" r="1.75"/><circle cx="637.7" cy="582.5" r="1.75"/><circle cx="637.7" cy="585.6" r="1.75"/><circle cx="638.0" cy="588.6" r="1.75"/><circle cx="649.6" cy="538.8" r="1.75"/><circle cx="649.5" cy="540.4" r="1.75"/><circle cx="649.6" cy="543.0" r="1.75"/><circle cx="649.5" cy="545.2" r="1.75"/><circle cx="649.4" cy="548.2" r="1.75"/><circle cx="649.7" cy="551.0" r="1.75"/><circle cx="649.5" cy="553.3" r="1.75"/><circle cx="649.6" cy="555.7" r="1.75"/><circle cx="649.3" cy="557.8" r="1.75"/><circle cx="649.5" cy="560.1" r="1.75"/><circle cx="649.7" cy="561.9" r="1.75"/><circle cx="649.6" cy="564.4" r="1.75"/><circle cx="649.2" cy="566.7" r="1.75"/><circle cx="649.5" cy="569.0" r="1.75"/><circle cx="649.7" cy="570.6" r="1.75"/><circle cx="649.4" cy="573.3" r="1.75"/><circle cx="649.3" cy="574.9" r="1.75"/><circle cx="649.5" cy="577.1" r="1.75"/><circle cx="649.4" cy="578.9" r="1.75"/><circle cx="649.5" cy="580.9" r="1.75"/><circle cx="649.4" cy="583.8" r="1.75"/><circle cx="649.5" cy="586.8" r="1.75"/><circle cx="649.5" cy="588.5" r="1.75"/></g>
<g fill="#4682b4" opacity="0.75"><circle cx="640.0" cy="592.6" r="0.9"/><circle cx="645.2" cy="592.2" r="0.9"/><circle cx="648.1" cy="592.7" r="0.9"/><circle cx="649.3" cy="592.4" r="0.9"/></g>
<path d="M653.3 590.9 L653.3 540.5 L654.2 540.1 L655.1 538.9 L656.0 538.6 L656.9 537.0 L657.8 535.8 L658.7 534.2 L659.6 537.6 L660.5 541.3 L661.1 590.9 Z" fill="#0000ff"/>
<path d="M654.3 538.8V540.6M655.2 538.2V540.2M656.6 536.7V538.8M658.2 532.9V536.2M654.5 540.8V589.1M659.9 545.8V589.1" stroke="#0000ff" stroke-width="3.50" stroke-linecap="round" fill="none"/>
<g fill="#0000ff"><circle cx="658.8" cy="502.4" r="1.75"/><circle cx="659.9" cy="527.1" r="1.75"/><circle cx="658.0" cy="531.4" r="1.75"/><circle cx="659.4" cy="527.0" r="1.75"/><circle cx="654.4" cy="541.8" r="1.75"/><circle cx="654.0" cy="545.1" r="1.75"/><circle cx="654.4" cy="548.1" r="1.75"/><circle cx="654.4" cy="550.8" r="1.75"/><circle cx="654.0" cy="553.8" r="1.75"/><circle cx="654.5" cy="555.9" r="1.75"/><circle cx="653.9" cy="558.9" r="1.75"/><circle cx="654.2" cy="561.6" r="1.75"/><circle cx="654.0" cy="563.8" r="1.75"/><circle cx="654.2" cy="567.2" r="1.75"/><circle cx="653.9" cy="569.2" r="1.75"/><circle cx="654.2" cy="571.5" r="1.75"/><circle cx="654.0" cy="573.7" r="1.75"/><circle cx="654.2" cy="577.1" r="1.75"/><circle cx="654.2" cy="580.3" r="1.75"/><circle cx="654.0" cy="582.7" r="1.75"/><circle cx="654.0" cy="586.1" r="1.75"/><circle cx="654.0" cy="589.0" r="1.75"/><circle cx="660.5" cy="546.8" r="1.75"/><circle cx="660.2" cy="549.3" r="1.75"/><circle cx="660.3" cy="550.8" r="1.75"/><circle cx="659.9" cy="553.0" r="1.75"/><circle cx="660.1" cy="556.5" r="1.75"/><circle cx="659.9" cy="559.9" r="1.75"/><circle cx="660.4" cy="562.1" r="1.75"/><circle cx="660.3" cy="565.0" r="1.75"/><circle cx="660.0" cy="567.4" r="1.75"/><circle cx="660.4" cy="570.6" r="1.75"/><circle cx="660.3" cy="573.0" r="1.75"/><circle cx="660.2" cy="576.2" r="1.75"/><circle cx="660.2" cy="578.6" r="1.75"/><circle cx="660.4" cy="581.6" r="1.75"/><circle cx="660.4" cy="583.7" r="1.75"/><circle cx="660.3" cy="586.0" r="1.75"/><circle cx="660.5" cy="588.3" r="1.75"/><circle cx="659.0" cy="509.9" r="1.75"/><circle cx="658.7" cy="511.0" r="1.75"/><circle cx="658.9" cy="512.2" r="1.75"/><circle cx="658.8" cy="513.0" r="1.75"/><circle cx="658.5" cy="514.5" r="1.75"/><circle cx="658.8" cy="516.0" r="1.75"/><circle cx="658.9" cy="517.6" r="1.75"/><circle cx="659.0" cy="519.0" r="1.75"/><circle cx="658.6" cy="520.1" r="1.75"/><circle cx="659.0" cy="521.6" r="1.75"/><circle cx="658.6" cy="523.0" r="1.75"/><circle cx="658.8" cy="524.2" r="1.75"/><circle cx="658.8" cy="525.3" r="1.75"/><circle cx="659.1" cy="526.5" r="1.75"/><circle cx="658.8" cy="527.0" r="1.75"/></g>
<g fill="#0000ff" opacity="0.75"><circle cx="656.1" cy="592.6" r="0.9"/></g>
<path d="M663.5 590.9 L663.5 547.9 L664.4 546.7 L665.3 546.2 L666.2 544.3 L667.1 540.4 L668.0 536.7 L668.9 535.1 L669.8 534.0 L670.7 534.9 L671.6 534.9 L672.2 590.9 Z" fill="#4682b4"/>
<path d="M664.5 542.1V547.8M666.7 532.7V543.0M668.2 525.5V537.0M669.8 528.8V535.5M664.7 548.8V589.1M671.0 535.8V589.1" stroke="#4682b4" stroke-width="3.50" stroke-linecap="round" fill="none"/>
<g fill="#4682b4"><circle cx="666.9" cy="535.3" r="1.75"/><circle cx="666.8" cy="532.6" r="1.75"/><circle cx="664.9" cy="532.2" r="1.75"/><circle cx="664.3" cy="549.8" r="1.75"/><circle cx="664.5" cy="552.5" r="1.75"/><circle cx="664.1" cy="555.6" r="1.75"/><circle cx="664.4" cy="557.8" r="1.75"/><circle cx="664.5" cy="559.8" r="1.75"/><circle cx="664.3" cy="563.0" r="1.75"/><circle cx="664.3" cy="565.4" r="1.75"/><circle cx="664.7" cy="567.2" r="1.75"/><circle cx="664.3" cy="569.4" r="1.75"/><circle cx="664.3" cy="571.3" r="1.75"/><circle cx="664.5" cy="573.5" r="1.75"/><circle cx="664.4" cy="576.4" r="1.75"/><circle cx="664.2" cy="579.4" r="1.75"/><circle cx="664.6" cy="581.7" r="1.75"/><circle cx="664.3" cy="584.9" r="1.75"/><circle cx="664.3" cy="587.5" r="1.75"/><circle cx="671.6" cy="536.8" r="1.75"/><circle cx="671.6" cy="538.3" r="1.75"/><circle cx="671.3" cy="541.0" r="1.75"/><circle cx="671.6" cy="544.3" r="1.75"/><circle cx="671.0" cy="547.0" r="1.75"/><circle cx="671.3" cy="549.8" r="1.75"/><circle cx="671.5" cy="552.4" r="1.75"/><circle cx="671.5" cy="554.2" r="1.75"/><circle cx="671.2" cy="556.3" r="1.75"/><circle cx="671.1" cy="557.9" r="1.75"/><circle cx="671.4" cy="559.9" r="1.75"/><circle cx="671.1" cy="563.3" r="1.75"/><circle cx="671.3" cy="565.4" r="1.75"/><circle cx="671.2" cy="568.1" r="1.75"/><circle cx="671.1" cy="571.0" r="1.75"/><circle cx="671.4" cy="572.6" r="1.75"/><circle cx="671.1" cy="575.5" r="1.75"/><circle cx="671.4" cy="577.1" r="1.75"/><circle cx="671.6" cy="578.7" r="1.75"/><circle cx="671.1" cy="581.6" r="1.75"/><circle cx="671.1" cy="583.9" r="1.75"/><circle cx="671.2" cy="585.6" r="1.75"/><circle cx="671.6" cy="588.9" r="1.75"/></g>
<g fill="#4682b4" opacity="0.75"><circle cx="670.5" cy="592.5" r="0.9"/></g>
<line x1="45" y1="498.2" x2="672.5" y2="498.2" stroke="#8fb2dc" stroke-width="1.1" stroke-dasharray="2.8 1.9"/>
<line x1="45" y1="477.6" x2="672.5" y2="477.6" stroke="#dfe3e3" stroke-width="1.1"/>
<line x1="45" y1="477.6" x2="672.5" y2="477.6" stroke="#ff4848" stroke-width="1.3" stroke-dasharray="2.8 1.9"/>
<text x="449.0" y="372.9" font-size="11.72" text-anchor="start" fill="#1a1a1a" stroke="#1a1a1a" stroke-width="0.22" font-style="italic">ARMS2/HTRA1/HTRA1-AS1</text>
<text x="5.6" y="653.2" font-size="12.00" text-anchor="start" fill="#000" stroke="#000" stroke-width="0.22" font-weight="bold">c</text>
<text x="5.6" y="680.8" font-size="6.40" text-anchor="start" fill="#1a1a1a" stroke="#1a1a1a" stroke-width="0.22">ref SNPs</text>
<line x1="42.8" y1="692.6" x2="42.8" y2="857.5" stroke="#c8c8c8" stroke-width="1.8"/>
<line x1="38.2" y1="692.6" x2="42.6" y2="692.6" stroke="#acacac" stroke-width="1.2"/>
<line x1="38.2" y1="852.6" x2="42.6" y2="852.6" stroke="#acacac" stroke-width="1.2"/>
<text x="35.8" y="855.2" font-size="8.60" text-anchor="end" fill="#1a1a1a" stroke="#1a1a1a" stroke-width="0.22">0</text>
<line x1="38.2" y1="831.9" x2="42.6" y2="831.9" stroke="#acacac" stroke-width="1.2"/>
<text x="35.8" y="834.5" font-size="8.60" text-anchor="end" fill="#1a1a1a" stroke="#1a1a1a" stroke-width="0.22">2</text>
<line x1="38.2" y1="811.1" x2="42.6" y2="811.1" stroke="#acacac" stroke-width="1.2"/>
<text x="35.8" y="813.7" font-size="8.60" text-anchor="end" fill="#1a1a1a" stroke="#1a1a1a" stroke-width="0.22">4</text>
<line x1="38.2" y1="790.4" x2="42.6" y2="790.4" stroke="#acacac" stroke-width="1.2"/>
<text x="35.8" y="793.0" font-size="8.60" text-anchor="end" fill="#1a1a1a" stroke="#1a1a1a" stroke-width="0.22">6</text>
<line x1="38.2" y1="769.6" x2="42.6" y2="769.6" stroke="#acacac" stroke-width="1.2"/>
<text x="35.8" y="772.2" font-size="8.60" text-anchor="end" fill="#1a1a1a" stroke="#1a1a1a" stroke-width="0.22">8</text>
<line x1="38.2" y1="748.9" x2="42.6" y2="748.9" stroke="#acacac" stroke-width="1.2"/>
<text x="35.8" y="751.5" font-size="8.60" text-anchor="end" fill="#1a1a1a" stroke="#1a1a1a" stroke-width="0.22">10</text>
<line x1="38.2" y1="728.2" x2="42.6" y2="728.2" stroke="#acacac" stroke-width="1.2"/>
<text x="35.8" y="730.8" font-size="8.60" text-anchor="end" fill="#1a1a1a" stroke="#1a1a1a" stroke-width="0.22">12</text>
<line x1="38.2" y1="707.4" x2="42.6" y2="707.4" stroke="#acacac" stroke-width="1.2"/>
<text x="35.8" y="710.0" font-size="8.60" text-anchor="end" fill="#1a1a1a" stroke="#1a1a1a" stroke-width="0.22">14</text>
<line x1="38.2" y1="852.9" x2="524.5" y2="852.9" stroke="#b0b0b0" stroke-width="2"/>
<line x1="168.4" y1="852.9" x2="168.4" y2="857.6" stroke="#9a9a9a" stroke-width="1.1"/>
<line x1="300.6" y1="852.9" x2="300.6" y2="857.6" stroke="#9a9a9a" stroke-width="1.1"/>
<line x1="432.0" y1="852.9" x2="432.0" y2="857.6" stroke="#9a9a9a" stroke-width="1.1"/>
<line x1="524.4" y1="852.9" x2="524.4" y2="857.6" stroke="#9a9a9a" stroke-width="1.1"/>
<text transform="translate(12.4,781.4) rotate(-90)" font-size="11.5" text-anchor="middle" fill="#222">-log10 (<tspan font-style="italic">P-value</tspan>)</text>
<rect x="149.9" y="677.2" width="2" height="7.2" fill="#e4572e"/>
<rect x="210.0" y="677.2" width="2" height="7.2" fill="#ec7f35"/>
<rect x="217.0" y="677.2" width="2" height="7.2" fill="#ec7f35"/>
<rect x="229.2" y="677.2" width="2" height="7.2" fill="#e23a2c"/>
<rect x="258.1" y="677.2" width="2" height="7.2" fill="#ec7f35"/>
<rect x="317.2" y="677.2" width="2" height="7.2" fill="#e23a2c"/>
<g fill="#828282"><circle cx="47.7" cy="843.7" r="2.65"/><circle cx="50.8" cy="840.7" r="2.65"/><circle cx="55.2" cy="842.1" r="2.65"/><circle cx="58.7" cy="801.0" r="2.65"/><circle cx="63.4" cy="839.3" r="2.65"/><circle cx="66.6" cy="837.6" r="2.65"/><circle cx="66.2" cy="845.6" r="2.65"/><circle cx="71.8" cy="839.5" r="2.65"/><circle cx="84.6" cy="846.3" r="2.65"/><circle cx="86.7" cy="850.0" r="2.65"/><circle cx="94.1" cy="850.9" r="2.65"/><circle cx="106.5" cy="846.3" r="2.65"/><circle cx="111.2" cy="844.8" r="2.65"/><circle cx="117.4" cy="838.0" r="2.65"/><circle cx="131.0" cy="838.1" r="2.65"/><circle cx="147.3" cy="838.1" r="2.65"/><circle cx="152.9" cy="851.1" r="2.65"/><circle cx="170.4" cy="830.6" r="2.65"/><circle cx="181.8" cy="837.1" r="2.65"/><circle cx="188.8" cy="828.0" r="2.65"/><circle cx="206.4" cy="824.8" r="2.65"/><circle cx="211.3" cy="824.1" r="2.65"/><circle cx="208.5" cy="837.1" r="2.65"/><circle cx="209.0" cy="845.3" r="2.65"/><circle cx="221.2" cy="837.1" r="2.65"/><circle cx="225.6" cy="837.4" r="2.65"/><circle cx="221.8" cy="836.7" r="2.65"/><circle cx="226.1" cy="837.6" r="2.65"/><circle cx="233.1" cy="836.2" r="2.65"/><circle cx="241.9" cy="837.4" r="2.65"/><circle cx="252.4" cy="836.7" r="2.65"/><circle cx="258.5" cy="835.7" r="2.65"/><circle cx="258.5" cy="848.5" r="2.65"/><circle cx="265.9" cy="825.2" r="2.65"/><circle cx="269.4" cy="826.6" r="2.65"/><circle cx="298.0" cy="848.5" r="2.65"/><circle cx="302.0" cy="849.0" r="2.65"/><circle cx="300.6" cy="839.7" r="2.65"/><circle cx="307.6" cy="845.3" r="2.65"/><circle cx="309.0" cy="825.7" r="2.65"/><circle cx="327.7" cy="825.7" r="2.65"/><circle cx="365.0" cy="794.7" r="2.65"/><circle cx="360.7" cy="813.4" r="2.65"/><circle cx="370.6" cy="820.4" r="2.65"/><circle cx="382.0" cy="816.4" r="2.65"/><circle cx="382.0" cy="819.9" r="2.65"/><circle cx="389.6" cy="821.0" r="2.65"/><circle cx="396.2" cy="820.8" r="2.65"/><circle cx="408.3" cy="820.1" r="2.65"/><circle cx="425.0" cy="825.3" r="2.65"/><circle cx="438.6" cy="828.3" r="2.65"/><circle cx="440.0" cy="828.3" r="2.65"/><circle cx="437.2" cy="838.3" r="2.65"/><circle cx="365.0" cy="834.8" r="2.65"/><circle cx="385.7" cy="847.1" r="2.65"/><circle cx="350.1" cy="851.5" r="2.65"/><circle cx="449.1" cy="851.5" r="2.65"/><circle cx="440.7" cy="828.2" r="2.65"/><circle cx="449.5" cy="851.5" r="2.65"/><circle cx="451.0" cy="849.3" r="2.65"/><circle cx="456.1" cy="849.3" r="2.65"/><circle cx="463.6" cy="835.8" r="2.65"/><circle cx="470.2" cy="827.4" r="2.65"/><circle cx="473.6" cy="842.0" r="2.65"/><circle cx="478.0" cy="841.3" r="2.65"/><circle cx="479.1" cy="835.8" r="2.65"/><circle cx="488.6" cy="831.8" r="2.65"/><circle cx="492.6" cy="820.9" r="2.65"/><circle cx="496.2" cy="829.6" r="2.65"/><circle cx="497.7" cy="828.9" r="2.65"/><circle cx="499.1" cy="834.3" r="2.65"/><circle cx="501.0" cy="835.8" r="2.65"/><circle cx="501.6" cy="839.1" r="2.65"/><circle cx="520.3" cy="840.1" r="2.65"/><circle cx="518.8" cy="844.2" r="2.65"/><circle cx="521.0" cy="846.0" r="2.65"/><circle cx="519.6" cy="851.2" r="2.65"/><circle cx="521.8" cy="851.2" r="2.65"/></g>
<circle cx="164.2" cy="705.9" r="2.85" fill="#df3224"/><circle cx="173.3" cy="706.8" r="2.85" fill="#df3224"/><circle cx="189.0" cy="705.9" r="2.85" fill="#df3224"/><circle cx="206.6" cy="705.9" r="2.85" fill="#df3224"/><circle cx="208.7" cy="705.9" r="2.85" fill="#df3224"/><circle cx="227.1" cy="705.9" r="2.85" fill="#df3224"/><circle cx="233.7" cy="705.9" r="2.85" fill="#df3224"/><circle cx="237.2" cy="705.5" r="2.85" fill="#df3224"/><circle cx="239.9" cy="705.9" r="2.85" fill="#df3224"/><circle cx="242.5" cy="705.9" r="2.85" fill="#df3224"/><circle cx="86.4" cy="718.5" r="2.85" fill="#e2542a"/><circle cx="213.9" cy="746.7" r="2.85" fill="#e97f32"/><circle cx="290.7" cy="707.4" r="2.85" fill="#df3224"/><circle cx="300.9" cy="705.0" r="2.85" fill="#df3224"/><circle cx="387.3" cy="704.3" r="2.85" fill="#df3224"/><circle cx="387.7" cy="704.5" r="2.85" fill="#df3224"/><circle cx="400.4" cy="706.3" r="2.85" fill="#e97f32"/><circle cx="421.2" cy="712.0" r="2.85" fill="#e97f32"/><circle cx="431.9" cy="715.0" r="2.85" fill="#e2542a"/><circle cx="451.2" cy="710.2" r="2.85" fill="#e2542a"/><circle cx="485.1" cy="708.0" r="2.85" fill="#e2542a"/><circle cx="351.9" cy="775.8" r="2.85" fill="#e97f32"/><circle cx="502.4" cy="782.0" r="2.85" fill="#f3c674"/>
<circle cx="64.8" cy="748.6" r="2.7" fill="#e31a1c" stroke="#222" stroke-width="0.9"/>
<circle cx="309.0" cy="735.0" r="2.7" fill="#e31a1c" stroke="#222" stroke-width="0.9"/>
<circle cx="441.7" cy="744.2" r="2.7" fill="#e31a1c" stroke="#222" stroke-width="0.9"/>
<circle cx="488.2" cy="775.2" r="2.7" fill="#e31a1c" stroke="#222" stroke-width="0.9"/>
<circle cx="307.4" cy="702.9" r="3.4" fill="#4b0a9e" stroke="#222" stroke-width="0.9"/>
<line x1="226" y1="877.3" x2="256.5" y2="877.3" stroke="#ff0000" stroke-width="1"/>
<rect x="223.4" y="874.8" width="4.8" height="5" fill="#ff0000"/>
<rect x="253.3" y="874.8" width="5.4" height="5" fill="#ff0000"/>
<rect x="314.3" y="873.3" width="7.4" height="7" fill="#ff0000"/>
<line x1="321" y1="877.3" x2="524.5" y2="877.3" stroke="#ff0000" stroke-width="1"/>
<text x="220.0" y="871.7" font-size="9.00" text-anchor="start" fill="#1a1a1a" stroke="#1a1a1a" stroke-width="0.22" font-style="italic">ARMS2</text>
<text x="396.3" y="870.9" font-size="9.00" text-anchor="start" fill="#1a1a1a" stroke="#1a1a1a" stroke-width="0.22" font-style="italic">HTRA1</text>
<path d="M251.9 869.3H259.0" stroke="#222" stroke-width="0.8" fill="none"/>
<path d="M259.5 869.3L257.3 868.0L257.3 870.6Z" fill="#222"/>
<path d="M425.9 868.5H434.2" stroke="#222" stroke-width="0.8" fill="none"/>
<path d="M434.7 868.5L432.5 867.2L432.5 869.8Z" fill="#222"/>
<path d="M179.3 896.0H171.6" stroke="#222" stroke-width="0.8" fill="none"/>
<path d="M171.1 896.0L173.3 894.7L173.3 897.3Z" fill="#222"/>
<line x1="137" y1="890.05" x2="276" y2="890.05" stroke="#6a6a6a" stroke-width="1.3"/>
<rect x="135.8" y="885.1" width="3.3" height="9.8" fill="#000"/>
<rect x="274" y="885.1" width="3.0" height="9.6" fill="#000"/>
<rect x="246.2" y="884.7" width="6.4" height="10.3" fill="#000"/>
<text x="179.8" y="898.6" font-size="9.00" text-anchor="start" fill="#1a1a1a" stroke="#1a1a1a" stroke-width="0.22" font-style="italic">HTRA1-AS1</text>
<line x1="42.4" y1="909" x2="524.5" y2="909" stroke="#c8c8c8" stroke-width="2"/>
<line x1="42.4" y1="909" x2="42.4" y2="913.7" stroke="#9a9a9a" stroke-width="1.1"/>
<line x1="168.4" y1="909" x2="168.4" y2="913.7" stroke="#9a9a9a" stroke-width="1.1"/>
<line x1="300.6" y1="909" x2="300.6" y2="913.7" stroke="#9a9a9a" stroke-width="1.1"/>
<line x1="432.0" y1="909" x2="432.0" y2="913.7" stroke="#9a9a9a" stroke-width="1.1"/>
<line x1="524.4" y1="909" x2="524.4" y2="913.7" stroke="#9a9a9a" stroke-width="1.1"/>
<text x="168.6" y="922.6" font-size="8.60" text-anchor="middle" fill="#1a1a1a" stroke="#1a1a1a" stroke-width="0.22">124,210,000</text>
<text x="300.8" y="922.6" font-size="8.60" text-anchor="middle" fill="#1a1a1a" stroke="#1a1a1a" stroke-width="0.22">124,220,000</text>
<text x="432.2" y="922.6" font-size="8.60" text-anchor="middle" fill="#1a1a1a" stroke="#1a1a1a" stroke-width="0.22">124,230,000</text>
<text x="283.8" y="940.5" font-size="11.00" text-anchor="middle" fill="#1a1a1a" stroke="#1a1a1a" stroke-width="0.22">Chromosome 10</text>
<text x="548.3" y="697.3" font-size="8.50" text-anchor="middle" fill="#1a1a1a" stroke="#1a1a1a" stroke-width="0.22">r2</text>
<rect x="540.1" y="700.90" width="16.1" height="8.1" fill="#d7191c"/>
<text x="558.2" y="709.1" font-size="8.30" text-anchor="start" fill="#1a1a1a" stroke="#1a1a1a" stroke-width="0.22">1</text>
<rect x="540.1" y="708.86" width="16.1" height="8.1" fill="#e4572a"/>
<text x="558.2" y="717.1" font-size="8.30" text-anchor="start" fill="#1a1a1a" stroke="#1a1a1a" stroke-width="0.22">0.9</text>
<rect x="540.1" y="716.82" width="16.1" height="8.1" fill="#ec8a3b"/>
<text x="558.2" y="725.0" font-size="8.30" text-anchor="start" fill="#1a1a1a" stroke="#1a1a1a" stroke-width="0.22">0.8</text>
<rect x="540.1" y="724.78" width="16.1" height="8.1" fill="#f0b563"/>
<text x="558.2" y="733.0" font-size="8.30" text-anchor="start" fill="#1a1a1a" stroke="#1a1a1a" stroke-width="0.22">0.7</text>
<rect x="540.1" y="732.74" width="16.1" height="8.1" fill="#f6d98e"/>
<text x="558.2" y="740.9" font-size="8.30" text-anchor="start" fill="#1a1a1a" stroke="#1a1a1a" stroke-width="0.22">0.6</text>
<rect x="540.1" y="740.70" width="16.1" height="8.1" fill="#ffffc6"/>
<text x="558.2" y="748.9" font-size="8.30" text-anchor="start" fill="#1a1a1a" stroke="#1a1a1a" stroke-width="0.22">0.5</text>
<rect x="540.1" y="748.66" width="16.1" height="8.1" fill="#c4ecb8"/>
<text x="558.2" y="756.9" font-size="8.30" text-anchor="start" fill="#1a1a1a" stroke="#1a1a1a" stroke-width="0.22">0.4</text>
<rect x="540.1" y="756.62" width="16.1" height="8.1" fill="#82d5c0"/>
<text x="558.2" y="764.8" font-size="8.30" text-anchor="start" fill="#1a1a1a" stroke="#1a1a1a" stroke-width="0.22">0.3</text>
<rect x="540.1" y="764.58" width="16.1" height="8.1" fill="#36b6c1"/>
<text x="558.2" y="772.8" font-size="8.30" text-anchor="start" fill="#1a1a1a" stroke="#1a1a1a" stroke-width="0.22">0.2</text>
<rect x="540.1" y="772.54" width="16.1" height="8.1" fill="#1d98c6"/>
<text x="558.2" y="780.7" font-size="8.30" text-anchor="start" fill="#1a1a1a" stroke="#1a1a1a" stroke-width="0.22">0.1</text>
<circle cx="540.5" cy="796.8" r="3.4" fill="#4b0a9e" stroke="#222" stroke-width="0.9"/>
<circle cx="540.5" cy="808.9" r="3.4" fill="#9b3cf5" stroke="#222" stroke-width="0.9"/>
<circle cx="540.5" cy="820.7" r="2.8" fill="#ee1111" stroke="#222" stroke-width="0.9"/>
<text x="548.9" y="798.8" font-size="8.00" text-anchor="start" fill="#1a1a1a" stroke="#1a1a1a" stroke-width="0.22">Top lead SNP</text>
<text x="548.9" y="810.9" font-size="8.00" text-anchor="start" fill="#1a1a1a" stroke="#1a1a1a" stroke-width="0.22">Lead SNPs</text>
<text x="548.9" y="822.7" font-size="8.00" text-anchor="start" fill="#1a1a1a" stroke="#1a1a1a" stroke-width="0.22">Independent significant SNPs</text>
<rect x="540" y="869.3" width="16.6" height="3.4" fill="#ff0000"/>
<rect x="540" y="880.8" width="16.6" height="3.4" fill="#0000ff"/>
<rect x="540" y="893.1" width="16.6" height="3.4" fill="#333333"/>
<text x="560.5" y="873.0" font-size="8.00" text-anchor="start" fill="#1a1a1a" stroke="#1a1a1a" stroke-width="0.22">Mapped genes</text>
<text x="560.5" y="884.5" font-size="8.00" text-anchor="start" fill="#1a1a1a" stroke="#1a1a1a" stroke-width="0.22">Non-mapped protein coding genes</text>
<text x="560.5" y="896.8" font-size="8.00" text-anchor="start" fill="#1a1a1a" stroke="#1a1a1a" stroke-width="0.22">Non-mapped non-coding genes</text></svg></body></html>
